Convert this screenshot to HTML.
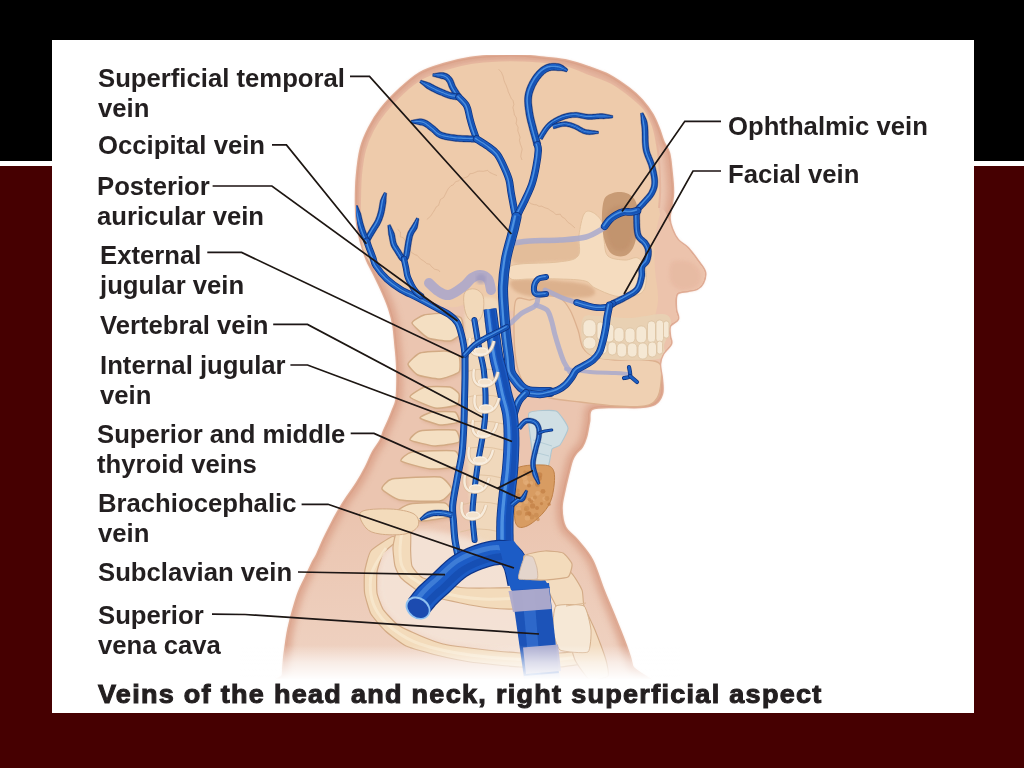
<!DOCTYPE html>
<html><head><meta charset="utf-8">
<style>
html,body{margin:0;padding:0;width:1024px;height:768px;overflow:hidden;background:#460001;}
body{position:relative;font-family:"Liberation Sans",sans-serif;}
#top{position:absolute;left:0;top:0;width:1024px;height:161px;background:#000;}
#band{position:absolute;left:0;top:161px;width:1024px;height:5px;background:#fff;}
#panel{position:absolute;left:52px;top:40px;width:922px;height:673px;background:#fff;overflow:hidden;}
#panel svg{position:absolute;left:0;top:0;}
.lb{position:absolute;will-change:transform;font-weight:bold;font-size:25.7px;line-height:30px;color:#231f20;white-space:nowrap;}
.cap{position:absolute;will-change:transform;font-weight:bold;font-size:25px;color:#231f20;white-space:nowrap;-webkit-text-stroke:1px #231f20;letter-spacing:1.2px;transform-origin:0 0;transform:scaleX(1.08);}
</style></head><body>
<div id="top"></div><div id="band"></div>
<div id="panel">
<svg width="922" height="673" viewBox="52 40 922 673">
<defs>
<linearGradient id="fadeB" x1="0" y1="0" x2="0" y2="1"><stop offset="0" stop-color="#fff" stop-opacity="0"/><stop offset="0.5" stop-color="#fff" stop-opacity="0.6"/><stop offset="1" stop-color="#fff" stop-opacity="1"/></linearGradient>
<filter id="b1" x="-10%" y="-10%" width="120%" height="120%"><feGaussianBlur stdDeviation="1.5"/></filter>
<filter id="b2" x="-10%" y="-10%" width="120%" height="120%"><feGaussianBlur stdDeviation="3"/></filter>
<filter id="b05"><feGaussianBlur stdDeviation="0.6"/></filter>
<clipPath id="silclip"><path d="M282.0,700.0 C223.2,695.8 282.7,681.7 283.0,675.0 C283.3,668.3 283.6,664.5 284.0,660.0 C284.4,655.5 284.8,653.2 285.5,648.0 C286.2,642.8 287.2,635.2 288.5,629.0 C289.8,622.8 291.2,617.2 293.0,611.0 C294.8,604.8 296.8,597.7 299.0,592.0 C301.2,586.3 303.7,582.0 306.0,577.0 C308.3,572.0 311.2,565.7 313.0,562.0 C314.8,558.3 315.2,558.8 317.0,555.0 C318.8,551.2 321.7,544.0 324.0,539.0 C326.3,534.0 328.7,529.5 331.0,525.0 C333.3,520.5 335.5,516.3 338.0,512.0 C340.5,507.7 342.8,503.8 346.0,499.0 C349.2,494.2 353.7,488.3 357.0,483.0 C360.3,477.7 363.3,472.2 366.0,467.0 C368.7,461.8 370.5,456.5 373.0,452.0 C375.5,447.5 379.0,443.5 380.8,440.0 C382.6,436.5 382.6,434.3 384.0,431.0 C385.4,427.7 387.5,423.5 389.0,420.0 C390.5,416.5 391.8,413.3 393.0,410.0 C394.2,406.7 395.8,404.8 396.5,400.0 C397.2,395.2 397.4,387.3 397.5,381.0 C397.6,374.7 397.3,368.0 397.0,362.0 C396.7,356.0 396.1,351.2 395.5,345.0 C394.9,338.8 394.4,330.9 393.4,325.0 C392.4,319.1 391.2,314.8 389.5,309.5 C387.8,304.2 385.6,298.9 383.0,293.0 C380.4,287.1 376.7,279.5 374.0,274.0 C371.3,268.5 369.2,265.3 367.0,260.0 C364.8,254.7 362.7,248.3 361.0,242.0 C359.3,235.7 357.8,229.0 357.0,222.0 C356.2,215.0 356.0,207.8 356.0,200.0 C356.0,192.2 356.2,183.7 357.0,175.0 C357.8,166.3 359.0,155.8 361.0,148.0 C363.0,140.2 365.7,134.5 369.0,128.0 C372.3,121.5 375.8,115.5 381.0,109.0 C386.2,102.5 393.5,95.0 400.0,89.0 C406.5,83.0 412.7,77.2 420.0,73.0 C427.3,68.8 435.7,66.5 444.0,64.0 C452.3,61.5 460.7,59.4 470.0,58.0 C479.3,56.6 491.3,55.9 500.0,55.5 C508.7,55.1 514.3,55.1 522.0,55.5 C529.7,55.9 538.3,57.1 546.0,58.0 C553.7,58.9 560.7,59.4 568.0,61.0 C575.3,62.6 583.1,65.4 590.0,67.8 C596.9,70.2 603.0,72.1 609.5,75.6 C616.0,79.1 623.6,84.5 629.0,88.6 C634.4,92.7 638.1,96.1 642.0,100.4 C645.9,104.8 649.7,109.9 652.5,114.7 C655.3,119.5 657.2,124.5 659.0,129.0 C660.8,133.6 661.8,138.0 663.5,142.0 C665.2,146.0 667.6,147.9 669.0,153.0 C670.4,158.1 670.9,166.0 671.6,172.5 C672.3,179.0 673.0,186.6 673.0,192.0 C673.0,197.4 672.2,200.7 671.6,205.0 C671.0,209.3 669.4,214.0 669.5,218.0 C669.6,222.0 670.6,225.3 672.0,229.0 C673.4,232.7 675.3,236.8 678.0,240.0 C680.7,243.2 684.7,244.5 688.0,248.0 C691.3,251.5 695.2,257.0 698.0,261.0 C700.8,265.0 704.2,268.3 705.0,272.0 C705.8,275.7 704.3,280.2 703.0,283.0 C701.7,285.8 699.5,287.7 697.0,289.0 C694.5,290.3 691.3,290.2 688.0,291.0 C684.7,291.8 679.0,291.0 677.0,294.0 C675.0,297.0 675.8,304.8 676.0,309.0 C676.2,313.2 679.0,316.2 678.0,319.0 C677.0,321.8 671.3,323.2 670.0,326.0 C668.7,328.8 669.8,333.0 670.0,336.0 C670.2,339.0 672.2,341.0 671.0,344.0 C669.8,347.0 664.8,350.7 663.0,354.0 C661.2,357.3 660.2,359.7 660.0,364.0 C659.8,368.3 661.7,375.0 662.0,380.0 C662.3,385.0 663.2,390.0 662.0,394.0 C660.8,398.0 658.7,401.8 655.0,404.0 C651.3,406.2 646.7,406.5 640.0,407.0 C633.3,407.5 623.0,406.7 615.0,407.0 C607.0,407.3 596.3,406.5 592.0,409.0 C587.7,411.5 590.0,417.3 589.0,422.0 C588.0,426.7 587.2,432.9 586.0,437.0 C584.8,441.1 583.7,443.8 582.0,446.5 C580.3,449.2 577.7,450.8 576.0,453.0 C574.3,455.2 573.1,457.3 572.0,460.0 C570.9,462.7 570.2,466.2 569.5,469.0 C568.8,471.8 568.3,473.5 567.5,477.0 C566.7,480.5 565.5,484.8 564.5,490.0 C563.5,495.2 561.4,501.8 561.5,508.0 C561.6,514.2 562.4,521.7 565.0,527.0 C567.6,532.3 572.5,534.5 577.0,540.0 C581.5,545.5 587.7,551.8 592.0,560.0 C596.3,568.2 599.2,579.3 603.0,589.0 C606.8,598.7 611.2,608.5 615.0,618.0 C618.8,627.5 623.2,638.0 626.0,646.0 C628.8,654.0 630.3,657.0 632.0,666.0 C633.7,675.0 694.3,694.3 636.0,700.0 C577.7,705.7 340.8,704.2 282.0,700.0 Z"/></clipPath>
<filter id="gb" x="0" y="0" width="100%" height="100%"><feGaussianBlur stdDeviation="0.45"/></filter>
<linearGradient id="shg" x1="0" y1="0" x2="0" y2="1"><stop offset="0" stop-color="#f2dccf" stop-opacity="0"/><stop offset="1" stop-color="#f2dccf" stop-opacity="0.7"/></linearGradient>
</defs>
<g filter="url(#gb)">
<path d="M282.0,700.0 C223.2,695.8 282.7,681.7 283.0,675.0 C283.3,668.3 283.6,664.5 284.0,660.0 C284.4,655.5 284.8,653.2 285.5,648.0 C286.2,642.8 287.2,635.2 288.5,629.0 C289.8,622.8 291.2,617.2 293.0,611.0 C294.8,604.8 296.8,597.7 299.0,592.0 C301.2,586.3 303.7,582.0 306.0,577.0 C308.3,572.0 311.2,565.7 313.0,562.0 C314.8,558.3 315.2,558.8 317.0,555.0 C318.8,551.2 321.7,544.0 324.0,539.0 C326.3,534.0 328.7,529.5 331.0,525.0 C333.3,520.5 335.5,516.3 338.0,512.0 C340.5,507.7 342.8,503.8 346.0,499.0 C349.2,494.2 353.7,488.3 357.0,483.0 C360.3,477.7 363.3,472.2 366.0,467.0 C368.7,461.8 370.5,456.5 373.0,452.0 C375.5,447.5 379.0,443.5 380.8,440.0 C382.6,436.5 382.6,434.3 384.0,431.0 C385.4,427.7 387.5,423.5 389.0,420.0 C390.5,416.5 391.8,413.3 393.0,410.0 C394.2,406.7 395.8,404.8 396.5,400.0 C397.2,395.2 397.4,387.3 397.5,381.0 C397.6,374.7 397.3,368.0 397.0,362.0 C396.7,356.0 396.1,351.2 395.5,345.0 C394.9,338.8 394.4,330.9 393.4,325.0 C392.4,319.1 391.2,314.8 389.5,309.5 C387.8,304.2 385.6,298.9 383.0,293.0 C380.4,287.1 376.7,279.5 374.0,274.0 C371.3,268.5 369.2,265.3 367.0,260.0 C364.8,254.7 362.7,248.3 361.0,242.0 C359.3,235.7 357.8,229.0 357.0,222.0 C356.2,215.0 356.0,207.8 356.0,200.0 C356.0,192.2 356.2,183.7 357.0,175.0 C357.8,166.3 359.0,155.8 361.0,148.0 C363.0,140.2 365.7,134.5 369.0,128.0 C372.3,121.5 375.8,115.5 381.0,109.0 C386.2,102.5 393.5,95.0 400.0,89.0 C406.5,83.0 412.7,77.2 420.0,73.0 C427.3,68.8 435.7,66.5 444.0,64.0 C452.3,61.5 460.7,59.4 470.0,58.0 C479.3,56.6 491.3,55.9 500.0,55.5 C508.7,55.1 514.3,55.1 522.0,55.5 C529.7,55.9 538.3,57.1 546.0,58.0 C553.7,58.9 560.7,59.4 568.0,61.0 C575.3,62.6 583.1,65.4 590.0,67.8 C596.9,70.2 603.0,72.1 609.5,75.6 C616.0,79.1 623.6,84.5 629.0,88.6 C634.4,92.7 638.1,96.1 642.0,100.4 C645.9,104.8 649.7,109.9 652.5,114.7 C655.3,119.5 657.2,124.5 659.0,129.0 C660.8,133.6 661.8,138.0 663.5,142.0 C665.2,146.0 667.6,147.9 669.0,153.0 C670.4,158.1 670.9,166.0 671.6,172.5 C672.3,179.0 673.0,186.6 673.0,192.0 C673.0,197.4 672.2,200.7 671.6,205.0 C671.0,209.3 669.4,214.0 669.5,218.0 C669.6,222.0 670.6,225.3 672.0,229.0 C673.4,232.7 675.3,236.8 678.0,240.0 C680.7,243.2 684.7,244.5 688.0,248.0 C691.3,251.5 695.2,257.0 698.0,261.0 C700.8,265.0 704.2,268.3 705.0,272.0 C705.8,275.7 704.3,280.2 703.0,283.0 C701.7,285.8 699.5,287.7 697.0,289.0 C694.5,290.3 691.3,290.2 688.0,291.0 C684.7,291.8 679.0,291.0 677.0,294.0 C675.0,297.0 675.8,304.8 676.0,309.0 C676.2,313.2 679.0,316.2 678.0,319.0 C677.0,321.8 671.3,323.2 670.0,326.0 C668.7,328.8 669.8,333.0 670.0,336.0 C670.2,339.0 672.2,341.0 671.0,344.0 C669.8,347.0 664.8,350.7 663.0,354.0 C661.2,357.3 660.2,359.7 660.0,364.0 C659.8,368.3 661.7,375.0 662.0,380.0 C662.3,385.0 663.2,390.0 662.0,394.0 C660.8,398.0 658.7,401.8 655.0,404.0 C651.3,406.2 646.7,406.5 640.0,407.0 C633.3,407.5 623.0,406.7 615.0,407.0 C607.0,407.3 596.3,406.5 592.0,409.0 C587.7,411.5 590.0,417.3 589.0,422.0 C588.0,426.7 587.2,432.9 586.0,437.0 C584.8,441.1 583.7,443.8 582.0,446.5 C580.3,449.2 577.7,450.8 576.0,453.0 C574.3,455.2 573.1,457.3 572.0,460.0 C570.9,462.7 570.2,466.2 569.5,469.0 C568.8,471.8 568.3,473.5 567.5,477.0 C566.7,480.5 565.5,484.8 564.5,490.0 C563.5,495.2 561.4,501.8 561.5,508.0 C561.6,514.2 562.4,521.7 565.0,527.0 C567.6,532.3 572.5,534.5 577.0,540.0 C581.5,545.5 587.7,551.8 592.0,560.0 C596.3,568.2 599.2,579.3 603.0,589.0 C606.8,598.7 611.2,608.5 615.0,618.0 C618.8,627.5 623.2,638.0 626.0,646.0 C628.8,654.0 630.3,657.0 632.0,666.0 C633.7,675.0 694.3,694.3 636.0,700.0 C577.7,705.7 340.8,704.2 282.0,700.0 Z" fill="#e3b29b" filter="url(#b1)"/>
<linearGradient id="skg" x1="0" y1="0" x2="0" y2="1" gradientUnits="userSpaceOnUse" gradientTransform="scale(1,1)"><stop offset="0" stop-color="#ebc5b0"/></linearGradient>
<path d="M282.0,700.0 C223.2,695.8 282.7,681.7 283.0,675.0 C283.3,668.3 283.6,664.5 284.0,660.0 C284.4,655.5 284.8,653.2 285.5,648.0 C286.2,642.8 287.2,635.2 288.5,629.0 C289.8,622.8 291.2,617.2 293.0,611.0 C294.8,604.8 296.8,597.7 299.0,592.0 C301.2,586.3 303.7,582.0 306.0,577.0 C308.3,572.0 311.2,565.7 313.0,562.0 C314.8,558.3 315.2,558.8 317.0,555.0 C318.8,551.2 321.7,544.0 324.0,539.0 C326.3,534.0 328.7,529.5 331.0,525.0 C333.3,520.5 335.5,516.3 338.0,512.0 C340.5,507.7 342.8,503.8 346.0,499.0 C349.2,494.2 353.7,488.3 357.0,483.0 C360.3,477.7 363.3,472.2 366.0,467.0 C368.7,461.8 370.5,456.5 373.0,452.0 C375.5,447.5 379.0,443.5 380.8,440.0 C382.6,436.5 382.6,434.3 384.0,431.0 C385.4,427.7 387.5,423.5 389.0,420.0 C390.5,416.5 391.8,413.3 393.0,410.0 C394.2,406.7 395.8,404.8 396.5,400.0 C397.2,395.2 397.4,387.3 397.5,381.0 C397.6,374.7 397.3,368.0 397.0,362.0 C396.7,356.0 396.1,351.2 395.5,345.0 C394.9,338.8 394.4,330.9 393.4,325.0 C392.4,319.1 391.2,314.8 389.5,309.5 C387.8,304.2 385.6,298.9 383.0,293.0 C380.4,287.1 376.7,279.5 374.0,274.0 C371.3,268.5 369.2,265.3 367.0,260.0 C364.8,254.7 362.7,248.3 361.0,242.0 C359.3,235.7 357.8,229.0 357.0,222.0 C356.2,215.0 356.0,207.8 356.0,200.0 C356.0,192.2 356.2,183.7 357.0,175.0 C357.8,166.3 359.0,155.8 361.0,148.0 C363.0,140.2 365.7,134.5 369.0,128.0 C372.3,121.5 375.8,115.5 381.0,109.0 C386.2,102.5 393.5,95.0 400.0,89.0 C406.5,83.0 412.7,77.2 420.0,73.0 C427.3,68.8 435.7,66.5 444.0,64.0 C452.3,61.5 460.7,59.4 470.0,58.0 C479.3,56.6 491.3,55.9 500.0,55.5 C508.7,55.1 514.3,55.1 522.0,55.5 C529.7,55.9 538.3,57.1 546.0,58.0 C553.7,58.9 560.7,59.4 568.0,61.0 C575.3,62.6 583.1,65.4 590.0,67.8 C596.9,70.2 603.0,72.1 609.5,75.6 C616.0,79.1 623.6,84.5 629.0,88.6 C634.4,92.7 638.1,96.1 642.0,100.4 C645.9,104.8 649.7,109.9 652.5,114.7 C655.3,119.5 657.2,124.5 659.0,129.0 C660.8,133.6 661.8,138.0 663.5,142.0 C665.2,146.0 667.6,147.9 669.0,153.0 C670.4,158.1 670.9,166.0 671.6,172.5 C672.3,179.0 673.0,186.6 673.0,192.0 C673.0,197.4 672.2,200.7 671.6,205.0 C671.0,209.3 669.4,214.0 669.5,218.0 C669.6,222.0 670.6,225.3 672.0,229.0 C673.4,232.7 675.3,236.8 678.0,240.0 C680.7,243.2 684.7,244.5 688.0,248.0 C691.3,251.5 695.2,257.0 698.0,261.0 C700.8,265.0 704.2,268.3 705.0,272.0 C705.8,275.7 704.3,280.2 703.0,283.0 C701.7,285.8 699.5,287.7 697.0,289.0 C694.5,290.3 691.3,290.2 688.0,291.0 C684.7,291.8 679.0,291.0 677.0,294.0 C675.0,297.0 675.8,304.8 676.0,309.0 C676.2,313.2 679.0,316.2 678.0,319.0 C677.0,321.8 671.3,323.2 670.0,326.0 C668.7,328.8 669.8,333.0 670.0,336.0 C670.2,339.0 672.2,341.0 671.0,344.0 C669.8,347.0 664.8,350.7 663.0,354.0 C661.2,357.3 660.2,359.7 660.0,364.0 C659.8,368.3 661.7,375.0 662.0,380.0 C662.3,385.0 663.2,390.0 662.0,394.0 C660.8,398.0 658.7,401.8 655.0,404.0 C651.3,406.2 646.7,406.5 640.0,407.0 C633.3,407.5 623.0,406.7 615.0,407.0 C607.0,407.3 596.3,406.5 592.0,409.0 C587.7,411.5 590.0,417.3 589.0,422.0 C588.0,426.7 587.2,432.9 586.0,437.0 C584.8,441.1 583.7,443.8 582.0,446.5 C580.3,449.2 577.7,450.8 576.0,453.0 C574.3,455.2 573.1,457.3 572.0,460.0 C570.9,462.7 570.2,466.2 569.5,469.0 C568.8,471.8 568.3,473.5 567.5,477.0 C566.7,480.5 565.5,484.8 564.5,490.0 C563.5,495.2 561.4,501.8 561.5,508.0 C561.6,514.2 562.4,521.7 565.0,527.0 C567.6,532.3 572.5,534.5 577.0,540.0 C581.5,545.5 587.7,551.8 592.0,560.0 C596.3,568.2 599.2,579.3 603.0,589.0 C606.8,598.7 611.2,608.5 615.0,618.0 C618.8,627.5 623.2,638.0 626.0,646.0 C628.8,654.0 630.3,657.0 632.0,666.0 C633.7,675.0 694.3,694.3 636.0,700.0 C577.7,705.7 340.8,704.2 282.0,700.0 Z" fill="#ebc5b0" stroke="#e0ac95" stroke-width="2.5"/>
<rect x="280" y="520" width="380" height="180" fill="url(#shg)" clip-path="url(#silclip)"/>
<g clip-path="url(#silclip)">
<path d="M282.0,700.0 C223.2,695.8 282.7,681.7 283.0,675.0 C283.3,668.3 283.6,664.5 284.0,660.0 C284.4,655.5 284.8,653.2 285.5,648.0 C286.2,642.8 287.2,635.2 288.5,629.0 C289.8,622.8 291.2,617.2 293.0,611.0 C294.8,604.8 296.8,597.7 299.0,592.0 C301.2,586.3 303.7,582.0 306.0,577.0 C308.3,572.0 311.2,565.7 313.0,562.0 C314.8,558.3 315.2,558.8 317.0,555.0 C318.8,551.2 321.7,544.0 324.0,539.0 C326.3,534.0 328.7,529.5 331.0,525.0 C333.3,520.5 335.5,516.3 338.0,512.0 C340.5,507.7 342.8,503.8 346.0,499.0 C349.2,494.2 353.7,488.3 357.0,483.0 C360.3,477.7 363.3,472.2 366.0,467.0 C368.7,461.8 370.5,456.5 373.0,452.0 C375.5,447.5 379.0,443.5 380.8,440.0 C382.6,436.5 382.6,434.3 384.0,431.0 C385.4,427.7 387.5,423.5 389.0,420.0 C390.5,416.5 391.8,413.3 393.0,410.0 C394.2,406.7 395.8,404.8 396.5,400.0 C397.2,395.2 397.4,387.3 397.5,381.0 C397.6,374.7 397.3,368.0 397.0,362.0 C396.7,356.0 396.1,351.2 395.5,345.0 C394.9,338.8 394.4,330.9 393.4,325.0 C392.4,319.1 391.2,314.8 389.5,309.5 C387.8,304.2 385.6,298.9 383.0,293.0 C380.4,287.1 376.7,279.5 374.0,274.0 C371.3,268.5 369.2,265.3 367.0,260.0 C364.8,254.7 362.7,248.3 361.0,242.0 C359.3,235.7 357.8,229.0 357.0,222.0 C356.2,215.0 356.0,207.8 356.0,200.0 C356.0,192.2 356.2,183.7 357.0,175.0 C357.8,166.3 359.0,155.8 361.0,148.0 C363.0,140.2 365.7,134.5 369.0,128.0 C372.3,121.5 375.8,115.5 381.0,109.0 C386.2,102.5 393.5,95.0 400.0,89.0 C406.5,83.0 412.7,77.2 420.0,73.0 C427.3,68.8 435.7,66.5 444.0,64.0 C452.3,61.5 460.7,59.4 470.0,58.0 C479.3,56.6 491.3,55.9 500.0,55.5 C508.7,55.1 514.3,55.1 522.0,55.5 C529.7,55.9 538.3,57.1 546.0,58.0 C553.7,58.9 560.7,59.4 568.0,61.0 C575.3,62.6 583.1,65.4 590.0,67.8 C596.9,70.2 603.0,72.1 609.5,75.6 C616.0,79.1 623.6,84.5 629.0,88.6 C634.4,92.7 638.1,96.1 642.0,100.4 C645.9,104.8 649.7,109.9 652.5,114.7 C655.3,119.5 657.2,124.5 659.0,129.0 C660.8,133.6 661.8,138.0 663.5,142.0 C665.2,146.0 667.6,147.9 669.0,153.0 C670.4,158.1 670.9,166.0 671.6,172.5 C672.3,179.0 673.0,186.6 673.0,192.0 C673.0,197.4 672.2,200.7 671.6,205.0 C671.0,209.3 669.4,214.0 669.5,218.0 C669.6,222.0 670.6,225.3 672.0,229.0 C673.4,232.7 675.3,236.8 678.0,240.0 C680.7,243.2 684.7,244.5 688.0,248.0 C691.3,251.5 695.2,257.0 698.0,261.0 C700.8,265.0 704.2,268.3 705.0,272.0 C705.8,275.7 704.3,280.2 703.0,283.0 C701.7,285.8 699.5,287.7 697.0,289.0 C694.5,290.3 691.3,290.2 688.0,291.0 C684.7,291.8 679.0,291.0 677.0,294.0 C675.0,297.0 675.8,304.8 676.0,309.0 C676.2,313.2 679.0,316.2 678.0,319.0 C677.0,321.8 671.3,323.2 670.0,326.0 C668.7,328.8 669.8,333.0 670.0,336.0 C670.2,339.0 672.2,341.0 671.0,344.0 C669.8,347.0 664.8,350.7 663.0,354.0 C661.2,357.3 660.2,359.7 660.0,364.0 C659.8,368.3 661.7,375.0 662.0,380.0 C662.3,385.0 663.2,390.0 662.0,394.0 C660.8,398.0 658.7,401.8 655.0,404.0 C651.3,406.2 646.7,406.5 640.0,407.0 C633.3,407.5 623.0,406.7 615.0,407.0 C607.0,407.3 596.3,406.5 592.0,409.0 C587.7,411.5 590.0,417.3 589.0,422.0 C588.0,426.7 587.2,432.9 586.0,437.0 C584.8,441.1 583.7,443.8 582.0,446.5 C580.3,449.2 577.7,450.8 576.0,453.0 C574.3,455.2 573.1,457.3 572.0,460.0 C570.9,462.7 570.2,466.2 569.5,469.0 C568.8,471.8 568.3,473.5 567.5,477.0 C566.7,480.5 565.5,484.8 564.5,490.0 C563.5,495.2 561.4,501.8 561.5,508.0 C561.6,514.2 562.4,521.7 565.0,527.0 C567.6,532.3 572.5,534.5 577.0,540.0 C581.5,545.5 587.7,551.8 592.0,560.0 C596.3,568.2 599.2,579.3 603.0,589.0 C606.8,598.7 611.2,608.5 615.0,618.0 C618.8,627.5 623.2,638.0 626.0,646.0 C628.8,654.0 630.3,657.0 632.0,666.0 C633.7,675.0 694.3,694.3 636.0,700.0 C577.7,705.7 340.8,704.2 282.0,700.0 Z" fill="none" stroke="#d89c84" stroke-width="11" filter="url(#b2)" opacity="0.75"/>
<path d="M376.0,271.0 C372.3,267.2 369.3,262.3 367.0,258.0 C364.7,253.7 363.2,250.5 362.0,245.0 C360.8,239.5 360.3,232.5 360.0,225.0 C359.7,217.5 359.8,208.3 360.0,200.0 C360.2,191.7 360.2,183.3 361.0,175.0 C361.8,166.7 363.0,157.5 365.0,150.0 C367.0,142.5 369.7,136.3 373.0,130.0 C376.3,123.7 380.0,118.2 385.0,112.0 C390.0,105.8 396.7,98.7 403.0,93.0 C409.3,87.3 415.8,82.0 423.0,78.0 C430.2,74.0 438.0,71.5 446.0,69.0 C454.0,66.5 462.0,64.4 471.0,63.0 C480.0,61.6 491.5,60.9 500.0,60.5 C508.5,60.1 514.5,60.2 522.0,60.5 C529.5,60.8 537.3,61.1 545.0,62.0 C552.7,62.9 560.5,64.0 568.0,66.0 C575.5,68.0 582.7,71.5 590.0,74.3 C597.3,77.1 605.5,79.5 612.0,83.0 C618.5,86.5 623.5,90.6 629.0,95.0 C634.5,99.4 640.8,104.5 644.7,109.5 C648.6,114.5 650.5,119.8 652.5,125.0 C654.5,130.2 655.3,134.9 656.4,140.7 C657.5,146.5 658.4,153.4 659.0,160.0 C659.6,166.6 659.8,174.2 660.0,180.0 C660.2,185.8 660.2,190.3 660.0,195.0 C659.8,199.7 658.7,203.5 659.0,208.0 C659.3,212.5 661.0,217.3 662.0,222.0 C663.0,226.7 664.0,231.0 665.0,236.0 C666.0,241.0 667.3,246.7 668.0,252.0 C668.7,257.3 669.7,263.3 669.0,268.0 C668.3,272.7 664.2,276.0 664.0,280.0 C663.8,284.0 667.5,287.0 668.0,292.0 C668.5,297.0 667.0,304.3 667.0,310.0 C667.0,315.7 668.8,321.0 668.0,326.0 C667.2,331.0 663.3,335.7 662.0,340.0 C660.7,344.3 661.2,348.3 660.0,352.0 C658.8,355.7 656.0,357.7 655.0,362.0 C654.0,366.3 654.0,372.5 654.0,378.0 C654.0,383.5 655.7,391.0 655.0,395.0 C654.3,399.0 654.2,400.5 650.0,402.0 C645.8,403.5 637.5,403.8 630.0,404.0 C622.5,404.2 612.5,403.3 605.0,403.0 C597.5,402.7 591.7,402.8 585.0,402.0 C578.3,401.2 571.2,399.7 565.0,398.0 C558.8,396.3 552.2,395.0 548.0,392.0 C543.8,389.0 541.8,385.3 540.0,380.0 C538.2,374.7 537.8,367.5 537.0,360.0 C536.2,352.5 535.8,342.0 535.0,335.0 C534.2,328.0 534.2,321.8 532.0,318.0 C529.8,314.2 526.5,313.3 522.0,312.0 C517.5,310.7 510.3,311.0 505.0,310.0 C499.7,309.0 495.5,307.3 490.0,306.0 C484.5,304.7 477.7,301.8 472.0,302.0 C466.3,302.2 461.3,306.5 456.0,307.0 C450.7,307.5 446.0,306.7 440.0,305.0 C434.0,303.3 426.2,299.7 420.0,297.0 C413.8,294.3 408.2,291.7 403.0,289.0 C397.8,286.3 393.5,284.0 389.0,281.0 C384.5,278.0 379.7,274.8 376.0,271.0 Z" fill="#eecbab" filter="url(#b05)"/>
<path d="M362.0,250.0 C361.7,245.8 360.3,233.3 360.0,225.0 C359.7,216.7 359.8,208.3 360.0,200.0 C360.2,191.7 360.2,183.3 361.0,175.0 C361.8,166.7 363.0,157.5 365.0,150.0 C367.0,142.5 369.7,136.3 373.0,130.0 C376.3,123.7 380.0,118.2 385.0,112.0 C390.0,105.8 396.7,98.7 403.0,93.0 C409.3,87.3 415.8,82.0 423.0,78.0 C430.2,74.0 438.0,71.5 446.0,69.0 C454.0,66.5 462.0,64.4 471.0,63.0 C480.0,61.6 491.5,60.9 500.0,60.5 C508.5,60.1 514.5,60.2 522.0,60.5 C529.5,60.8 537.3,61.1 545.0,62.0 C552.7,62.9 560.5,64.0 568.0,66.0 C575.5,68.0 582.7,71.5 590.0,74.3 C597.3,77.1 605.5,79.5 612.0,83.0 C618.5,86.5 623.5,90.6 629.0,95.0 C634.5,99.4 640.8,104.5 644.7,109.5 C648.6,114.5 650.5,119.8 652.5,125.0 C654.5,130.2 655.3,134.9 656.4,140.7 C657.5,146.5 658.4,153.4 659.0,160.0 C659.6,166.6 659.8,174.2 660.0,180.0 C660.2,185.8 660.2,190.3 660.0,195.0 C659.8,199.7 659.2,205.8 659.0,208.0" fill="none" stroke="#e4b49c" stroke-width="2" opacity="0.9"/>
<path d="M498.6,69.2 L501.4,72.3 L503.1,76.3 L503.9,80.0 L504.9,82.8 L506.0,85.0 L507.8,89.8 L508.1,91.3 L510.3,96.3 L511.2,98.3 L513.1,100.7 L513.9,104.5 L512.9,107.3 L514.0,112.3 L514.5,114.9 L516.3,117.7 L516.7,120.1 L516.1,123.6 L518.1,127.3 L517.8,130.8 L518.7,133.2 L520.1,137.3 L519.4,140.2 L520.4,144.2 L521.2,146.2 L522.2,149.1 L521.1,154.0 L520.8,156.6 L522.0,160.0" fill="none" stroke="#d5aa86" stroke-width="1" opacity="0.55"/>
<path d="M426.9,219.4 L430.6,216.2 L432.9,212.6 L434.5,210.2 L436.2,206.9 L438.6,205.4 L439.6,202.1 L440.4,199.5 L443.7,197.5 L445.9,193.1 L446.7,191.4 L448.3,188.7 L451.0,185.7 L453.1,185.0 L455.7,181.6 L458.7,180.9 L460.8,178.4 L464.7,177.9 L468.2,176.4 L469.7,173.8 L472.7,173.4 L477.7,171.3 L479.5,171.1 L483.2,171.3 L487.7,170.4 L489.5,172.3 L493.5,174.2 L497.0,175.6" fill="none" stroke="#d5aa86" stroke-width="1" opacity="0.55"/>
<path d="M521.1,200.5 L523.4,201.3 L527.1,200.9 L531.0,203.7 L534.2,204.7 L536.4,204.8 L539.0,206.3 L541.8,206.2 L545.0,207.8 L548.2,208.8 L550.2,210.3 L553.3,212.1 L556.0,214.6 L560.3,214.2 L561.9,216.8 L564.7,218.4 L568.3,222.7 L569.9,223.6 L571.5,224.9 L575.0,228.0" fill="none" stroke="#d5aa86" stroke-width="1" opacity="0.55"/>
<path d="M397.6,229.4 L400.5,232.0 L400.3,236.8 L403.2,237.7 L405.0,240.3 L406.6,245.4 L409.2,247.6 L409.4,249.7 L411.7,252.7 L415.1,254.7 L417.1,255.3 L420.7,259.2 L423.3,260.7 L425.8,262.6 L426.8,263.7 L429.7,264.2 L431.4,266.5 L434.4,269.1 L438.6,270.2 L440.0,272.0" fill="none" stroke="#d5aa86" stroke-width="1" opacity="0.55"/>
<path d="M662.0,210.0 C664.5,207.0 667.8,218.2 670.0,222.0 C672.2,225.8 672.0,228.7 675.0,233.0 C678.0,237.3 684.2,243.3 688.0,248.0 C691.8,252.7 695.2,257.0 698.0,261.0 C700.8,265.0 704.2,268.3 705.0,272.0 C705.8,275.7 704.3,280.2 703.0,283.0 C701.7,285.8 699.5,287.7 697.0,289.0 C694.5,290.3 691.3,290.2 688.0,291.0 C684.7,291.8 679.0,291.0 677.0,294.0 C675.0,297.0 675.8,304.8 676.0,309.0 C676.2,313.2 679.0,316.2 678.0,319.0 C677.0,321.8 671.3,323.2 670.0,326.0 C668.7,328.8 669.8,333.0 670.0,336.0 C670.2,339.0 672.2,341.0 671.0,344.0 C669.8,347.0 664.8,350.7 663.0,354.0 C661.2,357.3 662.2,363.0 660.0,364.0 C657.8,365.0 651.3,365.7 650.0,360.0 C648.7,354.3 650.7,340.0 652.0,330.0 C653.3,320.0 657.5,310.0 658.0,300.0 C658.5,290.0 655.5,280.0 655.0,270.0 C654.5,260.0 653.8,250.0 655.0,240.0 C656.2,230.0 659.5,213.0 662.0,210.0 Z" fill="#ecc3ac" stroke="none" stroke-width="0" opacity="1" />
<path d="M672.0,262.0 C675.3,259.0 685.3,260.3 690.0,262.0 C694.7,263.7 698.5,268.3 700.0,272.0 C701.5,275.7 700.7,281.2 699.0,284.0 C697.3,286.8 693.5,288.2 690.0,289.0 C686.5,289.8 681.3,290.5 678.0,289.0 C674.7,287.5 671.0,284.5 670.0,280.0 C669.0,275.5 668.7,265.0 672.0,262.0 Z" fill="#e7b9a2" stroke="none" stroke-width="0" opacity="0.8" filter="url(#b1)"/>
<path d="M512.0,244.0 C517.0,240.2 534.3,240.7 545.0,240.0 C555.7,239.3 570.2,238.0 576.0,240.0 C581.8,242.0 580.2,248.7 580.0,252.0 C579.8,255.3 580.8,258.3 575.0,260.0 C569.2,261.7 555.0,261.5 545.0,262.0 C535.0,262.5 520.5,266.0 515.0,263.0 C509.5,260.0 507.0,247.8 512.0,244.0 Z" fill="#dfb894" stroke="none" stroke-width="0" opacity="0.75" filter="url(#b1)"/>
<path d="M514.0,280.0 C521.7,278.5 547.3,280.0 560.0,281.0 C572.7,282.0 584.7,283.5 590.0,286.0 C595.3,288.5 597.0,294.0 592.0,296.0 C587.0,298.0 570.3,298.0 560.0,298.0 C549.7,298.0 537.7,297.3 530.0,296.0 C522.3,294.7 516.7,292.7 514.0,290.0 C511.3,287.3 506.3,281.5 514.0,280.0 Z" fill="#d8ab86" stroke="none" stroke-width="0" opacity="0.8" filter="url(#b1)"/>
<path d="M584.0,214.0 C586.2,210.2 589.0,210.7 592.0,212.0 C595.0,213.3 600.0,217.3 602.0,222.0 C604.0,226.7 603.0,234.3 604.0,240.0 C605.0,245.7 604.5,252.7 608.0,256.0 C611.5,259.3 620.0,259.7 625.0,260.0 C630.0,260.3 634.5,256.3 638.0,258.0 C641.5,259.7 645.0,264.7 646.0,270.0 C647.0,275.3 646.3,285.7 644.0,290.0 C641.7,294.3 636.8,295.0 632.0,296.0 C627.2,297.0 621.2,297.3 615.0,296.0 C608.8,294.7 600.0,290.5 595.0,288.0 C590.0,285.5 590.8,282.5 585.0,281.0 C579.2,279.5 569.2,279.3 560.0,279.0 C550.8,278.7 538.2,279.0 530.0,279.0 C521.8,279.0 514.5,280.8 511.0,279.0 C507.5,277.2 507.5,270.5 509.0,268.0 C510.5,265.5 511.8,265.0 520.0,264.0 C528.2,263.0 548.3,263.3 558.0,262.0 C567.7,260.7 574.5,260.5 578.0,256.0 C581.5,251.5 578.0,242.0 579.0,235.0 C580.0,228.0 581.8,217.8 584.0,214.0 Z" fill="#f5dcbf" stroke="#e2c09c" stroke-width="1" opacity="1" filter="url(#b05)"/>
<path d="M604.0,200.0 C605.8,195.2 609.3,194.2 613.0,193.0 C616.7,191.8 622.3,191.8 626.0,193.0 C629.7,194.2 633.0,196.5 635.0,200.0 C637.0,203.5 637.7,208.7 638.0,214.0 C638.3,219.3 637.8,226.3 637.0,232.0 C636.2,237.7 635.2,244.0 633.0,248.0 C630.8,252.0 627.5,255.0 624.0,256.0 C620.5,257.0 615.2,256.3 612.0,254.0 C608.8,251.7 606.7,247.3 605.0,242.0 C603.3,236.7 602.2,229.0 602.0,222.0 C601.8,215.0 602.2,204.8 604.0,200.0 Z" fill="#c89b74" stroke="none" stroke-width="0" opacity="1" filter="url(#b05)"/>
<path d="M607.0,214.0 C608.5,209.3 612.5,207.0 616.0,206.0 C619.5,205.0 625.0,205.7 628.0,208.0 C631.0,210.3 633.3,214.7 634.0,220.0 C634.7,225.3 633.7,235.0 632.0,240.0 C630.3,245.0 627.2,248.7 624.0,250.0 C620.8,251.3 615.8,250.7 613.0,248.0 C610.2,245.3 608.0,239.7 607.0,234.0 C606.0,228.3 605.5,218.7 607.0,214.0 Z" fill="#bf8f6a" stroke="none" stroke-width="0" opacity="0.6" filter="url(#b1)"/>
<path d="M516.0,300.0 C513.3,305.0 514.0,320.0 514.0,330.0 C514.0,340.0 514.7,351.7 516.0,360.0 C517.3,368.3 519.3,374.7 522.0,380.0 C524.7,385.3 527.3,389.0 532.0,392.0 C536.7,395.0 542.0,396.3 550.0,398.0 C558.0,399.7 569.2,400.7 580.0,402.0 C590.8,403.3 604.2,405.3 615.0,406.0 C625.8,406.7 638.0,407.3 645.0,406.0 C652.0,404.7 654.3,402.0 657.0,398.0 C659.7,394.0 660.5,387.7 661.0,382.0 C661.5,376.3 662.7,367.7 660.0,364.0 C657.3,360.3 652.5,360.7 645.0,360.0 C637.5,359.3 623.3,360.5 615.0,360.0 C606.7,359.5 600.3,359.0 595.0,357.0 C589.7,355.0 585.8,352.5 583.0,348.0 C580.2,343.5 580.2,336.3 578.0,330.0 C575.8,323.7 573.0,315.3 570.0,310.0 C567.0,304.7 564.2,300.3 560.0,298.0 C555.8,295.7 550.0,295.7 545.0,296.0 C540.0,296.3 534.8,299.3 530.0,300.0 C525.2,300.7 518.7,295.0 516.0,300.0 Z" fill="#efd0b2" stroke="#dcb08e" stroke-width="1.3" opacity="1" />
<path d="M583.0,318.0 C585.8,313.2 592.2,316.0 600.0,316.0 C607.8,316.0 620.0,318.3 630.0,318.0 C640.0,317.7 653.3,314.0 660.0,314.0 C666.7,314.0 668.3,315.3 670.0,318.0 C671.7,320.7 671.0,325.3 670.0,330.0 C669.0,334.7 664.7,341.7 664.0,346.0 C663.3,350.3 668.3,353.7 666.0,356.0 C663.7,358.3 657.7,359.3 650.0,360.0 C642.3,360.7 629.2,360.5 620.0,360.0 C610.8,359.5 601.2,359.5 595.0,357.0 C588.8,354.5 585.0,351.5 583.0,345.0 C581.0,338.5 580.2,322.8 583.0,318.0 Z" fill="#e8d2b4" stroke="none" stroke-width="0" opacity="0.9" />
<rect x="583" y="319.6" width="13" height="17.399999999999977" rx="5.9" fill="#f5e8d4" stroke="#dcc3a2" stroke-width="0.8"/>
<rect x="597" y="322" width="7" height="18" rx="3.2" fill="#f5e8d4" stroke="#dcc3a2" stroke-width="0.8"/>
<rect x="604" y="324" width="10" height="18" rx="4.5" fill="#f5e8d4" stroke="#dcc3a2" stroke-width="0.8"/>
<rect x="614" y="327.5" width="10" height="14.5" rx="4.5" fill="#f5e8d4" stroke="#dcc3a2" stroke-width="0.8"/>
<rect x="625" y="328" width="10" height="15" rx="4.5" fill="#f5e8d4" stroke="#dcc3a2" stroke-width="0.8"/>
<rect x="636" y="326" width="10.5" height="17" rx="4.8" fill="#f5e8d4" stroke="#dcc3a2" stroke-width="0.8"/>
<rect x="647.5" y="321" width="8.0" height="21.5" rx="3.6" fill="#f5e8d4" stroke="#dcc3a2" stroke-width="0.8"/>
<rect x="656" y="320" width="7.5" height="22" rx="3.4" fill="#f5e8d4" stroke="#dcc3a2" stroke-width="0.8"/>
<rect x="663.5" y="321" width="5.5" height="17" rx="2.5" fill="#f5e8d4" stroke="#dcc3a2" stroke-width="0.8"/>
<rect x="583" y="337" width="13" height="12" rx="5.9" fill="#f5e8d4" stroke="#dcc3a2" stroke-width="0.8"/>
<rect x="597" y="342" width="10" height="12" rx="4.5" fill="#f5e8d4" stroke="#dcc3a2" stroke-width="0.8"/>
<rect x="608" y="342" width="8.5" height="13" rx="3.9" fill="#f5e8d4" stroke="#dcc3a2" stroke-width="0.8"/>
<rect x="617" y="343" width="9.5" height="14" rx="4.3" fill="#f5e8d4" stroke="#dcc3a2" stroke-width="0.8"/>
<rect x="627.5" y="343" width="9.5" height="14" rx="4.3" fill="#f5e8d4" stroke="#dcc3a2" stroke-width="0.8"/>
<rect x="638" y="343" width="9.5" height="16" rx="4.3" fill="#f5e8d4" stroke="#dcc3a2" stroke-width="0.8"/>
<rect x="648" y="342" width="8.5" height="15" rx="3.9" fill="#f5e8d4" stroke="#dcc3a2" stroke-width="0.8"/>
<rect x="657" y="341" width="5.5" height="13" rx="2.5" fill="#f5e8d4" stroke="#dcc3a2" stroke-width="0.8"/>
<path d="M468.0,305.0 C474.0,295.5 493.7,293.8 500.0,303.0 C506.3,312.2 504.3,338.8 506.0,360.0 C507.7,381.2 509.0,406.7 510.0,430.0 C511.0,453.3 512.0,480.8 512.0,500.0 C512.0,519.2 516.0,537.0 510.0,545.0 C504.0,553.0 482.7,555.5 476.0,548.0 C469.3,540.5 471.7,519.7 470.0,500.0 C468.3,480.3 467.0,453.3 466.0,430.0 C465.0,406.7 463.7,380.8 464.0,360.0 C464.3,339.2 462.0,314.5 468.0,305.0 Z" fill="#f1dabd" stroke="none" stroke-width="0" opacity="0.95" filter="url(#b1)"/>
<path d="M466.0,340 q18,-6 40,0" fill="none" stroke="#dcbc99" stroke-width="1.2" opacity="0.7"/>
<path d="M465.0,372 q18,-6 40,0" fill="none" stroke="#dcbc99" stroke-width="1.2" opacity="0.7"/>
<path d="M464.3,398 q18,-6 40,0" fill="none" stroke="#dcbc99" stroke-width="1.2" opacity="0.7"/>
<path d="M463.5,424 q18,-6 40,0" fill="none" stroke="#dcbc99" stroke-width="1.2" opacity="0.7"/>
<path d="M462.7,450 q18,-6 40,0" fill="none" stroke="#dcbc99" stroke-width="1.2" opacity="0.7"/>
<path d="M461.9,478 q18,-6 40,0" fill="none" stroke="#dcbc99" stroke-width="1.2" opacity="0.7"/>
<path d="M461.1,505 q18,-6 40,0" fill="none" stroke="#dcbc99" stroke-width="1.2" opacity="0.7"/>
<path d="M460.2,532 q18,-6 40,0" fill="none" stroke="#dcbc99" stroke-width="1.2" opacity="0.7"/>
<path d="M413.5,325.5 C413.2,323.6 422.8,318.3 425.5,317.5 C428.2,316.7 443.4,315.2 446.5,315.5 C449.6,315.8 461.0,318.9 462.5,320.5 C464.0,322.1 465.4,332.6 464.5,334.5 C463.6,336.4 454.4,343.0 451.5,343.5 C448.6,344.0 432.7,342.0 429.5,340.5 C426.3,339.0 413.8,327.4 413.5,325.5 Z" fill="#d9a98c" stroke="none" stroke-width="0" opacity="0.55" stroke-linejoin="round" filter="url(#b1)"/>
<path d="M412.0,323.0 C411.7,321.1 421.2,315.8 424.0,315.0 C426.8,314.2 441.9,312.8 445.0,313.0 C448.1,313.2 459.5,316.4 461.0,318.0 C462.5,319.6 463.9,330.1 463.0,332.0 C462.1,333.9 452.9,340.5 450.0,341.0 C447.1,341.5 431.2,339.5 428.0,338.0 C424.8,336.5 412.3,324.9 412.0,323.0 Z" fill="#f4dfc2" stroke="#d2aa84" stroke-width="1.5" opacity="1" stroke-linejoin="round" filter="url(#b05)"/>
<path d="M409.5,366.5 C409.7,364.7 418.4,356.6 421.5,355.5 C424.6,354.4 443.2,353.2 446.5,353.5 C449.8,353.8 459.3,356.8 460.5,358.5 C461.7,360.2 462.1,372.6 460.5,374.5 C458.9,376.4 444.9,381.2 441.5,381.5 C438.1,381.8 422.2,378.8 419.5,377.5 C416.8,376.2 409.3,368.3 409.5,366.5 Z" fill="#d9a98c" stroke="none" stroke-width="0" opacity="0.55" stroke-linejoin="round" filter="url(#b1)"/>
<path d="M408.0,364.0 C408.2,362.2 416.9,354.1 420.0,353.0 C423.1,351.9 441.8,350.8 445.0,351.0 C448.2,351.2 457.8,354.2 459.0,356.0 C460.2,357.8 460.6,370.1 459.0,372.0 C457.4,373.9 443.4,378.8 440.0,379.0 C436.6,379.2 420.7,376.2 418.0,375.0 C415.3,373.8 407.8,365.8 408.0,364.0 Z" fill="#f4dfc2" stroke="#d2aa84" stroke-width="1.5" opacity="1" stroke-linejoin="round" filter="url(#b05)"/>
<path d="M411.5,399.5 C410.7,397.8 423.2,390.3 426.5,389.5 C429.8,388.7 448.7,388.9 451.5,389.5 C454.3,390.1 459.9,395.0 460.5,396.5 C461.1,398.0 460.5,406.3 458.5,407.5 C456.5,408.7 440.4,411.2 436.5,410.5 C432.6,409.8 412.3,401.2 411.5,399.5 Z" fill="#d9a98c" stroke="none" stroke-width="0" opacity="0.55" stroke-linejoin="round" filter="url(#b1)"/>
<path d="M410.0,397.0 C409.2,395.2 421.7,387.8 425.0,387.0 C428.3,386.2 447.2,386.4 450.0,387.0 C452.8,387.6 458.4,392.5 459.0,394.0 C459.6,395.5 459.0,403.8 457.0,405.0 C455.0,406.2 438.9,408.7 435.0,408.0 C431.1,407.3 410.8,398.8 410.0,397.0 Z" fill="#f4dfc2" stroke="#d2aa84" stroke-width="1.5" opacity="1" stroke-linejoin="round" filter="url(#b05)"/>
<path d="M421.5,420.5 C420.8,419.4 430.6,415.0 433.5,414.5 C436.4,414.0 454.2,413.7 456.5,414.5 C458.8,415.3 461.8,423.4 460.5,424.5 C459.2,425.6 444.8,427.8 441.5,427.5 C438.2,427.2 422.2,421.6 421.5,420.5 Z" fill="#d9a98c" stroke="none" stroke-width="0" opacity="0.55" stroke-linejoin="round" filter="url(#b1)"/>
<path d="M420.0,418.0 C419.3,416.9 429.1,412.5 432.0,412.0 C434.9,411.5 452.8,411.2 455.0,412.0 C457.2,412.8 460.2,420.9 459.0,422.0 C457.8,423.1 443.2,425.3 440.0,425.0 C436.8,424.7 420.7,419.1 420.0,418.0 Z" fill="#f4dfc2" stroke="#d2aa84" stroke-width="1.5" opacity="1" stroke-linejoin="round" filter="url(#b05)"/>
<path d="M411.5,442.5 C410.2,441.2 417.8,434.3 421.5,433.5 C425.2,432.7 453.2,431.6 456.5,432.5 C459.8,433.4 462.2,443.2 460.5,444.5 C458.8,445.8 440.6,448.7 436.5,448.5 C432.4,448.3 412.8,443.8 411.5,442.5 Z" fill="#d9a98c" stroke="none" stroke-width="0" opacity="0.55" stroke-linejoin="round" filter="url(#b1)"/>
<path d="M410.0,440.0 C408.8,438.8 416.2,431.8 420.0,431.0 C423.8,430.2 451.8,429.1 455.0,430.0 C458.2,430.9 460.7,440.7 459.0,442.0 C457.3,443.3 439.1,446.2 435.0,446.0 C430.9,445.8 411.2,441.2 410.0,440.0 Z" fill="#f4dfc2" stroke="#d2aa84" stroke-width="1.5" opacity="1" stroke-linejoin="round" filter="url(#b05)"/>
<path d="M402.5,463.5 C401.0,462.1 409.0,455.3 413.5,454.5 C418.0,453.7 452.6,452.3 456.5,453.5 C460.4,454.7 462.6,467.0 460.5,468.5 C458.4,470.0 436.3,471.9 431.5,471.5 C426.7,471.1 404.0,464.9 402.5,463.5 Z" fill="#d9a98c" stroke="none" stroke-width="0" opacity="0.55" stroke-linejoin="round" filter="url(#b1)"/>
<path d="M401.0,461.0 C399.5,459.6 407.5,452.8 412.0,452.0 C416.5,451.2 451.1,449.8 455.0,451.0 C458.9,452.2 461.1,464.5 459.0,466.0 C456.9,467.5 434.8,469.4 430.0,469.0 C425.2,468.6 402.5,462.4 401.0,461.0 Z" fill="#f4dfc2" stroke="#d2aa84" stroke-width="1.5" opacity="1" stroke-linejoin="round" filter="url(#b05)"/>
<path d="M383.5,491.5 C382.8,489.8 388.7,482.5 393.5,481.5 C398.3,480.5 436.5,478.6 441.5,479.5 C446.5,480.4 453.5,490.5 453.5,492.5 C453.5,494.5 445.8,502.7 441.5,503.5 C437.2,504.3 406.3,503.5 401.5,502.5 C396.7,501.5 384.2,493.2 383.5,491.5 Z" fill="#d9a98c" stroke="none" stroke-width="0" opacity="0.55" stroke-linejoin="round" filter="url(#b1)"/>
<path d="M382.0,489.0 C381.3,487.2 387.2,480.0 392.0,479.0 C396.8,478.0 435.0,476.1 440.0,477.0 C445.0,477.9 452.0,488.0 452.0,490.0 C452.0,492.0 444.3,500.2 440.0,501.0 C435.7,501.8 404.8,501.0 400.0,500.0 C395.2,499.0 382.7,490.8 382.0,489.0 Z" fill="#f4dfc2" stroke="#d2aa84" stroke-width="1.5" opacity="1" stroke-linejoin="round" filter="url(#b05)"/>
<path d="M396.5,515.5 C395.7,514.1 407.3,507.3 411.5,506.5 C415.7,505.7 443.0,504.5 446.5,505.5 C450.0,506.5 455.6,517.0 453.5,518.5 C451.4,520.0 426.2,523.8 421.5,523.5 C416.8,523.2 397.3,516.9 396.5,515.5 Z" fill="#d9a98c" stroke="none" stroke-width="0" opacity="0.55" stroke-linejoin="round" filter="url(#b1)"/>
<path d="M395.0,513.0 C394.2,511.6 405.8,504.8 410.0,504.0 C414.2,503.2 441.5,502.0 445.0,503.0 C448.5,504.0 454.1,514.5 452.0,516.0 C449.9,517.5 424.8,521.2 420.0,521.0 C415.2,520.8 395.8,514.4 395.0,513.0 Z" fill="#f4dfc2" stroke="#d2aa84" stroke-width="1.5" opacity="1" stroke-linejoin="round" filter="url(#b05)"/>
<path d="M465.0,292.0 C466.8,289.3 472.0,288.3 475.0,289.0 C478.0,289.7 481.7,292.2 483.0,296.0 C484.3,299.8 484.0,307.7 483.0,312.0 C482.0,316.3 479.5,321.0 477.0,322.0 C474.5,323.0 470.2,320.8 468.0,318.0 C465.8,315.2 464.5,309.3 464.0,305.0 C463.5,300.7 463.2,294.7 465.0,292.0 Z" fill="#f2d9ba" stroke="#dcb996" stroke-width="1" opacity="1" />
<path d="M429.0,283.0 C430.5,284.3 434.7,289.0 438.0,291.0 C441.3,293.0 444.7,295.8 449.0,295.0 C453.3,294.2 460.2,288.8 464.0,286.0 C467.8,283.2 469.3,279.8 472.0,278.0 C474.7,276.2 477.3,274.8 480.0,275.0 C482.7,275.2 486.2,276.5 488.0,279.0 C489.8,281.5 490.5,288.2 491.0,290.0" fill="none" stroke="#aca7ca" stroke-width="10" stroke-linecap="round" stroke-linejoin="round" opacity="0.9"/>
<circle cx="481" cy="279" r="5" fill="#9994bd" opacity="0.6" filter="url(#b1)"/>
<path d="M529.0,413.0 C531.1,410.4 552.8,409.8 556.0,411.0 C559.2,412.2 567.7,425.2 568.0,428.0 C568.3,430.8 561.3,443.2 560.0,445.0 C558.7,446.8 553.0,447.2 552.0,449.0 C551.0,450.8 549.4,465.5 548.0,467.0 C546.6,468.5 536.4,469.1 535.0,467.0 C533.6,464.9 531.5,446.5 531.0,442.0 C530.5,437.5 526.9,415.6 529.0,413.0 Z" fill="#cfe1e7" stroke="#aac6d2" stroke-width="1.1" opacity="0.95" stroke-linejoin="round" />
<path d="M533,440 L552,446 M534,452 L549,456" stroke="#b5cdd6" stroke-width="1" fill="none"/>
<path d="M514.0,470.0 C518.8,464.7 536.3,464.7 543.0,465.0 C549.7,465.3 552.5,466.7 554.0,472.0 C555.5,477.3 553.8,490.2 552.0,497.0 C550.2,503.8 547.2,508.2 543.0,513.0 C538.8,517.8 531.5,524.2 527.0,526.0 C522.5,527.8 518.2,528.8 516.0,524.0 C513.8,519.2 514.3,506.0 514.0,497.0 C513.7,488.0 509.2,475.3 514.0,470.0 Z" fill="#d89c62" stroke="#bf8148" stroke-width="1" opacity="1" />
<circle cx="524.9" cy="497.2" r="2.0" fill="#c27f45" opacity="0.7"/>
<circle cx="532.6" cy="499.0" r="2.3" fill="#e2ad76" opacity="0.7"/>
<circle cx="525.6" cy="481.7" r="2.8" fill="#e2ad76" opacity="0.7"/>
<circle cx="534.9" cy="497.5" r="2.0" fill="#c98a4f" opacity="0.7"/>
<circle cx="524.7" cy="477.6" r="2.7" fill="#e2ad76" opacity="0.7"/>
<circle cx="541.5" cy="503.6" r="1.6" fill="#c27f45" opacity="0.7"/>
<circle cx="518.4" cy="509.0" r="2.6" fill="#e2ad76" opacity="0.7"/>
<circle cx="532.6" cy="505.9" r="2.6" fill="#c27f45" opacity="0.7"/>
<circle cx="543.0" cy="491.3" r="2.4" fill="#c27f45" opacity="0.7"/>
<circle cx="531.7" cy="516.8" r="2.6" fill="#c98a4f" opacity="0.7"/>
<circle cx="518.2" cy="494.7" r="1.8" fill="#c27f45" opacity="0.7"/>
<circle cx="531.4" cy="501.3" r="1.9" fill="#c27f45" opacity="0.7"/>
<circle cx="544.5" cy="498.7" r="2.2" fill="#e2ad76" opacity="0.7"/>
<circle cx="536.3" cy="515.2" r="2.4" fill="#c98a4f" opacity="0.7"/>
<circle cx="539.2" cy="478.2" r="2.6" fill="#c27f45" opacity="0.7"/>
<circle cx="546.9" cy="498.5" r="2.4" fill="#c98a4f" opacity="0.7"/>
<circle cx="537.9" cy="519.4" r="1.8" fill="#c98a4f" opacity="0.7"/>
<circle cx="519.1" cy="512.7" r="2.8" fill="#c98a4f" opacity="0.7"/>
<circle cx="528.4" cy="473.3" r="2.7" fill="#c98a4f" opacity="0.7"/>
<circle cx="526.7" cy="508.4" r="2.6" fill="#c98a4f" opacity="0.7"/>
<circle cx="537.0" cy="508.1" r="2.0" fill="#c27f45" opacity="0.7"/>
<circle cx="527.9" cy="514.0" r="2.8" fill="#c27f45" opacity="0.7"/>
<circle cx="524.8" cy="471.8" r="1.5" fill="#c98a4f" opacity="0.7"/>
<circle cx="536.8" cy="471.6" r="1.8" fill="#e2ad76" opacity="0.7"/>
<circle cx="526.6" cy="483.2" r="2.4" fill="#e2ad76" opacity="0.7"/>
<circle cx="527.4" cy="517.9" r="2.7" fill="#e2ad76" opacity="0.7"/>
<circle cx="529.4" cy="513.5" r="2.0" fill="#c27f45" opacity="0.7"/>
<circle cx="539.5" cy="475.1" r="2.8" fill="#c27f45" opacity="0.7"/>
<circle cx="526.0" cy="501.7" r="2.4" fill="#e2ad76" opacity="0.7"/>
<circle cx="531.4" cy="482.9" r="1.9" fill="#e2ad76" opacity="0.7"/>
<circle cx="517.4" cy="490.8" r="2.3" fill="#c98a4f" opacity="0.7"/>
<circle cx="529.4" cy="499.5" r="1.7" fill="#c27f45" opacity="0.7"/>
<circle cx="537.7" cy="493.3" r="2.4" fill="#e2ad76" opacity="0.7"/>
<circle cx="537.1" cy="483.9" r="2.1" fill="#c27f45" opacity="0.7"/>
<circle cx="519.0" cy="503.8" r="2.8" fill="#e2ad76" opacity="0.7"/>
<circle cx="537.7" cy="484.9" r="2.3" fill="#c98a4f" opacity="0.7"/>
<circle cx="529.0" cy="485.6" r="2.0" fill="#c27f45" opacity="0.7"/>
<circle cx="525.7" cy="509.4" r="1.6" fill="#c98a4f" opacity="0.7"/>
<circle cx="549.1" cy="504.2" r="1.7" fill="#c27f45" opacity="0.7"/>
<path d="M398.0,540.0 C391.9,543.8 386.8,547.7 383.3,553.0 C379.8,558.3 378.1,565.3 377.0,572.0 C375.9,578.7 375.9,586.7 377.0,593.0 C378.1,599.3 379.8,604.3 383.3,609.6 C386.8,614.9 391.8,620.6 398.0,625.0 C404.2,629.4 413.3,632.8 420.8,636.0 C428.3,639.2 434.8,642.0 443.0,644.0 C451.2,646.0 457.2,646.5 470.0,648.0 C482.8,649.5 505.0,652.2 520.0,653.0 C535.0,653.8 552.5,660.2 560.0,653.0 C567.5,645.8 567.5,623.0 565.0,610.0 C562.5,597.0 555.8,585.3 545.0,575.0 C534.2,564.7 514.2,554.5 500.0,548.0 C485.8,541.5 473.3,539.0 460.0,536.0 C446.7,533.0 430.3,529.3 420.0,530.0 C409.7,530.7 404.1,536.2 398.0,540.0 Z" fill="#f4e4d8" stroke="none" stroke-width="0" opacity="0.9" filter="url(#b2)"/>
<path d="M391.7,536.7 C389.4,537.6 373.1,548.1 370.8,551.0 C368.5,553.9 365.1,568.5 364.6,572.0 C364.1,575.5 364.1,589.5 364.6,593.0 C365.1,596.5 369.1,610.6 370.8,613.8 C372.5,616.9 382.5,628.3 385.4,631.0 C388.3,633.7 401.8,644.0 406.0,646.0 C410.2,648.0 430.7,653.7 436.0,655.0 C441.3,656.3 463.0,661.0 470.0,662.0 C477.0,663.0 512.5,666.6 520.0,667.0 C527.5,667.4 554.6,667.3 560.0,667.0 C565.4,666.7 581.7,664.4 585.0,663.0 C588.3,661.6 599.6,651.8 600.0,650.0 C600.4,648.2 591.7,641.0 590.0,641.0 C588.3,641.0 582.5,649.0 580.0,650.0 C577.5,651.0 565.0,652.8 560.0,653.0 C555.0,653.2 527.5,653.4 520.0,653.0 C512.5,652.6 476.4,648.8 470.0,648.0 C463.6,647.2 447.1,645.0 443.0,644.0 C438.9,643.0 424.6,637.6 420.8,636.0 C417.1,634.4 401.1,627.2 398.0,625.0 C394.9,622.8 385.1,612.3 383.3,609.6 C381.6,606.9 377.5,596.1 377.0,593.0 C376.5,589.9 376.5,575.3 377.0,572.0 C377.5,568.7 381.6,555.7 383.3,553.0 C385.1,550.3 397.3,541.4 398.0,540.0 C398.7,538.6 394.0,535.8 391.7,536.7 Z" fill="#f3dbbb" stroke="#d3ab86" stroke-width="1.2" opacity="1" stroke-linejoin="round" />
<path d="M386.0,548.0 C383.7,552.0 374.5,564.2 372.0,572.0 C369.5,579.8 370.0,588.2 371.0,595.0 C372.0,601.8 374.3,607.3 378.0,613.0 C381.7,618.7 386.0,623.8 393.0,629.0 C400.0,634.2 407.2,639.7 420.0,644.0 C432.8,648.3 450.0,652.3 470.0,655.0 C490.0,657.7 521.7,659.7 540.0,660.0 C558.3,660.3 573.3,657.5 580.0,657.0" fill="none" stroke="#f8e8d0" stroke-width="3" opacity="0.8"/>
<path d="M398.0,525.0 C397.0,526.9 393.2,543.6 393.0,547.0 C392.8,550.4 394.3,563.4 395.0,566.0 C395.7,568.6 398.7,575.7 401.0,578.0 C403.3,580.3 418.0,591.9 423.0,594.0 C428.0,596.1 455.0,601.8 460.6,603.0 C466.2,604.2 485.5,607.5 490.0,608.0 C494.5,608.5 510.4,609.2 515.0,609.0 C519.6,608.8 542.5,607.9 545.0,606.0 C547.5,604.1 547.6,587.5 545.0,586.0 C542.4,584.5 518.3,587.3 513.8,587.5 C509.2,587.7 494.4,588.0 490.0,588.0 C485.6,588.0 466.2,588.3 460.6,587.5 C455.0,586.7 427.1,579.8 423.0,578.0 C418.9,576.2 413.0,568.3 412.0,566.0 C411.0,563.7 410.7,552.7 410.6,550.0 C410.5,547.3 411.1,536.2 410.6,534.0 C410.1,531.8 406.1,524.8 405.0,524.0 C403.9,523.2 399.0,523.1 398.0,525.0 Z" fill="#f3dbbb" stroke="#d3ab86" stroke-width="1.2" opacity="1" stroke-linejoin="round" />
<path d="M402.0,530.0 C401.7,533.3 400.0,544.0 400.0,550.0 C400.0,556.0 400.0,561.3 402.0,566.0 C404.0,570.7 405.7,573.7 412.0,578.0 C418.3,582.3 428.2,588.5 440.0,592.0 C451.8,595.5 466.3,598.2 483.0,599.0 C499.7,599.8 530.5,597.3 540.0,597.0" fill="none" stroke="#f8e8d0" stroke-width="3" opacity="0.8"/>
<path d="M361.0,512.0 C365.0,508.8 381.2,508.7 390.0,509.0 C398.8,509.3 409.3,511.2 414.0,514.0 C418.7,516.8 419.5,522.7 418.0,526.0 C416.5,529.3 411.3,532.7 405.0,534.0 C398.7,535.3 386.5,535.0 380.0,534.0 C373.5,533.0 369.2,531.7 366.0,528.0 C362.8,524.3 357.0,515.2 361.0,512.0 Z" fill="#f3dbbb" stroke="#d3ab86" stroke-width="1" opacity="1" />
<path d="M545.0,575.0 C546.8,573.5 566.9,570.8 570.0,572.0 C573.1,573.2 580.8,587.2 582.0,590.0 C583.2,592.8 582.9,602.7 584.0,606.0 C585.1,609.3 593.2,625.5 595.0,630.0 C596.8,634.5 604.9,656.2 606.0,660.0 C607.1,663.8 609.3,674.3 608.0,676.0 C606.7,677.7 592.8,681.3 590.0,680.0 C587.2,678.7 577.0,664.2 575.0,660.0 C573.0,655.8 567.6,634.5 566.0,630.0 C564.4,625.5 557.5,609.3 556.0,606.0 C554.5,602.7 548.9,592.6 548.0,590.0 C547.1,587.4 543.2,576.5 545.0,575.0 Z" fill="#f3dcc0" stroke="#d3ab86" stroke-width="1.1" opacity="1" stroke-linejoin="round" />
<path d="M556.0,606.0 C558.6,604.0 581.1,604.0 584.0,606.0 C586.9,608.0 590.7,626.2 591.0,630.0 C591.3,633.8 590.6,650.3 588.0,652.0 C585.4,653.7 562.9,651.8 560.0,650.0 C557.1,648.2 553.3,633.7 553.0,630.0 C552.7,626.3 553.4,608.0 556.0,606.0 Z" fill="#f6e8d6" stroke="#d3ab86" stroke-width="0.9" opacity="1" stroke-linejoin="round" />
<path d="M566,606 L586,603" stroke="#dcb996" stroke-width="1"/>
<path d="M604.0,228.0 C601.0,229.5 593.3,235.0 586.0,237.0 C578.7,239.0 569.3,239.3 560.0,240.0 C550.7,240.7 537.7,240.5 530.0,241.0 C522.3,241.5 516.7,242.7 514.0,243.0" fill="none" stroke="#a8a9cc" stroke-width="5.5" stroke-linecap="round" stroke-linejoin="round" opacity="0.85"/>
<path d="M545.0,290.0 C547.8,291.3 556.7,295.7 562.0,297.8 C567.3,299.9 574.2,301.7 576.6,302.5" fill="none" stroke="#a8a9cc" stroke-width="5" stroke-linecap="round" stroke-linejoin="round" opacity="0.85"/>
<path d="M538.0,292.0 C537.7,294.2 538.7,301.5 536.0,305.0 C533.3,308.5 526.2,310.0 522.0,313.0 C517.8,316.0 512.8,321.3 511.0,323.0" fill="none" stroke="#a8a9cc" stroke-width="5" stroke-linecap="round" stroke-linejoin="round" opacity="0.85"/>
<path d="M536.0,305.0 C537.8,305.8 544.4,307.3 547.0,310.0 C549.6,312.7 550.3,317.0 551.6,321.0 C552.9,325.0 553.4,329.0 554.7,333.8 C556.0,338.5 557.9,344.7 559.4,349.4 C560.9,354.1 562.2,358.2 564.0,362.0 C565.8,365.8 569.0,370.3 570.0,372.0" fill="none" stroke="#a8a9cc" stroke-width="5" stroke-linecap="round" stroke-linejoin="round" opacity="0.85"/>
<path d="M566.0,369.0 C570.0,369.5 581.8,371.3 590.0,372.0 C598.2,372.7 608.7,372.7 615.0,373.0 C621.3,373.3 625.8,373.8 628.0,374.0" fill="none" stroke="#a8a9cc" stroke-width="4" stroke-linecap="round" stroke-linejoin="round" opacity="0.85"/>
<path d="M432.7,76.4 L433.4,76.6 L434.3,76.8 L435.4,77.1 L436.7,77.4 L437.9,77.7 L439.2,78.1 L440.4,78.4 L441.5,78.8 L442.4,78.9 L443.1,79.1 L443.7,79.3 L444.2,79.5 L444.6,79.7 L444.9,79.9 L445.2,80.1 L445.5,80.3 L445.8,80.6 L446.1,81.0 L446.4,81.4 L446.8,81.9 L447.1,82.3 L447.3,82.8 L447.6,83.3 L447.9,84.0 L448.2,84.8 L448.5,85.7 L448.8,86.6 L449.2,87.5 L449.7,88.5 L450.2,89.5 L450.8,90.5 L451.4,91.6 L452.0,92.6 L452.7,93.7 L453.4,94.8 L454.1,95.8 L454.7,96.7 L455.3,97.5 L455.7,98.2 L456.1,98.7 L461.4,95.3 L461.1,94.7 L460.6,94.0 L460.0,93.2 L459.4,92.2 L458.8,91.2 L458.1,90.2 L457.5,89.2 L456.8,88.2 L456.3,87.3 L455.8,86.5 L455.4,85.8 L455.1,85.0 L454.8,84.2 L454.5,83.4 L454.2,82.6 L453.8,81.7 L453.5,80.8 L453.1,79.9 L452.6,79.0 L452.0,78.1 L451.5,77.4 L451.0,76.8 L450.4,76.2 L449.8,75.6 L449.2,75.0 L448.4,74.5 L447.6,74.0 L446.8,73.6 L445.9,73.3 L444.9,72.9 L443.7,72.6 L442.4,72.4 L441.0,72.5 L439.6,72.6 L438.2,72.8 L436.9,73.0 L435.6,73.2 L434.5,73.4 L433.6,73.5 L432.9,73.6 Z" fill="#0f3482" stroke="#0f3482" stroke-width="0.4" stroke-linejoin="round"/><path d="M432.8,75.6 L433.5,75.8 L434.4,76.0 L435.5,76.3 L436.7,76.6 L438.0,76.9 L439.3,77.3 L440.5,77.6 L441.6,78.0 L442.6,78.1 L443.3,78.3 L444.0,78.5 L444.5,78.7 L445.0,79.0 L445.3,79.2 L445.7,79.4 L446.0,79.7 L446.4,80.1 L446.7,80.5 L447.1,80.9 L447.4,81.4 L447.8,81.9 L448.1,82.4 L448.3,83.0 L448.6,83.7 L448.9,84.5 L449.2,85.4 L449.6,86.3 L450.0,87.2 L450.4,88.2 L450.9,89.1 L451.4,90.1 L452.1,91.1 L452.7,92.2 L453.4,93.3 L454.1,94.3 L454.8,95.3 L455.4,96.3 L455.9,97.1 L456.4,97.8 L456.7,98.3 L460.8,95.7 L460.4,95.1 L459.9,94.4 L459.4,93.6 L458.8,92.7 L458.1,91.7 L457.4,90.7 L456.8,89.6 L456.1,88.6 L455.6,87.7 L455.1,86.9 L454.7,86.1 L454.4,85.3 L454.1,84.5 L453.7,83.7 L453.4,82.8 L453.1,82.0 L452.7,81.1 L452.3,80.3 L451.9,79.4 L451.4,78.6 L450.8,77.9 L450.4,77.3 L449.8,76.8 L449.3,76.2 L448.7,75.7 L448.0,75.2 L447.3,74.7 L446.5,74.4 L445.6,74.0 L444.7,73.7 L443.5,73.4 L442.3,73.2 L440.9,73.3 L439.5,73.4 L438.2,73.6 L436.8,73.8 L435.6,74.0 L434.5,74.2 L433.5,74.3 L432.8,74.4 Z" fill="#1c5fc4"/><path d="M433.0,75.3 L433.8,75.4 L434.8,75.6 L435.9,75.7 L437.3,75.9 L438.7,76.1 L440.1,76.4 L441.5,76.6 L442.8,76.9 L443.8,77.1 L444.7,77.3 L445.4,77.5 L446.1,77.8 L446.6,78.0 L447.1,78.3 L447.6,78.7 L448.0,79.0 L448.4,79.4 L448.8,79.9 L449.2,80.4 L449.6,80.9 L450.0,81.5 L450.3,82.1 L450.7,82.8 L451.0,83.6 L451.3,84.4 L451.6,85.2 L451.9,86.1 L452.3,87.0 L452.7,87.9 L453.2,88.8 L453.7,89.7 L454.3,90.7 L454.9,91.8 L455.6,92.8 L456.3,93.9 L457.0,94.9 L457.6,95.8 L458.1,96.6 L458.6,97.3 L458.9,97.9 L460.5,96.9 L460.1,96.3 L459.7,95.6 L459.1,94.8 L458.5,93.9 L457.8,92.9 L457.1,91.8 L456.5,90.8 L455.8,89.8 L455.3,88.8 L454.8,87.9 L454.3,87.1 L454.0,86.3 L453.6,85.5 L453.3,84.6 L453.0,83.8 L452.7,82.9 L452.3,82.1 L452.0,81.3 L451.6,80.5 L451.1,79.9 L450.6,79.2 L450.2,78.7 L449.7,78.2 L449.2,77.7 L448.7,77.2 L448.1,76.8 L447.5,76.4 L446.8,76.1 L446.1,75.8 L445.2,75.5 L444.2,75.3 L443.0,75.1 L441.7,75.0 L440.2,74.9 L438.8,74.9 L437.3,74.9 L436.0,74.9 L434.8,74.9 L433.8,74.9 L433.1,74.9 Z" fill="#1447a6" opacity="0.55"/><path d="M432.6,75.1 L433.2,75.1 L434.1,75.2 L435.1,75.2 L436.3,75.3 L437.5,75.4 L438.7,75.5 L439.9,75.6 L441.1,75.8 L442.1,76.0 L443.0,76.2 L443.8,76.4 L444.4,76.7 L445.0,77.0 L445.5,77.3 L446.0,77.6 L446.4,78.0 L446.8,78.4 L447.3,78.9 L447.7,79.4 L448.1,80.0 L448.5,80.6 L448.8,81.2 L449.2,81.9 L449.5,82.7 L449.8,83.5 L450.1,84.4 L450.4,85.2 L450.8,86.1 L451.2,87.0 L451.7,87.9 L452.2,88.8 L452.8,89.8 L453.4,90.8 L454.1,91.9 L454.8,92.9 L455.4,93.9 L456.1,94.9 L456.6,95.7 L457.1,96.4 L457.4,96.9 L458.4,96.3 L458.1,95.7 L457.6,95.0 L457.1,94.2 L456.4,93.3 L455.8,92.3 L455.1,91.3 L454.4,90.2 L453.8,89.2 L453.2,88.2 L452.7,87.3 L452.3,86.5 L451.9,85.7 L451.6,84.8 L451.2,83.9 L450.9,83.1 L450.6,82.3 L450.3,81.5 L449.9,80.7 L449.5,79.9 L449.1,79.3 L448.6,78.7 L448.2,78.1 L447.7,77.6 L447.2,77.1 L446.7,76.7 L446.2,76.3 L445.6,75.9 L444.9,75.6 L444.2,75.3 L443.3,75.0 L442.4,74.8 L441.2,74.6 L440.0,74.6 L438.8,74.5 L437.5,74.6 L436.3,74.6 L435.1,74.7 L434.1,74.7 L433.2,74.7 L432.6,74.8 Z" fill="#62a8ee" opacity="0.7"/>
<path d="M419.6,82.5 L420.4,83.2 L421.4,84.1 L422.7,85.1 L424.1,86.3 L425.5,87.5 L427.1,88.7 L428.7,89.6 L430.3,90.5 L431.7,91.2 L432.9,91.8 L433.9,92.3 L434.7,92.8 L435.5,93.1 L436.1,93.4 L436.7,93.7 L437.3,93.9 L437.9,94.2 L438.4,94.4 L439.1,94.7 L439.8,95.0 L440.6,95.3 L441.4,95.6 L442.3,96.0 L443.2,96.4 L444.2,96.8 L445.1,97.2 L446.1,97.6 L447.1,97.9 L448.1,98.3 L449.1,98.6 L450.2,98.9 L451.3,99.1 L452.4,99.3 L453.4,99.5 L454.5,99.6 L455.5,99.8 L456.4,99.9 L457.1,100.0 L457.8,100.1 L458.3,100.2 L459.2,93.8 L458.7,93.8 L458.0,93.7 L457.2,93.6 L456.3,93.4 L455.4,93.3 L454.4,93.2 L453.5,93.0 L452.5,92.8 L451.7,92.6 L450.9,92.4 L450.1,92.2 L449.2,91.9 L448.4,91.6 L447.5,91.2 L446.6,90.9 L445.7,90.5 L444.8,90.1 L443.9,89.8 L443.1,89.4 L442.2,89.0 L441.5,88.7 L440.9,88.5 L440.3,88.3 L439.8,88.0 L439.3,87.8 L438.8,87.6 L438.2,87.3 L437.6,87.0 L436.8,86.6 L435.9,86.2 L434.7,85.6 L433.4,84.8 L431.8,84.0 L430.2,83.1 L428.3,82.4 L426.5,81.8 L424.8,81.3 L423.2,80.8 L421.9,80.4 L421.0,80.1 Z" fill="#0f3482" stroke="#0f3482" stroke-width="0.4" stroke-linejoin="round"/><path d="M420.0,81.8 L420.8,82.5 L421.8,83.4 L423.1,84.4 L424.4,85.6 L425.9,86.8 L427.5,88.0 L429.1,88.9 L430.7,89.7 L432.1,90.5 L433.3,91.1 L434.3,91.6 L435.1,92.0 L435.8,92.4 L436.5,92.7 L437.1,93.0 L437.6,93.2 L438.2,93.4 L438.7,93.7 L439.4,93.9 L440.1,94.2 L440.9,94.5 L441.7,94.9 L442.6,95.3 L443.5,95.7 L444.5,96.1 L445.4,96.5 L446.4,96.8 L447.4,97.2 L448.4,97.5 L449.4,97.8 L450.4,98.1 L451.4,98.3 L452.5,98.5 L453.6,98.7 L454.6,98.8 L455.6,99.0 L456.5,99.1 L457.2,99.2 L457.9,99.3 L458.4,99.4 L459.1,94.6 L458.6,94.5 L457.9,94.4 L457.1,94.3 L456.2,94.2 L455.3,94.1 L454.3,93.9 L453.3,93.8 L452.4,93.6 L451.5,93.4 L450.6,93.2 L449.8,92.9 L449.0,92.7 L448.1,92.3 L447.2,92.0 L446.3,91.6 L445.4,91.2 L444.5,90.9 L443.6,90.5 L442.7,90.1 L441.9,89.8 L441.2,89.5 L440.6,89.2 L440.0,89.0 L439.5,88.8 L439.0,88.6 L438.5,88.3 L437.9,88.1 L437.2,87.7 L436.4,87.3 L435.5,86.9 L434.4,86.3 L433.0,85.5 L431.4,84.7 L429.8,83.8 L428.0,83.1 L426.1,82.5 L424.4,82.0 L422.9,81.5 L421.6,81.1 L420.6,80.8 Z" fill="#1c5fc4"/><path d="M420.4,81.6 L421.3,82.2 L422.6,82.9 L424.0,83.9 L425.7,84.9 L427.4,86.0 L429.1,87.1 L430.8,88.0 L432.4,88.8 L433.8,89.6 L434.9,90.2 L435.9,90.7 L436.7,91.1 L437.4,91.4 L438.0,91.7 L438.6,92.0 L439.2,92.2 L439.7,92.4 L440.3,92.7 L440.9,92.9 L441.6,93.2 L442.4,93.6 L443.3,93.9 L444.1,94.3 L445.0,94.7 L446.0,95.1 L446.9,95.5 L447.9,95.8 L448.8,96.2 L449.8,96.5 L450.7,96.8 L451.7,97.0 L452.7,97.2 L453.7,97.4 L454.8,97.6 L455.8,97.8 L456.7,97.9 L457.6,98.0 L458.4,98.1 L459.1,98.2 L459.6,98.3 L459.8,96.5 L459.3,96.4 L458.6,96.3 L457.9,96.2 L457.0,96.1 L456.0,96.0 L455.0,95.8 L454.0,95.6 L453.0,95.4 L452.1,95.2 L451.2,95.0 L450.3,94.7 L449.4,94.4 L448.5,94.1 L447.6,93.8 L446.7,93.4 L445.8,93.0 L444.8,92.6 L444.0,92.2 L443.1,91.9 L442.3,91.5 L441.6,91.2 L441.0,91.0 L440.4,90.8 L439.9,90.5 L439.3,90.3 L438.8,90.1 L438.2,89.8 L437.5,89.5 L436.7,89.1 L435.8,88.6 L434.6,88.0 L433.2,87.2 L431.7,86.4 L430.0,85.5 L428.2,84.6 L426.3,83.7 L424.5,83.0 L423.0,82.2 L421.6,81.6 L420.6,81.2 Z" fill="#1447a6" opacity="0.55"/><path d="M420.0,81.3 L420.8,81.8 L421.8,82.5 L423.1,83.3 L424.5,84.2 L426.0,85.1 L427.5,86.0 L429.2,86.9 L430.7,87.8 L432.1,88.5 L433.3,89.1 L434.3,89.6 L435.1,90.0 L435.8,90.4 L436.4,90.7 L437.0,90.9 L437.5,91.2 L438.0,91.4 L438.6,91.6 L439.2,91.9 L440.0,92.2 L440.8,92.5 L441.6,92.9 L442.5,93.2 L443.4,93.6 L444.3,94.0 L445.3,94.4 L446.2,94.8 L447.2,95.1 L448.1,95.4 L449.0,95.7 L450.0,95.9 L451.0,96.2 L452.0,96.4 L453.0,96.5 L454.0,96.7 L455.0,96.8 L455.9,96.9 L456.7,97.0 L457.3,97.1 L457.8,97.2 L458.0,96.0 L457.5,95.9 L456.8,95.8 L456.0,95.7 L455.2,95.6 L454.2,95.5 L453.2,95.3 L452.2,95.2 L451.2,95.0 L450.2,94.8 L449.3,94.5 L448.5,94.3 L447.6,94.0 L446.6,93.6 L445.7,93.3 L444.8,92.9 L443.9,92.5 L443.0,92.1 L442.1,91.8 L441.2,91.4 L440.4,91.1 L439.7,90.8 L439.1,90.5 L438.5,90.3 L438.0,90.1 L437.4,89.8 L436.9,89.6 L436.3,89.3 L435.6,89.0 L434.8,88.6 L433.9,88.1 L432.7,87.5 L431.3,86.7 L429.7,85.9 L428.1,85.0 L426.5,84.2 L424.9,83.4 L423.4,82.7 L422.1,82.0 L421.0,81.5 L420.2,81.1 Z" fill="#62a8ee" opacity="0.7"/>
<g opacity="1.0"><path d="M458.8,97.0 C460.1,98.5 464.8,102.4 466.6,105.8 C468.4,109.2 468.7,113.7 469.7,117.5 C470.7,121.3 471.6,124.8 472.8,128.4 C474.0,132.0 476.0,137.2 476.6,139.0" fill="none" stroke="#0f3482" stroke-width="7.0" stroke-linecap="round" stroke-linejoin="round"/><path d="M458.8,97.0 C460.1,98.5 464.8,102.4 466.6,105.8 C468.4,109.2 468.7,113.7 469.7,117.5 C470.7,121.3 471.6,124.8 472.8,128.4 C474.0,132.0 476.0,137.2 476.6,139.0" fill="none" stroke="#1c5fc4" stroke-width="5.4" stroke-linecap="round" stroke-linejoin="round"/><path d="M458.8,97.0 C460.1,98.5 464.8,102.4 466.6,105.8 C468.4,109.2 468.7,113.7 469.7,117.5 C470.7,121.3 471.6,124.8 472.8,128.4 C474.0,132.0 476.0,137.2 476.6,139.0" fill="none" stroke="#1447a6" stroke-width="2.2" stroke-linecap="round" stroke-linejoin="round" opacity="0.55" transform="translate(1.1,0.4)"/><path d="M458.8,97.0 C460.1,98.5 464.8,102.4 466.6,105.8 C468.4,109.2 468.7,113.7 469.7,117.5 C470.7,121.3 471.6,124.8 472.8,128.4 C474.0,132.0 476.0,137.2 476.6,139.0" fill="none" stroke="#62a8ee" stroke-width="1.4" stroke-linecap="round" stroke-linejoin="round" opacity="0.7" transform="translate(-0.9,-0.4)"/></g>
<path d="M411.0,123.1 L411.7,123.3 L412.7,123.5 L413.9,123.7 L415.2,123.9 L416.6,124.2 L417.9,124.6 L419.3,124.9 L420.5,125.2 L421.6,125.3 L422.4,125.6 L423.2,125.8 L424.0,126.2 L424.8,126.7 L425.6,127.2 L426.5,127.8 L427.3,128.5 L428.2,129.2 L429.1,129.9 L430.0,130.6 L430.9,131.3 L431.6,131.8 L432.2,132.4 L432.8,133.0 L433.5,133.7 L434.2,134.4 L435.0,135.1 L435.9,135.9 L436.9,136.6 L438.1,137.3 L439.3,137.9 L440.7,138.5 L442.0,138.9 L443.5,139.3 L444.9,139.7 L446.4,140.0 L448.0,140.3 L449.5,140.5 L451.1,140.7 L452.7,141.0 L454.3,141.2 L456.0,141.4 L457.9,141.5 L459.8,141.7 L461.8,141.8 L463.7,141.9 L465.6,142.0 L467.4,142.0 L469.1,142.1 L470.5,142.1 L471.8,142.2 L472.8,142.2 L473.6,142.3 L474.4,142.3 L474.9,142.3 L475.4,142.3 L475.8,142.2 L476.1,142.2 L476.4,142.2 L476.5,142.2 L476.7,142.2 L476.5,135.8 L476.3,135.8 L476.0,135.8 L475.7,135.8 L475.5,135.9 L475.2,135.9 L474.9,135.9 L474.4,135.9 L473.8,135.9 L473.0,135.8 L472.0,135.8 L470.8,135.8 L469.3,135.7 L467.7,135.6 L465.9,135.6 L464.0,135.5 L462.1,135.4 L460.2,135.3 L458.4,135.2 L456.7,135.0 L455.1,134.8 L453.6,134.6 L452.0,134.4 L450.5,134.2 L449.1,133.9 L447.7,133.7 L446.3,133.4 L445.1,133.1 L443.9,132.8 L442.8,132.4 L441.9,132.1 L441.1,131.7 L440.4,131.3 L439.8,130.8 L439.2,130.3 L438.6,129.8 L438.0,129.1 L437.3,128.5 L436.5,127.7 L435.7,126.9 L434.7,126.2 L433.9,125.6 L433.1,124.9 L432.2,124.2 L431.3,123.5 L430.3,122.7 L429.3,122.0 L428.2,121.3 L427.0,120.6 L425.7,120.0 L424.4,119.4 L422.9,119.1 L421.3,118.8 L419.8,118.7 L418.2,118.9 L416.7,119.2 L415.2,119.5 L413.9,119.7 L412.7,120.0 L411.8,120.2 L411.0,120.3 Z" fill="#0f3482" stroke="#0f3482" stroke-width="0.4" stroke-linejoin="round"/><path d="M411.0,122.3 L411.7,122.5 L412.7,122.7 L413.9,122.9 L415.2,123.1 L416.6,123.4 L418.0,123.8 L419.3,124.1 L420.6,124.4 L421.7,124.5 L422.7,124.8 L423.5,125.1 L424.4,125.5 L425.2,126.0 L426.1,126.6 L427.0,127.2 L427.8,127.9 L428.7,128.6 L429.6,129.3 L430.5,130.0 L431.3,130.7 L432.1,131.2 L432.7,131.8 L433.4,132.4 L434.0,133.1 L434.7,133.8 L435.5,134.5 L436.4,135.3 L437.3,136.0 L438.4,136.6 L439.7,137.2 L440.9,137.7 L442.3,138.1 L443.7,138.5 L445.1,138.9 L446.6,139.2 L448.1,139.5 L449.7,139.7 L451.2,140.0 L452.8,140.2 L454.4,140.4 L456.1,140.6 L458.0,140.7 L459.9,140.9 L461.8,141.0 L463.8,141.1 L465.7,141.2 L467.5,141.2 L469.1,141.3 L470.6,141.3 L471.8,141.4 L472.8,141.4 L473.7,141.5 L474.4,141.5 L474.9,141.5 L475.4,141.5 L475.8,141.4 L476.1,141.4 L476.3,141.4 L476.5,141.4 L476.6,141.4 L476.6,136.6 L476.3,136.6 L476.0,136.6 L475.8,136.6 L475.5,136.7 L475.2,136.7 L474.9,136.7 L474.4,136.7 L473.8,136.7 L473.0,136.6 L472.0,136.6 L470.8,136.6 L469.3,136.5 L467.7,136.4 L465.9,136.4 L464.0,136.3 L462.1,136.2 L460.2,136.1 L458.3,136.0 L456.6,135.8 L455.0,135.6 L453.5,135.4 L451.9,135.2 L450.4,135.0 L448.9,134.7 L447.5,134.5 L446.2,134.2 L444.9,133.9 L443.7,133.5 L442.5,133.2 L441.5,132.8 L440.7,132.4 L440.0,132.0 L439.3,131.5 L438.7,130.9 L438.1,130.4 L437.4,129.7 L436.7,129.0 L436.0,128.3 L435.2,127.5 L434.3,126.8 L433.4,126.2 L432.6,125.5 L431.7,124.8 L430.8,124.1 L429.8,123.4 L428.8,122.6 L427.8,121.9 L426.6,121.3 L425.4,120.7 L424.1,120.2 L422.7,119.8 L421.2,119.6 L419.7,119.5 L418.1,119.7 L416.6,120.0 L415.2,120.3 L413.9,120.5 L412.7,120.8 L411.8,121.0 L411.0,121.1 Z" fill="#1c5fc4"/><path d="M411.2,122.0 L412.0,122.1 L413.1,122.2 L414.4,122.3 L415.8,122.5 L417.3,122.6 L418.8,122.8 L420.3,123.1 L421.7,123.3 L423.0,123.5 L424.1,123.8 L425.1,124.1 L426.0,124.6 L427.0,125.1 L427.9,125.7 L428.8,126.4 L429.7,127.1 L430.6,127.8 L431.5,128.5 L432.3,129.2 L433.2,129.9 L434.0,130.5 L434.7,131.1 L435.4,131.8 L436.0,132.4 L436.7,133.1 L437.5,133.8 L438.2,134.5 L439.1,135.1 L440.1,135.7 L441.2,136.2 L442.4,136.7 L443.7,137.1 L445.0,137.5 L446.4,137.8 L447.8,138.1 L449.3,138.4 L450.9,138.6 L452.4,138.9 L454.0,139.1 L455.6,139.3 L457.2,139.5 L459.0,139.6 L460.9,139.8 L462.9,139.9 L464.8,140.0 L466.7,140.1 L468.5,140.1 L470.1,140.2 L471.6,140.2 L472.8,140.3 L473.8,140.3 L474.7,140.4 L475.3,140.4 L475.9,140.4 L476.3,140.4 L476.7,140.3 L476.9,140.3 L477.2,140.3 L477.4,140.3 L477.6,140.3 L477.5,138.5 L477.3,138.5 L477.1,138.5 L476.8,138.5 L476.6,138.5 L476.3,138.5 L475.9,138.5 L475.3,138.5 L474.7,138.5 L473.9,138.5 L472.9,138.5 L471.7,138.4 L470.2,138.4 L468.6,138.3 L466.8,138.2 L464.9,138.2 L463.0,138.1 L461.0,138.0 L459.2,137.8 L457.4,137.7 L455.8,137.5 L454.2,137.3 L452.7,137.1 L451.1,136.8 L449.7,136.6 L448.2,136.3 L446.8,136.0 L445.5,135.7 L444.2,135.4 L443.0,135.0 L441.9,134.5 L441.0,134.1 L440.1,133.6 L439.4,133.0 L438.7,132.4 L438.0,131.8 L437.3,131.1 L436.7,130.5 L435.9,129.8 L435.2,129.1 L434.3,128.4 L433.5,127.8 L432.6,127.1 L431.7,126.4 L430.8,125.7 L429.9,124.9 L428.9,124.2 L427.9,123.6 L426.9,123.0 L425.8,122.5 L424.6,122.0 L423.4,121.7 L422.0,121.5 L420.5,121.3 L418.9,121.3 L417.3,121.3 L415.8,121.4 L414.4,121.4 L413.1,121.5 L412.1,121.6 L411.3,121.6 Z" fill="#1447a6" opacity="0.55"/><path d="M410.8,121.8 L411.5,121.8 L412.4,121.8 L413.5,121.8 L414.7,121.8 L416.0,121.9 L417.4,121.9 L418.7,122.0 L420.0,122.2 L421.3,122.4 L422.4,122.7 L423.4,123.1 L424.4,123.5 L425.4,124.1 L426.3,124.7 L427.2,125.4 L428.1,126.1 L429.0,126.8 L429.9,127.5 L430.8,128.2 L431.6,128.8 L432.4,129.5 L433.1,130.1 L433.8,130.8 L434.5,131.4 L435.2,132.1 L435.9,132.8 L436.7,133.5 L437.5,134.1 L438.5,134.7 L439.5,135.2 L440.7,135.6 L442.0,136.0 L443.3,136.4 L444.7,136.7 L446.1,137.0 L447.6,137.3 L449.1,137.6 L450.7,137.8 L452.2,138.0 L453.8,138.2 L455.5,138.4 L457.3,138.6 L459.2,138.7 L461.1,138.8 L463.0,138.9 L464.9,139.0 L466.7,139.1 L468.4,139.1 L469.8,139.2 L471.1,139.2 L472.1,139.3 L472.9,139.3 L473.6,139.3 L474.1,139.3 L474.5,139.3 L474.9,139.3 L475.2,139.2 L475.4,139.2 L475.6,139.2 L475.8,139.2 L475.8,138.0 L475.5,138.0 L475.3,138.0 L475.1,138.0 L474.8,138.1 L474.5,138.1 L474.1,138.1 L473.6,138.1 L472.9,138.1 L472.1,138.1 L471.1,138.0 L469.9,138.0 L468.4,137.9 L466.8,137.9 L465.0,137.8 L463.1,137.7 L461.2,137.6 L459.2,137.5 L457.4,137.4 L455.6,137.2 L454.0,137.0 L452.4,136.8 L450.9,136.6 L449.3,136.4 L447.8,136.1 L446.4,135.9 L445.0,135.6 L443.6,135.2 L442.3,134.9 L441.1,134.5 L440.0,134.1 L439.0,133.6 L438.2,133.1 L437.4,132.5 L436.7,131.9 L436.0,131.3 L435.3,130.6 L434.7,129.9 L434.0,129.2 L433.2,128.5 L432.3,127.9 L431.5,127.2 L430.6,126.6 L429.8,125.9 L428.9,125.1 L427.9,124.4 L427.0,123.7 L426.0,123.1 L425.0,122.5 L423.9,122.0 L422.8,121.5 L421.5,121.2 L420.2,121.0 L418.8,120.9 L417.4,120.9 L416.0,121.0 L414.7,121.1 L413.5,121.2 L412.4,121.3 L411.5,121.4 L410.8,121.5 Z" fill="#62a8ee" opacity="0.7"/>
<g opacity="1.0"><path d="M476.6,139.0 C478.4,140.2 484.1,143.5 487.5,146.0 C490.9,148.5 494.2,150.5 497.0,154.0 C499.8,157.5 502.0,162.7 504.0,167.0 C506.0,171.3 507.8,175.4 509.0,179.6 C510.2,183.8 510.3,187.8 511.0,192.0 C511.7,196.2 512.6,200.8 513.3,204.6 C514.0,208.4 514.9,212.8 515.4,215.0 C515.9,217.2 516.3,217.5 516.5,218.0" fill="none" stroke="#0f3482" stroke-width="7.4" stroke-linecap="round" stroke-linejoin="round"/><path d="M476.6,139.0 C478.4,140.2 484.1,143.5 487.5,146.0 C490.9,148.5 494.2,150.5 497.0,154.0 C499.8,157.5 502.0,162.7 504.0,167.0 C506.0,171.3 507.8,175.4 509.0,179.6 C510.2,183.8 510.3,187.8 511.0,192.0 C511.7,196.2 512.6,200.8 513.3,204.6 C514.0,208.4 514.9,212.8 515.4,215.0 C515.9,217.2 516.3,217.5 516.5,218.0" fill="none" stroke="#1c5fc4" stroke-width="5.8" stroke-linecap="round" stroke-linejoin="round"/><path d="M476.6,139.0 C478.4,140.2 484.1,143.5 487.5,146.0 C490.9,148.5 494.2,150.5 497.0,154.0 C499.8,157.5 502.0,162.7 504.0,167.0 C506.0,171.3 507.8,175.4 509.0,179.6 C510.2,183.8 510.3,187.8 511.0,192.0 C511.7,196.2 512.6,200.8 513.3,204.6 C514.0,208.4 514.9,212.8 515.4,215.0 C515.9,217.2 516.3,217.5 516.5,218.0" fill="none" stroke="#1447a6" stroke-width="2.3" stroke-linecap="round" stroke-linejoin="round" opacity="0.55" transform="translate(1.2,0.5)"/><path d="M476.6,139.0 C478.4,140.2 484.1,143.5 487.5,146.0 C490.9,148.5 494.2,150.5 497.0,154.0 C499.8,157.5 502.0,162.7 504.0,167.0 C506.0,171.3 507.8,175.4 509.0,179.6 C510.2,183.8 510.3,187.8 511.0,192.0 C511.7,196.2 512.6,200.8 513.3,204.6 C514.0,208.4 514.9,212.8 515.4,215.0 C515.9,217.2 516.3,217.5 516.5,218.0" fill="none" stroke="#62a8ee" stroke-width="1.4" stroke-linecap="round" stroke-linejoin="round" opacity="0.7" transform="translate(-1.0,-0.5)"/></g>
<path d="M567.9,69.2 L567.5,68.9 L567.1,68.5 L566.5,68.0 L565.8,67.5 L565.1,66.9 L564.2,66.3 L563.3,65.6 L562.3,65.0 L561.2,64.5 L560.2,64.0 L559.1,63.7 L558.0,63.5 L556.9,63.4 L555.7,63.3 L554.4,63.2 L553.2,63.2 L551.9,63.3 L550.6,63.4 L549.3,63.6 L548.0,63.9 L546.8,64.3 L545.7,64.8 L544.5,65.3 L543.5,65.9 L542.4,66.5 L541.3,67.3 L540.3,68.0 L539.3,68.9 L538.4,69.7 L537.4,70.7 L536.4,71.7 L535.5,72.9 L534.5,74.1 L533.6,75.3 L532.7,76.6 L531.8,78.0 L531.0,79.3 L530.2,80.7 L529.4,82.1 L528.8,83.4 L528.1,84.8 L527.6,86.1 L527.0,87.4 L526.5,88.8 L526.1,90.2 L525.7,91.6 L525.3,93.1 L525.0,94.6 L524.8,96.1 L524.6,97.7 L524.5,99.3 L524.5,101.0 L524.6,102.7 L524.7,104.4 L524.8,106.1 L525.0,107.8 L525.2,109.4 L525.5,111.0 L525.7,112.6 L525.9,114.2 L526.2,115.7 L526.5,117.3 L526.8,118.8 L527.2,120.4 L527.5,121.9 L527.9,123.3 L528.3,124.7 L528.6,126.1 L529.0,127.5 L529.3,128.8 L529.6,130.1 L530.0,131.4 L530.4,132.8 L530.7,134.0 L531.1,135.3 L531.4,136.5 L531.7,137.6 L532.0,138.7 L532.3,139.7 L532.5,140.5 L532.7,141.3 L532.9,142.0 L533.1,142.7 L533.2,143.3 L533.4,143.8 L533.5,144.2 L533.6,144.7 L533.7,145.0 L533.7,145.4 L533.8,145.7 L540.8,143.9 L540.7,143.7 L540.7,143.4 L540.6,143.0 L540.5,142.6 L540.3,142.1 L540.2,141.5 L540.1,140.9 L539.9,140.2 L539.7,139.5 L539.5,138.7 L539.2,137.8 L539.0,136.7 L538.6,135.7 L538.3,134.5 L538.0,133.3 L537.6,132.1 L537.3,130.9 L537.0,129.6 L536.6,128.3 L536.3,127.0 L536.0,125.7 L535.6,124.3 L535.2,122.9 L534.9,121.5 L534.5,120.1 L534.2,118.7 L533.9,117.3 L533.6,115.9 L533.3,114.5 L533.1,113.0 L532.8,111.5 L532.6,110.0 L532.4,108.4 L532.2,106.9 L532.0,105.3 L531.8,103.8 L531.7,102.4 L531.7,100.9 L531.7,99.6 L531.8,98.3 L531.9,97.1 L532.1,95.8 L532.3,94.6 L532.6,93.5 L533.0,92.3 L533.3,91.2 L533.8,90.0 L534.2,88.9 L534.7,87.7 L535.2,86.6 L535.8,85.4 L536.5,84.2 L537.1,83.0 L537.9,81.8 L538.7,80.7 L539.4,79.5 L540.3,78.5 L541.1,77.4 L541.8,76.5 L542.6,75.7 L543.3,75.0 L544.1,74.3 L544.8,73.6 L545.6,73.1 L546.3,72.6 L547.0,72.1 L547.8,71.7 L548.5,71.4 L549.3,71.1 L550.0,70.9 L550.7,70.7 L551.5,70.5 L552.4,70.5 L553.3,70.4 L554.2,70.4 L555.2,70.5 L556.1,70.6 L557.1,70.7 L558.0,70.8 L558.8,70.8 L559.6,70.8 L560.4,70.8 L561.3,70.8 L562.2,71.0 L563.1,71.1 L563.9,71.3 L564.7,71.5 L565.5,71.7 L566.2,71.9 L566.7,72.0 Z" fill="#0f3482" stroke="#0f3482" stroke-width="0.4" stroke-linejoin="round"/><path d="M567.6,70.0 L567.2,69.7 L566.7,69.3 L566.1,68.8 L565.5,68.2 L564.7,67.6 L563.9,67.0 L563.0,66.4 L562.1,65.8 L561.0,65.2 L560.0,64.8 L559.0,64.5 L557.9,64.3 L556.8,64.2 L555.6,64.1 L554.4,64.0 L553.2,64.0 L551.9,64.1 L550.7,64.2 L549.4,64.4 L548.2,64.7 L547.1,65.1 L546.0,65.5 L544.9,66.0 L543.9,66.6 L542.8,67.2 L541.8,67.9 L540.8,68.6 L539.9,69.5 L538.9,70.3 L538.0,71.3 L537.0,72.3 L536.1,73.4 L535.2,74.6 L534.3,75.8 L533.4,77.1 L532.5,78.4 L531.7,79.7 L530.9,81.1 L530.1,82.5 L529.5,83.8 L528.9,85.1 L528.3,86.4 L527.8,87.7 L527.3,89.1 L526.8,90.4 L526.4,91.8 L526.1,93.3 L525.8,94.7 L525.6,96.2 L525.4,97.8 L525.3,99.4 L525.3,101.0 L525.4,102.7 L525.5,104.3 L525.6,106.0 L525.8,107.7 L526.0,109.3 L526.3,110.9 L526.5,112.5 L526.7,114.0 L527.0,115.6 L527.3,117.1 L527.6,118.7 L528.0,120.2 L528.3,121.7 L528.7,123.1 L529.0,124.5 L529.4,125.9 L529.8,127.3 L530.1,128.6 L530.4,129.9 L530.8,131.2 L531.1,132.5 L531.5,133.8 L531.8,135.1 L532.2,136.3 L532.5,137.4 L532.8,138.5 L533.1,139.4 L533.3,140.3 L533.5,141.1 L533.7,141.8 L533.9,142.5 L534.0,143.1 L534.1,143.6 L534.2,144.1 L534.3,144.5 L534.4,144.8 L534.5,145.2 L534.6,145.5 L540.0,144.1 L540.0,143.9 L539.9,143.5 L539.8,143.2 L539.7,142.8 L539.6,142.3 L539.4,141.7 L539.3,141.1 L539.1,140.4 L538.9,139.7 L538.7,138.9 L538.5,138.0 L538.2,137.0 L537.9,135.9 L537.6,134.8 L537.2,133.6 L536.9,132.3 L536.5,131.1 L536.2,129.8 L535.8,128.5 L535.5,127.2 L535.2,125.9 L534.8,124.5 L534.5,123.1 L534.1,121.7 L533.8,120.3 L533.4,118.9 L533.1,117.5 L532.8,116.0 L532.5,114.6 L532.3,113.2 L532.0,111.7 L531.8,110.1 L531.6,108.6 L531.4,107.0 L531.2,105.4 L531.0,103.9 L530.9,102.4 L530.9,100.9 L530.9,99.6 L531.0,98.2 L531.1,97.0 L531.3,95.7 L531.6,94.5 L531.9,93.3 L532.2,92.1 L532.6,90.9 L533.0,89.7 L533.5,88.6 L534.0,87.4 L534.5,86.2 L535.1,85.0 L535.8,83.8 L536.5,82.6 L537.2,81.4 L538.0,80.2 L538.8,79.1 L539.6,78.0 L540.4,76.9 L541.2,76.0 L542.0,75.1 L542.8,74.4 L543.6,73.7 L544.3,73.0 L545.1,72.4 L545.9,71.9 L546.6,71.4 L547.4,71.0 L548.2,70.7 L549.0,70.4 L549.8,70.1 L550.6,69.9 L551.4,69.8 L552.3,69.7 L553.3,69.6 L554.2,69.6 L555.2,69.7 L556.2,69.8 L557.2,69.9 L558.1,70.0 L559.0,70.0 L559.8,70.0 L560.7,70.0 L561.6,70.1 L562.5,70.2 L563.4,70.4 L564.3,70.6 L565.1,70.8 L565.8,71.0 L566.5,71.1 L567.0,71.2 Z" fill="#1c5fc4"/><path d="M567.7,70.5 L567.3,70.2 L566.8,69.9 L566.3,69.6 L565.6,69.2 L564.9,68.7 L564.2,68.3 L563.4,67.8 L562.5,67.4 L561.6,67.1 L560.7,66.8 L559.8,66.6 L558.8,66.5 L557.7,66.4 L556.6,66.3 L555.5,66.2 L554.3,66.2 L553.2,66.3 L552.0,66.4 L550.9,66.6 L549.8,66.8 L548.8,67.2 L547.8,67.6 L546.8,68.0 L545.8,68.5 L544.9,69.1 L544.0,69.8 L543.0,70.5 L542.1,71.2 L541.2,72.0 L540.4,72.9 L539.5,73.9 L538.6,74.9 L537.7,76.1 L536.8,77.3 L535.9,78.5 L535.1,79.8 L534.3,81.1 L533.5,82.4 L532.8,83.7 L532.2,85.0 L531.6,86.3 L531.0,87.5 L530.5,88.8 L530.0,90.1 L529.6,91.4 L529.2,92.7 L528.9,94.1 L528.6,95.5 L528.4,96.9 L528.3,98.4 L528.2,99.9 L528.2,101.4 L528.2,103.0 L528.3,104.6 L528.5,106.3 L528.7,107.9 L528.9,109.5 L529.1,111.1 L529.3,112.7 L529.6,114.2 L529.8,115.7 L530.1,117.2 L530.4,118.7 L530.8,120.2 L531.1,121.7 L531.5,123.1 L531.8,124.6 L532.2,125.9 L532.6,127.3 L532.9,128.6 L533.2,129.9 L533.6,131.2 L533.9,132.5 L534.3,133.8 L534.6,135.1 L535.0,136.2 L535.3,137.4 L535.6,138.5 L535.9,139.4 L536.1,140.3 L536.3,141.1 L536.5,141.9 L536.7,142.5 L536.8,143.1 L536.9,143.6 L537.1,144.1 L537.2,144.5 L537.2,144.9 L537.3,145.2 L537.4,145.5 L539.5,145.0 L539.4,144.7 L539.3,144.4 L539.2,144.0 L539.1,143.6 L539.0,143.1 L538.9,142.6 L538.7,142.0 L538.6,141.3 L538.4,140.6 L538.1,139.8 L537.9,138.9 L537.6,137.9 L537.3,136.8 L537.0,135.7 L536.7,134.5 L536.3,133.2 L536.0,132.0 L535.6,130.7 L535.3,129.4 L535.0,128.1 L534.6,126.8 L534.3,125.4 L533.9,124.0 L533.5,122.6 L533.2,121.2 L532.8,119.7 L532.5,118.3 L532.2,116.8 L531.9,115.4 L531.7,113.9 L531.4,112.4 L531.2,110.8 L531.0,109.2 L530.8,107.6 L530.6,106.1 L530.4,104.5 L530.3,102.9 L530.3,101.4 L530.3,99.9 L530.4,98.5 L530.5,97.2 L530.7,95.8 L531.0,94.5 L531.3,93.3 L531.7,92.0 L532.1,90.8 L532.5,89.6 L533.0,88.3 L533.5,87.1 L534.1,85.9 L534.7,84.7 L535.4,83.4 L536.1,82.2 L536.9,80.9 L537.7,79.7 L538.5,78.5 L539.4,77.4 L540.2,76.3 L541.1,75.3 L541.9,74.4 L542.7,73.6 L543.5,72.8 L544.4,72.1 L545.2,71.5 L546.0,70.9 L546.9,70.4 L547.8,69.9 L548.6,69.5 L549.5,69.2 L550.4,68.9 L551.3,68.6 L552.3,68.5 L553.3,68.4 L554.4,68.3 L555.4,68.3 L556.5,68.4 L557.5,68.5 L558.5,68.6 L559.5,68.7 L560.4,68.8 L561.2,68.9 L562.0,69.0 L562.8,69.3 L563.6,69.5 L564.4,69.8 L565.2,70.1 L565.9,70.3 L566.5,70.6 L567.0,70.8 L567.5,71.0 Z" fill="#1447a6" opacity="0.55"/><path d="M567.1,70.3 L566.7,70.1 L566.1,69.7 L565.4,69.3 L564.6,68.9 L563.7,68.4 L562.8,67.9 L561.8,67.4 L560.8,67.0 L559.8,66.6 L558.7,66.3 L557.7,66.1 L556.7,66.0 L555.6,65.8 L554.5,65.7 L553.4,65.7 L552.3,65.7 L551.1,65.7 L550.0,65.8 L548.9,66.0 L547.9,66.3 L546.8,66.6 L545.9,67.0 L544.9,67.5 L543.9,68.0 L543.0,68.5 L542.1,69.2 L541.2,69.8 L540.3,70.6 L539.4,71.4 L538.5,72.3 L537.7,73.2 L536.8,74.3 L535.9,75.4 L535.0,76.6 L534.1,77.8 L533.3,79.1 L532.5,80.4 L531.8,81.7 L531.1,83.0 L530.4,84.2 L529.8,85.5 L529.3,86.8 L528.8,88.0 L528.3,89.3 L527.9,90.6 L527.5,91.9 L527.2,93.3 L526.9,94.6 L526.7,96.1 L526.6,97.5 L526.5,99.0 L526.4,100.5 L526.5,102.1 L526.6,103.7 L526.8,105.3 L526.9,107.0 L527.2,108.6 L527.4,110.2 L527.6,111.7 L527.9,113.3 L528.1,114.8 L528.4,116.3 L528.7,117.8 L529.0,119.2 L529.4,120.7 L529.8,122.2 L530.1,123.6 L530.5,125.0 L530.8,126.3 L531.2,127.6 L531.5,128.9 L531.8,130.2 L532.2,131.5 L532.6,132.8 L532.9,134.1 L533.2,135.3 L533.6,136.4 L533.9,137.5 L534.1,138.4 L534.4,139.3 L534.6,140.1 L534.8,140.9 L534.9,141.5 L535.1,142.1 L535.2,142.6 L535.3,143.1 L535.4,143.5 L535.5,143.9 L535.6,144.2 L535.7,144.5 L537.0,144.2 L537.0,143.9 L536.9,143.6 L536.8,143.2 L536.7,142.8 L536.6,142.3 L536.4,141.8 L536.3,141.2 L536.1,140.5 L535.9,139.8 L535.7,139.0 L535.5,138.1 L535.2,137.1 L534.9,136.0 L534.6,134.9 L534.2,133.7 L533.9,132.4 L533.6,131.2 L533.2,129.9 L532.9,128.6 L532.5,127.3 L532.2,126.0 L531.8,124.6 L531.5,123.2 L531.1,121.8 L530.8,120.4 L530.4,118.9 L530.1,117.5 L529.8,116.0 L529.5,114.5 L529.2,113.0 L529.0,111.5 L528.8,110.0 L528.5,108.4 L528.3,106.8 L528.2,105.2 L528.0,103.6 L527.9,102.0 L527.8,100.5 L527.9,99.0 L527.9,97.6 L528.1,96.2 L528.3,94.9 L528.6,93.6 L528.9,92.3 L529.2,91.0 L529.6,89.8 L530.1,88.5 L530.6,87.3 L531.1,86.1 L531.7,84.9 L532.3,83.6 L533.0,82.4 L533.7,81.1 L534.5,79.8 L535.3,78.6 L536.1,77.4 L537.0,76.2 L537.9,75.2 L538.7,74.1 L539.6,73.2 L540.4,72.4 L541.2,71.6 L542.1,70.9 L542.9,70.3 L543.8,69.7 L544.6,69.2 L545.5,68.7 L546.4,68.3 L547.3,67.9 L548.2,67.6 L549.2,67.4 L550.2,67.2 L551.2,67.1 L552.3,67.1 L553.4,67.1 L554.4,67.1 L555.5,67.2 L556.5,67.3 L557.5,67.5 L558.5,67.6 L559.4,67.8 L560.4,68.1 L561.4,68.4 L562.4,68.7 L563.4,69.1 L564.3,69.5 L565.1,69.8 L565.8,70.2 L566.5,70.4 L567.0,70.6 Z" fill="#62a8ee" opacity="0.7"/>
<path d="M542.2,139.7 L542.7,138.9 L543.4,137.8 L544.1,136.5 L545.0,135.1 L545.9,133.7 L546.8,132.2 L547.8,130.7 L548.8,129.4 L549.8,128.2 L550.8,127.2 L551.8,126.3 L552.9,125.4 L554.1,124.6 L555.3,123.8 L556.6,123.0 L557.8,122.3 L559.1,121.6 L560.4,121.0 L561.7,120.4 L563.0,119.9 L564.2,119.5 L565.4,119.1 L566.6,118.7 L567.8,118.4 L569.0,118.1 L570.2,117.9 L571.4,117.8 L572.6,117.6 L573.8,117.6 L575.0,117.5 L576.2,117.5 L577.3,117.6 L578.5,117.8 L579.7,118.0 L581.0,118.3 L582.3,118.5 L583.6,118.8 L585.0,119.1 L586.4,119.3 L587.9,119.4 L589.3,119.4 L590.7,119.4 L592.1,119.4 L593.4,119.3 L594.8,119.2 L596.1,119.1 L597.4,119.0 L598.6,118.9 L599.8,118.8 L601.0,118.8 L602.2,118.8 L603.5,118.9 L604.9,118.7 L606.2,118.6 L607.6,118.5 L608.9,118.4 L610.1,118.3 L611.1,118.2 L612.0,118.1 L612.7,118.0 L612.9,115.6 L612.2,115.4 L611.3,115.2 L610.3,115.0 L609.1,114.7 L607.8,114.5 L606.5,114.2 L605.1,113.9 L603.7,113.7 L602.3,113.6 L601.0,113.6 L599.7,113.6 L598.3,113.7 L597.0,113.8 L595.7,113.9 L594.4,114.0 L593.1,114.1 L591.8,114.2 L590.6,114.2 L589.3,114.2 L588.1,114.2 L587.0,114.1 L585.8,113.9 L584.6,113.7 L583.3,113.5 L582.0,113.2 L580.7,112.9 L579.3,112.7 L577.9,112.4 L576.4,112.3 L575.0,112.3 L573.6,112.4 L572.2,112.5 L570.8,112.6 L569.4,112.8 L568.0,113.0 L566.6,113.3 L565.2,113.7 L563.8,114.1 L562.4,114.6 L561.0,115.1 L559.7,115.7 L558.2,116.3 L556.8,117.0 L555.4,117.7 L553.9,118.5 L552.5,119.4 L551.1,120.3 L549.8,121.3 L548.5,122.3 L547.2,123.4 L546.0,124.7 L544.8,126.2 L543.6,127.7 L542.5,129.3 L541.5,130.9 L540.5,132.4 L539.7,133.9 L538.9,135.1 L538.3,136.1 L537.8,136.9 Z" fill="#0f3482" stroke="#0f3482" stroke-width="0.4" stroke-linejoin="round"/><path d="M541.5,139.3 L542.0,138.5 L542.7,137.4 L543.5,136.1 L544.3,134.7 L545.2,133.2 L546.2,131.7 L547.2,130.3 L548.2,128.9 L549.2,127.6 L550.2,126.6 L551.3,125.7 L552.4,124.8 L553.6,123.9 L554.9,123.1 L556.2,122.3 L557.5,121.6 L558.8,120.9 L560.1,120.3 L561.4,119.7 L562.7,119.2 L563.9,118.7 L565.1,118.3 L566.4,117.9 L567.6,117.6 L568.8,117.4 L570.1,117.1 L571.3,117.0 L572.6,116.8 L573.8,116.8 L575.0,116.7 L576.2,116.7 L577.4,116.8 L578.6,117.0 L579.9,117.2 L581.1,117.5 L582.4,117.8 L583.8,118.0 L585.1,118.3 L586.5,118.5 L587.9,118.6 L589.3,118.6 L590.7,118.6 L592.0,118.6 L593.4,118.5 L594.7,118.4 L596.0,118.3 L597.3,118.2 L598.6,118.1 L599.8,118.0 L601.0,118.0 L602.2,118.0 L603.6,118.1 L604.9,117.9 L606.3,117.8 L607.6,117.7 L608.9,117.6 L610.1,117.5 L611.2,117.4 L612.1,117.3 L612.8,117.2 L612.8,116.4 L612.1,116.2 L611.3,116.0 L610.2,115.8 L609.1,115.5 L607.8,115.3 L606.5,115.0 L605.1,114.7 L603.7,114.5 L602.3,114.4 L601.0,114.4 L599.7,114.4 L598.4,114.5 L597.1,114.6 L595.7,114.7 L594.4,114.8 L593.1,114.9 L591.8,115.0 L590.6,115.0 L589.3,115.0 L588.1,115.0 L586.9,114.9 L585.7,114.7 L584.4,114.5 L583.2,114.2 L581.9,114.0 L580.5,113.7 L579.2,113.4 L577.8,113.2 L576.4,113.1 L575.0,113.1 L573.6,113.2 L572.2,113.3 L570.9,113.4 L569.5,113.6 L568.2,113.8 L566.8,114.1 L565.4,114.5 L564.1,114.9 L562.7,115.3 L561.3,115.8 L560.0,116.4 L558.6,117.0 L557.2,117.7 L555.8,118.4 L554.3,119.2 L553.0,120.0 L551.6,120.9 L550.3,121.9 L549.0,122.9 L547.8,124.0 L546.6,125.3 L545.4,126.7 L544.3,128.2 L543.2,129.8 L542.2,131.3 L541.2,132.8 L540.4,134.3 L539.6,135.5 L539.0,136.5 L538.5,137.3 Z" fill="#1c5fc4"/><path d="M541.3,139.0 L541.8,138.2 L542.5,137.1 L543.2,135.8 L544.1,134.4 L545.0,132.9 L546.0,131.4 L547.0,129.9 L548.1,128.5 L549.1,127.2 L550.2,126.1 L551.3,125.1 L552.5,124.2 L553.7,123.3 L555.0,122.4 L556.3,121.6 L557.7,120.9 L559.0,120.2 L560.3,119.6 L561.7,119.0 L563.0,118.4 L564.2,117.9 L565.5,117.5 L566.8,117.1 L568.1,116.8 L569.3,116.6 L570.6,116.3 L571.9,116.2 L573.2,116.0 L574.5,115.9 L575.7,115.9 L577.0,115.9 L578.2,116.0 L579.5,116.2 L580.8,116.4 L582.1,116.7 L583.4,117.0 L584.7,117.2 L586.0,117.5 L587.3,117.7 L588.7,117.8 L590.0,117.8 L591.4,117.8 L592.7,117.7 L594.0,117.7 L595.3,117.6 L596.7,117.4 L598.0,117.3 L599.2,117.3 L600.5,117.2 L601.7,117.2 L603.0,117.2 L604.3,117.2 L605.6,117.2 L606.9,117.1 L608.2,117.1 L609.4,117.1 L610.5,117.1 L611.5,117.1 L612.3,117.1 L613.0,117.0 L613.0,116.7 L612.3,116.6 L611.5,116.5 L610.5,116.4 L609.4,116.3 L608.2,116.2 L607.0,116.1 L605.7,116.0 L604.4,115.9 L603.0,115.8 L601.7,115.8 L600.4,115.8 L599.2,115.9 L597.9,116.0 L596.6,116.1 L595.2,116.2 L593.9,116.3 L592.6,116.4 L591.3,116.4 L590.0,116.4 L588.8,116.4 L587.5,116.3 L586.2,116.1 L585.0,115.9 L583.7,115.6 L582.4,115.3 L581.1,115.1 L579.7,114.8 L578.4,114.6 L577.1,114.5 L575.7,114.5 L574.4,114.6 L573.1,114.7 L571.7,114.8 L570.4,115.0 L569.1,115.2 L567.8,115.5 L566.4,115.8 L565.1,116.2 L563.8,116.7 L562.5,117.2 L561.1,117.7 L559.8,118.3 L558.4,119.0 L557.0,119.7 L555.6,120.4 L554.3,121.3 L552.9,122.1 L551.7,123.1 L550.4,124.1 L549.2,125.1 L548.1,126.3 L547.0,127.6 L545.9,129.1 L544.8,130.7 L543.8,132.2 L542.9,133.7 L542.0,135.1 L541.3,136.4 L540.7,137.4 L540.1,138.2 Z" fill="#1447a6" opacity="0.55"/><path d="M539.8,138.3 L540.3,137.5 L540.9,136.4 L541.7,135.1 L542.5,133.7 L543.5,132.2 L544.4,130.7 L545.5,129.2 L546.5,127.8 L547.6,126.5 L548.7,125.3 L549.8,124.3 L551.0,123.4 L552.2,122.5 L553.5,121.6 L554.9,120.9 L556.2,120.1 L557.6,119.4 L558.9,118.8 L560.2,118.2 L561.6,117.6 L562.8,117.1 L564.1,116.7 L565.4,116.3 L566.7,116.0 L568.0,115.7 L569.3,115.5 L570.5,115.3 L571.8,115.2 L573.1,115.1 L574.4,115.1 L575.7,115.1 L576.9,115.2 L578.2,115.4 L579.5,115.6 L580.8,115.9 L582.1,116.2 L583.4,116.4 L584.7,116.7 L586.0,116.9 L587.4,117.0 L588.7,117.0 L590.0,117.0 L591.3,116.9 L592.7,116.8 L594.0,116.7 L595.3,116.6 L596.6,116.5 L597.9,116.4 L599.2,116.4 L600.4,116.4 L601.7,116.4 L603.0,116.4 L604.4,116.5 L605.9,116.5 L607.3,116.6 L608.6,116.6 L609.9,116.7 L611.0,116.8 L611.9,116.8 L612.6,116.8 L612.7,116.6 L611.9,116.5 L611.0,116.4 L609.9,116.3 L608.7,116.1 L607.3,116.0 L605.9,115.8 L604.5,115.6 L603.0,115.5 L601.7,115.5 L600.4,115.5 L599.1,115.5 L597.8,115.5 L596.5,115.6 L595.2,115.7 L593.9,115.8 L592.6,115.9 L591.3,116.0 L590.0,116.1 L588.7,116.1 L587.4,116.1 L586.1,116.0 L584.9,115.8 L583.6,115.5 L582.3,115.3 L581.0,115.0 L579.7,114.7 L578.4,114.5 L577.0,114.3 L575.7,114.2 L574.4,114.2 L573.1,114.2 L571.7,114.3 L570.4,114.5 L569.1,114.6 L567.8,114.9 L566.5,115.1 L565.2,115.5 L563.9,115.9 L562.5,116.3 L561.2,116.8 L559.9,117.3 L558.5,117.9 L557.2,118.6 L555.8,119.3 L554.4,120.1 L553.1,120.9 L551.7,121.8 L550.5,122.7 L549.2,123.7 L548.1,124.7 L546.9,125.9 L545.8,127.2 L544.7,128.7 L543.7,130.2 L542.7,131.8 L541.8,133.3 L540.9,134.7 L540.2,135.9 L539.5,137.0 L539.0,137.8 Z" fill="#62a8ee" opacity="0.7"/>
<path d="M553.6,128.9 L554.3,128.7 L555.3,128.5 L556.4,128.2 L557.6,127.8 L558.8,127.5 L560.1,127.1 L561.4,126.8 L562.6,126.6 L563.8,126.5 L564.7,126.4 L565.6,126.4 L566.5,126.5 L567.4,126.7 L568.3,126.9 L569.3,127.1 L570.2,127.4 L571.1,127.7 L572.1,128.1 L573.1,128.5 L574.1,128.8 L575.0,129.2 L575.9,129.7 L576.9,130.2 L577.8,130.8 L578.9,131.4 L579.9,132.0 L581.1,132.6 L582.3,133.2 L583.6,133.7 L584.9,134.1 L586.4,134.4 L587.9,134.6 L589.5,134.7 L591.1,134.6 L592.6,134.4 L594.1,134.2 L595.5,134.0 L596.7,133.8 L597.7,133.7 L598.5,133.6 L598.5,131.2 L597.7,131.1 L596.7,131.0 L595.5,130.8 L594.1,130.6 L592.7,130.4 L591.2,130.2 L589.8,130.0 L588.4,129.8 L587.1,129.7 L586.1,129.5 L585.1,129.2 L584.2,128.8 L583.3,128.4 L582.3,127.8 L581.3,127.3 L580.3,126.7 L579.3,126.0 L578.2,125.4 L577.0,124.9 L575.9,124.4 L574.8,124.0 L573.8,123.6 L572.7,123.2 L571.7,122.8 L570.6,122.5 L569.5,122.2 L568.3,122.0 L567.2,121.8 L565.9,121.6 L564.7,121.6 L563.3,121.7 L561.9,121.9 L560.4,122.1 L559.0,122.5 L557.6,122.8 L556.3,123.2 L555.0,123.5 L553.9,123.9 L553.1,124.1 L552.4,124.3 Z" fill="#0f3482" stroke="#0f3482" stroke-width="0.4" stroke-linejoin="round"/><path d="M553.4,128.2 L554.1,128.0 L555.1,127.7 L556.1,127.4 L557.3,127.0 L558.6,126.7 L559.9,126.3 L561.2,126.0 L562.5,125.8 L563.7,125.7 L564.7,125.6 L565.7,125.6 L566.6,125.7 L567.6,125.9 L568.5,126.1 L569.5,126.3 L570.4,126.6 L571.4,127.0 L572.4,127.3 L573.4,127.7 L574.4,128.1 L575.4,128.5 L576.3,129.0 L577.3,129.5 L578.2,130.1 L579.3,130.7 L580.3,131.3 L581.4,131.9 L582.6,132.5 L583.8,133.0 L585.1,133.4 L586.5,133.6 L588.0,133.8 L589.5,133.9 L591.1,133.8 L592.6,133.6 L594.1,133.4 L595.5,133.2 L596.7,133.0 L597.7,132.9 L598.5,132.8 L598.5,132.0 L597.7,131.9 L596.7,131.8 L595.5,131.6 L594.1,131.4 L592.7,131.2 L591.2,131.0 L589.7,130.8 L588.3,130.6 L587.0,130.5 L585.9,130.2 L584.9,129.9 L583.9,129.5 L582.9,129.1 L581.9,128.5 L580.9,127.9 L579.9,127.3 L578.9,126.7 L577.8,126.1 L576.7,125.6 L575.6,125.1 L574.5,124.7 L573.5,124.3 L572.5,124.0 L571.4,123.6 L570.4,123.3 L569.3,123.0 L568.2,122.7 L567.1,122.6 L565.9,122.4 L564.7,122.4 L563.4,122.5 L562.0,122.6 L560.6,122.9 L559.2,123.2 L557.8,123.6 L556.5,124.0 L555.2,124.3 L554.2,124.6 L553.3,124.9 L552.6,125.0 Z" fill="#1c5fc4"/><path d="M553.8,127.4 L554.5,127.3 L555.4,127.0 L556.5,126.7 L557.7,126.3 L559.0,126.0 L560.3,125.6 L561.7,125.3 L563.0,125.1 L564.2,124.9 L565.3,124.9 L566.4,124.9 L567.4,125.0 L568.4,125.2 L569.4,125.4 L570.4,125.7 L571.4,126.0 L572.4,126.3 L573.4,126.7 L574.4,127.0 L575.4,127.4 L576.4,127.8 L577.4,128.3 L578.4,128.9 L579.4,129.5 L580.4,130.1 L581.5,130.7 L582.5,131.3 L583.6,131.8 L584.8,132.3 L586.0,132.6 L587.3,132.9 L588.7,133.1 L590.2,133.2 L591.7,133.1 L593.1,133.1 L594.5,133.0 L595.8,132.8 L597.0,132.7 L597.9,132.7 L598.7,132.6 L598.7,132.3 L597.9,132.3 L596.9,132.3 L595.8,132.2 L594.5,132.2 L593.1,132.2 L591.7,132.1 L590.3,132.0 L588.8,131.9 L587.5,131.7 L586.3,131.5 L585.2,131.1 L584.1,130.7 L583.1,130.2 L582.0,129.7 L581.0,129.1 L580.0,128.4 L579.0,127.8 L578.0,127.3 L576.9,126.7 L575.9,126.3 L574.8,125.9 L573.8,125.5 L572.8,125.1 L571.8,124.8 L570.7,124.5 L569.7,124.2 L568.6,124.0 L567.6,123.8 L566.5,123.7 L565.3,123.6 L564.1,123.7 L562.8,123.9 L561.4,124.1 L560.1,124.5 L558.7,124.8 L557.4,125.2 L556.2,125.5 L555.1,125.8 L554.2,126.1 L553.5,126.3 Z" fill="#1447a6" opacity="0.55"/><path d="M552.6,126.7 L553.3,126.6 L554.2,126.3 L555.3,126.0 L556.5,125.6 L557.8,125.3 L559.1,124.9 L560.5,124.6 L561.8,124.4 L563.0,124.2 L564.2,124.1 L565.2,124.2 L566.2,124.3 L567.3,124.5 L568.3,124.7 L569.3,124.9 L570.3,125.2 L571.3,125.6 L572.3,125.9 L573.3,126.3 L574.3,126.7 L575.3,127.1 L576.3,127.6 L577.3,128.2 L578.3,128.8 L579.3,129.4 L580.4,130.0 L581.4,130.6 L582.5,131.1 L583.7,131.6 L584.9,131.9 L586.2,132.2 L587.6,132.4 L589.1,132.5 L590.7,132.5 L592.2,132.5 L593.8,132.5 L595.2,132.5 L596.5,132.4 L597.5,132.4 L598.4,132.4 L598.4,132.2 L597.5,132.2 L596.5,132.1 L595.2,132.1 L593.8,132.0 L592.3,131.9 L590.7,131.8 L589.1,131.7 L587.6,131.6 L586.3,131.4 L585.1,131.2 L583.9,130.8 L582.9,130.4 L581.8,129.9 L580.8,129.3 L579.7,128.7 L578.7,128.1 L577.7,127.5 L576.7,126.9 L575.7,126.4 L574.6,126.0 L573.6,125.6 L572.5,125.2 L571.5,124.8 L570.5,124.5 L569.5,124.2 L568.5,123.9 L567.4,123.7 L566.4,123.5 L565.3,123.4 L564.2,123.3 L563.0,123.4 L561.7,123.6 L560.3,123.8 L558.9,124.1 L557.6,124.5 L556.3,124.9 L555.0,125.2 L554.0,125.5 L553.1,125.8 L552.4,126.0 Z" fill="#62a8ee" opacity="0.7"/>
<g opacity="1.0"><path d="M537.3,144.8 C537.5,145.7 538.5,146.9 538.3,150.4 C538.1,153.9 537.3,160.4 536.2,166.0 C535.2,171.6 533.9,178.0 532.0,183.8 C530.1,189.5 526.9,195.9 524.8,200.4 C522.7,204.9 521.0,207.9 519.6,210.8 C518.2,213.7 517.0,216.8 516.5,218.0" fill="none" stroke="#0f3482" stroke-width="7.4" stroke-linecap="round" stroke-linejoin="round"/><path d="M537.3,144.8 C537.5,145.7 538.5,146.9 538.3,150.4 C538.1,153.9 537.3,160.4 536.2,166.0 C535.2,171.6 533.9,178.0 532.0,183.8 C530.1,189.5 526.9,195.9 524.8,200.4 C522.7,204.9 521.0,207.9 519.6,210.8 C518.2,213.7 517.0,216.8 516.5,218.0" fill="none" stroke="#1c5fc4" stroke-width="5.8" stroke-linecap="round" stroke-linejoin="round"/><path d="M537.3,144.8 C537.5,145.7 538.5,146.9 538.3,150.4 C538.1,153.9 537.3,160.4 536.2,166.0 C535.2,171.6 533.9,178.0 532.0,183.8 C530.1,189.5 526.9,195.9 524.8,200.4 C522.7,204.9 521.0,207.9 519.6,210.8 C518.2,213.7 517.0,216.8 516.5,218.0" fill="none" stroke="#1447a6" stroke-width="2.3" stroke-linecap="round" stroke-linejoin="round" opacity="0.55" transform="translate(1.2,0.5)"/><path d="M537.3,144.8 C537.5,145.7 538.5,146.9 538.3,150.4 C538.1,153.9 537.3,160.4 536.2,166.0 C535.2,171.6 533.9,178.0 532.0,183.8 C530.1,189.5 526.9,195.9 524.8,200.4 C522.7,204.9 521.0,207.9 519.6,210.8 C518.2,213.7 517.0,216.8 516.5,218.0" fill="none" stroke="#62a8ee" stroke-width="1.4" stroke-linecap="round" stroke-linejoin="round" opacity="0.7" transform="translate(-1.0,-0.5)"/></g>
<g opacity="1.0"><path d="M516.5,217.0 C516.1,218.8 515.0,224.0 514.0,228.0 C513.0,232.0 512.0,235.5 510.6,240.8 C509.2,246.1 507.2,252.3 505.9,260.0 C504.6,267.7 503.3,278.7 503.0,287.0 C502.7,295.3 503.5,302.2 504.0,310.0 C504.5,317.8 505.2,325.8 506.0,333.8 C506.8,341.8 508.2,351.6 509.0,358.0 C509.8,364.4 509.4,368.3 510.5,372.0 C511.6,375.7 513.9,377.8 515.8,380.4 C517.7,383.0 519.6,385.8 522.0,387.7 C524.4,389.6 525.3,390.8 530.0,391.5 C534.7,392.2 546.7,391.9 550.0,392.0" fill="none" stroke="#0f3482" stroke-width="10.2" stroke-linecap="round" stroke-linejoin="round"/><path d="M516.5,217.0 C516.1,218.8 515.0,224.0 514.0,228.0 C513.0,232.0 512.0,235.5 510.6,240.8 C509.2,246.1 507.2,252.3 505.9,260.0 C504.6,267.7 503.3,278.7 503.0,287.0 C502.7,295.3 503.5,302.2 504.0,310.0 C504.5,317.8 505.2,325.8 506.0,333.8 C506.8,341.8 508.2,351.6 509.0,358.0 C509.8,364.4 509.4,368.3 510.5,372.0 C511.6,375.7 513.9,377.8 515.8,380.4 C517.7,383.0 519.6,385.8 522.0,387.7 C524.4,389.6 525.3,390.8 530.0,391.5 C534.7,392.2 546.7,391.9 550.0,392.0" fill="none" stroke="#1c5fc4" stroke-width="8.6" stroke-linecap="round" stroke-linejoin="round"/><path d="M516.5,217.0 C516.1,218.8 515.0,224.0 514.0,228.0 C513.0,232.0 512.0,235.5 510.6,240.8 C509.2,246.1 507.2,252.3 505.9,260.0 C504.6,267.7 503.3,278.7 503.0,287.0 C502.7,295.3 503.5,302.2 504.0,310.0 C504.5,317.8 505.2,325.8 506.0,333.8 C506.8,341.8 508.2,351.6 509.0,358.0 C509.8,364.4 509.4,368.3 510.5,372.0 C511.6,375.7 513.9,377.8 515.8,380.4 C517.7,383.0 519.6,385.8 522.0,387.7 C524.4,389.6 525.3,390.8 530.0,391.5 C534.7,392.2 546.7,391.9 550.0,392.0" fill="none" stroke="#1447a6" stroke-width="3.4" stroke-linecap="round" stroke-linejoin="round" opacity="0.55" transform="translate(1.7,0.7)"/><path d="M516.5,217.0 C516.1,218.8 515.0,224.0 514.0,228.0 C513.0,232.0 512.0,235.5 510.6,240.8 C509.2,246.1 507.2,252.3 505.9,260.0 C504.6,267.7 503.3,278.7 503.0,287.0 C502.7,295.3 503.5,302.2 504.0,310.0 C504.5,317.8 505.2,325.8 506.0,333.8 C506.8,341.8 508.2,351.6 509.0,358.0 C509.8,364.4 509.4,368.3 510.5,372.0 C511.6,375.7 513.9,377.8 515.8,380.4 C517.7,383.0 519.6,385.8 522.0,387.7 C524.4,389.6 525.3,390.8 530.0,391.5 C534.7,392.2 546.7,391.9 550.0,392.0" fill="none" stroke="#62a8ee" stroke-width="2.1" stroke-linecap="round" stroke-linejoin="round" opacity="0.7" transform="translate(-1.5,-0.7)"/></g>
<g opacity="1.0"><path d="M546.0,277.0 C544.7,277.3 540.0,277.3 538.0,279.0 C536.0,280.7 534.3,284.5 534.0,287.0 C533.7,289.5 534.0,292.8 536.0,294.0 C538.0,295.2 544.3,294.0 546.0,294.0" fill="none" stroke="#0f3482" stroke-width="6.0" stroke-linecap="round" stroke-linejoin="round"/><path d="M546.0,277.0 C544.7,277.3 540.0,277.3 538.0,279.0 C536.0,280.7 534.3,284.5 534.0,287.0 C533.7,289.5 534.0,292.8 536.0,294.0 C538.0,295.2 544.3,294.0 546.0,294.0" fill="none" stroke="#1c5fc4" stroke-width="4.4" stroke-linecap="round" stroke-linejoin="round"/><path d="M546.0,277.0 C544.7,277.3 540.0,277.3 538.0,279.0 C536.0,280.7 534.3,284.5 534.0,287.0 C533.7,289.5 534.0,292.8 536.0,294.0 C538.0,295.2 544.3,294.0 546.0,294.0" fill="none" stroke="#1447a6" stroke-width="1.8" stroke-linecap="round" stroke-linejoin="round" opacity="0.55" transform="translate(0.9,0.4)"/><path d="M546.0,277.0 C544.7,277.3 540.0,277.3 538.0,279.0 C536.0,280.7 534.3,284.5 534.0,287.0 C533.7,289.5 534.0,292.8 536.0,294.0 C538.0,295.2 544.3,294.0 546.0,294.0" fill="none" stroke="#62a8ee" stroke-width="1.1" stroke-linecap="round" stroke-linejoin="round" opacity="0.7" transform="translate(-0.7,-0.4)"/></g>
<path d="M640.5,113.3 L640.5,114.1 L640.6,115.1 L640.7,116.1 L640.8,117.3 L640.9,118.7 L640.9,120.1 L641.0,121.6 L641.1,123.1 L641.4,124.7 L641.6,126.3 L641.8,128.1 L641.9,130.2 L642.0,132.4 L642.0,134.8 L642.1,137.3 L642.1,139.9 L642.2,142.4 L642.4,144.9 L642.6,147.3 L642.9,149.5 L643.4,151.7 L644.0,153.7 L644.6,155.6 L645.3,157.4 L646.0,159.1 L646.7,160.7 L647.3,162.3 L647.9,163.8 L648.5,165.3 L648.9,166.8 L649.3,168.4 L649.7,170.1 L650.1,171.8 L650.5,173.5 L650.8,175.2 L651.1,176.8 L651.3,178.4 L651.5,179.8 L651.6,181.2 L651.6,182.5 L651.6,183.6 L651.4,184.7 L651.3,185.6 L651.1,186.6 L650.8,187.4 L650.5,188.3 L650.1,189.2 L649.7,190.1 L649.3,191.0 L648.8,191.9 L648.3,192.7 L647.7,193.6 L647.0,194.4 L646.3,195.3 L645.5,196.2 L644.7,197.1 L643.8,198.0 L643.0,199.0 L642.1,199.9 L641.4,200.8 L640.7,201.6 L640.1,202.3 L639.4,203.0 L638.7,203.7 L637.9,204.5 L637.2,205.3 L636.5,206.2 L635.8,207.2 L635.1,208.3 L634.6,209.5 L634.2,210.7 L633.9,211.9 L633.7,213.2 L633.6,214.4 L633.5,215.6 L633.5,216.8 L633.5,218.0 L633.5,219.2 L633.6,220.5 L633.6,221.7 L633.6,223.0 L633.7,224.4 L633.7,225.9 L633.8,227.5 L633.9,229.1 L634.1,230.7 L634.3,232.2 L634.6,233.8 L634.9,235.3 L635.4,236.8 L636.1,238.2 L636.9,239.4 L637.8,240.5 L638.8,241.4 L639.7,242.2 L640.5,243.0 L641.3,243.6 L641.9,244.2 L642.4,244.7 L642.8,245.2 L643.2,245.8 L643.6,246.5 L643.9,247.1 L644.3,247.7 L644.5,248.3 L644.8,248.9 L645.0,249.5 L645.1,250.0 L645.2,250.6 L645.3,251.3 L645.4,252.0 L645.4,252.8 L645.3,253.6 L645.2,254.5 L645.1,255.4 L644.9,256.3 L644.7,257.2 L644.5,258.0 L644.3,258.8 L644.0,259.4 L643.9,259.8 L643.6,260.1 L643.3,260.5 L642.8,261.0 L642.2,261.5 L641.6,262.1 L640.9,262.9 L640.2,263.8 L639.6,264.8 L639.1,266.0 L638.7,267.3 L638.6,268.5 L638.6,269.7 L638.6,270.8 L638.7,271.8 L638.8,272.8 L638.8,273.7 L638.8,274.6 L638.7,275.5 L638.6,276.4 L638.3,277.5 L638.0,278.7 L637.8,280.0 L637.4,281.2 L637.1,282.4 L636.7,283.6 L636.2,284.8 L635.7,285.8 L635.2,286.7 L634.6,287.5 L633.9,288.3 L633.1,289.0 L632.1,289.8 L631.0,290.5 L629.9,291.2 L628.6,291.9 L627.3,292.6 L626.0,293.3 L624.7,294.0 L623.5,294.7 L622.3,295.4 L621.1,296.0 L619.9,296.6 L618.6,297.2 L617.4,297.8 L616.2,298.4 L615.0,299.0 L613.9,299.5 L612.9,300.0 L612.0,300.5 L611.2,300.9 L610.5,301.4 L609.9,301.8 L609.3,302.2 L608.9,302.5 L608.5,302.8 L608.2,303.1 L607.9,303.3 L607.8,303.4 L607.6,303.5 L611.4,308.5 L611.6,308.3 L611.9,308.1 L612.2,307.8 L612.4,307.6 L612.7,307.4 L613.0,307.2 L613.4,306.9 L613.8,306.6 L614.4,306.3 L615.0,305.9 L615.8,305.5 L616.7,305.0 L617.7,304.5 L618.9,304.0 L620.1,303.4 L621.4,302.8 L622.7,302.2 L624.0,301.5 L625.3,300.8 L626.5,300.1 L627.7,299.4 L629.0,298.8 L630.3,298.1 L631.6,297.3 L633.0,296.5 L634.4,295.7 L635.7,294.8 L637.0,293.8 L638.3,292.7 L639.4,291.5 L640.4,290.1 L641.2,288.7 L641.9,287.3 L642.5,285.8 L643.0,284.3 L643.4,282.9 L643.8,281.5 L644.1,280.1 L644.4,278.8 L644.6,277.6 L644.9,276.3 L645.0,274.9 L645.0,273.7 L644.9,272.5 L644.9,271.4 L644.8,270.5 L644.8,269.6 L644.8,268.9 L644.9,268.4 L644.9,268.0 L645.1,267.6 L645.3,267.3 L645.6,267.0 L646.0,266.5 L646.5,266.0 L647.1,265.4 L647.8,264.7 L648.5,263.9 L649.2,262.9 L649.8,261.8 L650.1,260.8 L650.5,259.7 L650.8,258.6 L651.0,257.5 L651.2,256.4 L651.4,255.2 L651.5,254.1 L651.5,252.9 L651.6,251.8 L651.5,250.7 L651.4,249.7 L651.2,248.7 L650.9,247.7 L650.6,246.8 L650.2,245.9 L649.8,245.0 L649.4,244.1 L648.9,243.3 L648.4,242.5 L647.8,241.6 L647.1,240.6 L646.2,239.7 L645.4,238.9 L644.5,238.2 L643.7,237.6 L643.0,236.9 L642.4,236.3 L641.9,235.7 L641.5,235.1 L641.2,234.4 L640.9,233.6 L640.6,232.5 L640.4,231.3 L640.2,230.0 L640.1,228.5 L640.0,227.1 L639.9,225.6 L639.9,224.2 L639.8,222.8 L639.8,221.5 L639.8,220.3 L639.7,219.1 L639.7,217.9 L639.7,216.9 L639.7,215.8 L639.8,214.9 L639.9,214.0 L640.0,213.2 L640.2,212.4 L640.4,211.7 L640.7,211.1 L641.0,210.5 L641.4,209.9 L641.9,209.3 L642.5,208.7 L643.1,208.0 L643.8,207.3 L644.6,206.5 L645.4,205.7 L646.1,204.8 L646.8,204.0 L647.6,203.1 L648.4,202.3 L649.2,201.3 L650.1,200.4 L651.0,199.4 L651.9,198.3 L652.7,197.2 L653.5,196.1 L654.2,194.9 L654.8,193.8 L655.3,192.7 L655.8,191.7 L656.3,190.5 L656.7,189.3 L657.1,188.1 L657.4,186.8 L657.6,185.5 L657.7,184.0 L657.8,182.5 L657.8,180.9 L657.7,179.3 L657.5,177.6 L657.2,175.8 L656.9,174.1 L656.6,172.3 L656.2,170.5 L655.8,168.7 L655.3,166.9 L654.9,165.2 L654.4,163.4 L653.7,161.6 L653.1,160.0 L652.4,158.3 L651.7,156.7 L651.1,155.1 L650.4,153.5 L649.9,151.9 L649.4,150.2 L649.1,148.5 L648.8,146.5 L648.6,144.4 L648.4,142.1 L648.3,139.7 L648.3,137.2 L648.2,134.7 L648.2,132.3 L648.1,129.9 L648.0,127.7 L647.8,125.7 L647.5,123.8 L647.2,122.0 L646.7,120.3 L646.1,118.8 L645.5,117.5 L644.9,116.2 L644.3,115.1 L643.9,114.2 L643.4,113.3 L643.1,112.7 Z" fill="#0f3482" stroke="#0f3482" stroke-width="0.4" stroke-linejoin="round"/><path d="M641.2,113.1 L641.3,113.9 L641.4,114.8 L641.5,115.9 L641.5,117.1 L641.6,118.5 L641.7,119.9 L641.8,121.4 L641.9,123.0 L642.2,124.6 L642.4,126.3 L642.6,128.1 L642.7,130.2 L642.8,132.4 L642.8,134.8 L642.9,137.3 L642.9,139.8 L643.0,142.3 L643.2,144.8 L643.4,147.2 L643.7,149.4 L644.2,151.5 L644.7,153.5 L645.4,155.3 L646.0,157.1 L646.7,158.8 L647.4,160.4 L648.1,162.0 L648.7,163.5 L649.2,165.1 L649.7,166.6 L650.1,168.3 L650.5,170.0 L650.9,171.7 L651.3,173.4 L651.6,175.0 L651.9,176.7 L652.1,178.3 L652.3,179.8 L652.4,181.2 L652.4,182.5 L652.3,183.7 L652.2,184.8 L652.1,185.8 L651.8,186.8 L651.6,187.7 L651.2,188.6 L650.9,189.5 L650.5,190.4 L650.0,191.3 L649.5,192.3 L649.0,193.2 L648.4,194.0 L647.7,194.9 L646.9,195.8 L646.1,196.8 L645.3,197.7 L644.4,198.6 L643.6,199.5 L642.8,200.4 L642.0,201.3 L641.3,202.1 L640.6,202.8 L639.9,203.5 L639.2,204.3 L638.5,205.0 L637.8,205.8 L637.1,206.7 L636.4,207.6 L635.8,208.7 L635.4,209.8 L635.0,210.9 L634.7,212.1 L634.5,213.3 L634.4,214.4 L634.3,215.6 L634.3,216.8 L634.3,218.0 L634.3,219.2 L634.4,220.4 L634.4,221.7 L634.4,223.0 L634.5,224.4 L634.5,225.9 L634.6,227.4 L634.7,229.0 L634.9,230.6 L635.1,232.1 L635.3,233.6 L635.7,235.1 L636.2,236.5 L636.8,237.8 L637.6,238.9 L638.4,240.0 L639.3,240.8 L640.2,241.6 L641.0,242.3 L641.8,243.0 L642.5,243.6 L643.0,244.1 L643.4,244.7 L643.8,245.4 L644.3,246.1 L644.6,246.7 L645.0,247.4 L645.3,248.0 L645.5,248.6 L645.7,249.2 L645.9,249.9 L646.0,250.5 L646.1,251.2 L646.2,252.0 L646.1,252.8 L646.1,253.7 L646.0,254.6 L645.9,255.5 L645.7,256.4 L645.5,257.4 L645.3,258.2 L645.0,259.0 L644.8,259.7 L644.5,260.2 L644.2,260.6 L643.8,261.1 L643.4,261.6 L642.8,262.1 L642.2,262.7 L641.5,263.4 L640.9,264.2 L640.3,265.2 L639.8,266.3 L639.5,267.4 L639.4,268.6 L639.4,269.7 L639.4,270.7 L639.5,271.8 L639.5,272.8 L639.6,273.7 L639.6,274.7 L639.5,275.6 L639.3,276.6 L639.1,277.7 L638.8,278.9 L638.5,280.2 L638.2,281.4 L637.8,282.7 L637.4,283.9 L636.9,285.1 L636.4,286.2 L635.9,287.2 L635.2,288.0 L634.5,288.8 L633.6,289.6 L632.6,290.4 L631.5,291.2 L630.3,291.9 L629.0,292.6 L627.7,293.3 L626.4,294.0 L625.1,294.7 L623.9,295.4 L622.7,296.1 L621.5,296.7 L620.2,297.3 L619.0,297.9 L617.8,298.5 L616.5,299.1 L615.4,299.7 L614.3,300.2 L613.3,300.7 L612.4,301.2 L611.6,301.6 L610.9,302.1 L610.3,302.4 L609.8,302.8 L609.4,303.1 L609.0,303.4 L608.7,303.7 L608.5,303.9 L608.3,304.0 L608.1,304.2 L610.9,307.8 L611.1,307.7 L611.4,307.4 L611.6,307.2 L611.9,307.0 L612.2,306.8 L612.5,306.5 L612.9,306.2 L613.4,305.9 L614.0,305.6 L614.6,305.2 L615.4,304.8 L616.3,304.3 L617.4,303.8 L618.5,303.3 L619.7,302.7 L621.0,302.1 L622.3,301.4 L623.6,300.8 L624.9,300.1 L626.1,299.4 L627.3,298.7 L628.6,298.1 L629.9,297.4 L631.2,296.6 L632.6,295.9 L633.9,295.0 L635.3,294.1 L636.5,293.2 L637.7,292.1 L638.8,291.0 L639.7,289.7 L640.5,288.3 L641.2,286.9 L641.7,285.5 L642.2,284.1 L642.6,282.7 L643.0,281.3 L643.3,279.9 L643.6,278.7 L643.9,277.4 L644.1,276.2 L644.2,274.9 L644.2,273.7 L644.1,272.5 L644.1,271.5 L644.0,270.5 L644.0,269.6 L644.0,268.9 L644.1,268.2 L644.2,267.7 L644.4,267.3 L644.6,266.9 L645.0,266.4 L645.4,266.0 L646.0,265.4 L646.6,264.9 L647.2,264.2 L647.9,263.4 L648.5,262.5 L649.0,261.5 L649.4,260.5 L649.7,259.5 L650.0,258.4 L650.2,257.3 L650.4,256.2 L650.6,255.1 L650.7,254.0 L650.7,252.9 L650.8,251.8 L650.7,250.8 L650.6,249.8 L650.4,248.8 L650.1,247.9 L649.8,247.0 L649.5,246.2 L649.1,245.3 L648.7,244.5 L648.2,243.7 L647.7,242.9 L647.2,242.1 L646.5,241.2 L645.7,240.3 L644.8,239.5 L644.0,238.8 L643.2,238.2 L642.5,237.5 L641.8,236.8 L641.3,236.2 L640.8,235.5 L640.4,234.7 L640.1,233.8 L639.8,232.7 L639.6,231.4 L639.4,230.0 L639.3,228.6 L639.2,227.1 L639.1,225.7 L639.1,224.2 L639.0,222.8 L639.0,221.5 L639.0,220.3 L638.9,219.1 L638.9,217.9 L638.9,216.8 L638.9,215.8 L639.0,214.8 L639.1,213.9 L639.2,213.0 L639.4,212.2 L639.6,211.4 L640.0,210.7 L640.3,210.1 L640.8,209.5 L641.3,208.8 L641.9,208.2 L642.5,207.5 L643.2,206.8 L644.0,206.0 L644.8,205.2 L645.5,204.3 L646.2,203.4 L647.0,202.6 L647.8,201.7 L648.7,200.8 L649.5,199.8 L650.4,198.8 L651.3,197.8 L652.1,196.8 L652.8,195.6 L653.5,194.5 L654.1,193.4 L654.6,192.4 L655.1,191.3 L655.5,190.2 L655.9,189.1 L656.3,187.9 L656.6,186.7 L656.8,185.4 L656.9,184.0 L657.0,182.5 L657.0,181.0 L656.9,179.4 L656.7,177.7 L656.4,176.0 L656.1,174.2 L655.8,172.4 L655.4,170.7 L655.0,168.9 L654.6,167.1 L654.1,165.4 L653.6,163.6 L653.0,161.9 L652.3,160.3 L651.7,158.6 L651.0,157.0 L650.3,155.4 L649.7,153.8 L649.1,152.1 L648.7,150.4 L648.3,148.6 L648.0,146.6 L647.8,144.4 L647.6,142.1 L647.5,139.7 L647.5,137.2 L647.4,134.7 L647.4,132.3 L647.3,130.0 L647.2,127.8 L647.0,125.7 L646.7,123.9 L646.4,122.1 L646.0,120.5 L645.3,119.0 L644.7,117.7 L644.1,116.4 L643.6,115.3 L643.1,114.4 L642.7,113.5 L642.4,112.9 Z" fill="#1c5fc4"/><path d="M641.8,113.2 L642.0,113.9 L642.3,114.9 L642.6,115.9 L642.9,117.2 L643.2,118.5 L643.6,120.0 L643.9,121.5 L644.2,123.1 L644.5,124.7 L644.8,126.5 L644.9,128.4 L645.0,130.5 L645.1,132.7 L645.2,135.2 L645.2,137.6 L645.3,140.1 L645.4,142.6 L645.5,145.1 L645.7,147.4 L646.1,149.5 L646.5,151.5 L647.0,153.4 L647.6,155.2 L648.3,156.9 L649.0,158.6 L649.7,160.2 L650.3,161.8 L650.9,163.4 L651.5,165.0 L652.0,166.6 L652.4,168.3 L652.8,170.0 L653.2,171.7 L653.6,173.4 L653.9,175.2 L654.2,176.8 L654.5,178.5 L654.6,180.0 L654.7,181.5 L654.7,182.9 L654.7,184.1 L654.6,185.3 L654.4,186.4 L654.1,187.5 L653.8,188.5 L653.5,189.5 L653.1,190.4 L652.7,191.4 L652.2,192.4 L651.7,193.3 L651.1,194.3 L650.4,195.3 L649.7,196.2 L648.9,197.1 L648.1,198.1 L647.2,199.0 L646.4,199.9 L645.5,200.8 L644.7,201.7 L644.0,202.6 L643.3,203.4 L642.6,204.2 L641.9,204.9 L641.2,205.6 L640.5,206.4 L639.8,207.1 L639.1,207.9 L638.6,208.8 L638.0,209.7 L637.6,210.7 L637.3,211.7 L637.0,212.7 L636.8,213.8 L636.7,214.9 L636.7,216.0 L636.6,217.2 L636.6,218.4 L636.7,219.5 L636.7,220.8 L636.7,222.0 L636.8,223.3 L636.8,224.7 L636.9,226.2 L637.0,227.7 L637.1,229.2 L637.2,230.8 L637.4,232.3 L637.7,233.7 L638.0,235.0 L638.4,236.3 L639.0,237.4 L639.6,238.5 L640.4,239.4 L641.2,240.2 L642.1,240.9 L642.9,241.6 L643.7,242.3 L644.4,242.9 L645.0,243.6 L645.5,244.3 L646.0,245.0 L646.4,245.7 L646.8,246.4 L647.2,247.1 L647.5,247.8 L647.8,248.5 L648.0,249.2 L648.2,249.9 L648.4,250.7 L648.4,251.4 L648.5,252.3 L648.5,253.2 L648.4,254.1 L648.3,255.1 L648.2,256.1 L648.0,257.1 L647.8,258.1 L647.6,259.0 L647.3,259.8 L647.0,260.6 L646.7,261.3 L646.3,261.9 L645.8,262.4 L645.3,263.0 L644.7,263.5 L644.1,264.1 L643.5,264.7 L643.0,265.4 L642.5,266.2 L642.1,267.1 L641.9,268.1 L641.7,269.0 L641.7,270.0 L641.8,271.0 L641.8,272.0 L641.9,273.1 L641.9,274.1 L641.9,275.1 L641.8,276.1 L641.7,277.2 L641.4,278.3 L641.1,279.6 L640.8,280.9 L640.5,282.2 L640.1,283.5 L639.7,284.8 L639.2,286.0 L638.6,287.2 L638.0,288.3 L637.2,289.3 L636.4,290.2 L635.4,291.1 L634.3,291.9 L633.2,292.7 L631.9,293.5 L630.6,294.2 L629.3,294.9 L628.0,295.6 L626.7,296.3 L625.5,297.0 L624.3,297.7 L623.1,298.3 L621.8,299.0 L620.5,299.6 L619.3,300.2 L618.1,300.8 L616.9,301.3 L615.8,301.8 L614.9,302.3 L614.0,302.8 L613.3,303.2 L612.6,303.6 L612.1,304.0 L611.6,304.3 L611.2,304.6 L610.8,304.9 L610.5,305.2 L610.3,305.4 L610.1,305.5 L609.9,305.7 L610.9,307.1 L611.2,306.9 L611.4,306.7 L611.7,306.5 L611.9,306.3 L612.2,306.0 L612.6,305.7 L613.0,305.4 L613.5,305.1 L614.1,304.7 L614.8,304.3 L615.7,303.9 L616.6,303.4 L617.7,302.9 L618.8,302.4 L620.0,301.8 L621.3,301.2 L622.6,300.5 L623.9,299.9 L625.1,299.2 L626.3,298.5 L627.6,297.8 L628.8,297.2 L630.1,296.5 L631.5,295.7 L632.8,295.0 L634.1,294.2 L635.4,293.4 L636.5,292.5 L637.6,291.5 L638.6,290.4 L639.4,289.3 L640.2,288.0 L640.8,286.7 L641.3,285.4 L641.8,284.0 L642.2,282.6 L642.5,281.3 L642.8,280.0 L643.1,278.7 L643.4,277.5 L643.6,276.4 L643.7,275.2 L643.7,274.1 L643.6,273.0 L643.6,271.9 L643.5,270.9 L643.5,270.0 L643.5,269.2 L643.6,268.4 L643.8,267.6 L644.0,267.0 L644.4,266.4 L644.8,265.9 L645.3,265.3 L645.9,264.8 L646.5,264.2 L647.1,263.6 L647.7,262.9 L648.2,262.2 L648.6,261.3 L649.0,260.4 L649.3,259.5 L649.5,258.5 L649.7,257.4 L649.9,256.4 L650.1,255.3 L650.2,254.3 L650.2,253.2 L650.2,252.2 L650.2,251.3 L650.1,250.4 L649.9,249.5 L649.7,248.7 L649.4,247.9 L649.1,247.1 L648.7,246.3 L648.3,245.6 L647.9,244.8 L647.4,244.1 L646.9,243.3 L646.3,242.5 L645.6,241.7 L644.8,241.0 L644.0,240.3 L643.2,239.6 L642.4,238.9 L641.7,238.2 L641.0,237.4 L640.5,236.6 L640.0,235.6 L639.7,234.6 L639.4,233.3 L639.1,232.0 L638.9,230.6 L638.8,229.1 L638.7,227.6 L638.6,226.1 L638.6,224.6 L638.5,223.2 L638.5,221.9 L638.5,220.7 L638.4,219.5 L638.4,218.3 L638.4,217.2 L638.4,216.1 L638.5,215.1 L638.6,214.1 L638.7,213.1 L638.9,212.2 L639.2,211.3 L639.6,210.5 L640.0,209.7 L640.5,209.0 L641.1,208.3 L641.8,207.6 L642.4,206.9 L643.1,206.1 L643.9,205.4 L644.6,204.6 L645.3,203.7 L646.1,202.9 L646.8,202.0 L647.7,201.1 L648.5,200.2 L649.4,199.2 L650.2,198.3 L651.1,197.3 L651.8,196.3 L652.6,195.2 L653.2,194.2 L653.7,193.2 L654.2,192.2 L654.7,191.1 L655.1,190.1 L655.5,189.0 L655.8,187.9 L656.1,186.8 L656.3,185.5 L656.4,184.3 L656.5,182.9 L656.5,181.4 L656.4,179.9 L656.2,178.2 L655.9,176.6 L655.6,174.8 L655.3,173.1 L654.9,171.3 L654.5,169.6 L654.1,167.9 L653.7,166.1 L653.2,164.4 L652.6,162.8 L651.9,161.2 L651.3,159.6 L650.6,157.9 L649.9,156.3 L649.3,154.6 L648.7,152.9 L648.2,151.1 L647.8,149.2 L647.5,147.2 L647.3,144.9 L647.1,142.5 L647.0,140.1 L647.0,137.6 L646.9,135.1 L646.9,132.7 L646.8,130.4 L646.7,128.2 L646.5,126.3 L646.2,124.5 L646.0,122.7 L645.5,121.1 L644.9,119.5 L644.4,118.1 L643.8,116.8 L643.3,115.7 L642.9,114.6 L642.5,113.8 L642.2,113.0 Z" fill="#1447a6" opacity="0.55"/><path d="M641.5,112.9 L641.6,113.6 L641.7,114.5 L641.9,115.5 L642.1,116.6 L642.2,117.9 L642.4,119.2 L642.6,120.7 L642.8,122.3 L643.1,124.0 L643.3,125.7 L643.5,127.6 L643.6,129.7 L643.7,132.0 L643.8,134.4 L643.8,136.9 L643.9,139.4 L644.0,141.9 L644.1,144.3 L644.3,146.6 L644.7,148.7 L645.1,150.7 L645.6,152.6 L646.2,154.4 L646.9,156.1 L647.5,157.8 L648.2,159.4 L648.9,161.0 L649.5,162.6 L650.1,164.2 L650.6,165.8 L651.0,167.5 L651.4,169.2 L651.8,170.9 L652.2,172.7 L652.5,174.4 L652.8,176.0 L653.0,177.7 L653.2,179.2 L653.3,180.7 L653.3,182.1 L653.3,183.4 L653.2,184.6 L653.0,185.8 L652.7,186.8 L652.4,187.8 L652.1,188.8 L651.7,189.8 L651.2,190.8 L650.7,191.8 L650.2,192.8 L649.6,193.7 L649.0,194.7 L648.2,195.7 L647.4,196.6 L646.6,197.5 L645.8,198.5 L644.9,199.4 L644.1,200.3 L643.3,201.2 L642.5,202.1 L641.8,202.9 L641.1,203.6 L640.4,204.4 L639.7,205.1 L639.0,205.8 L638.3,206.6 L637.7,207.4 L637.1,208.2 L636.6,209.1 L636.2,210.0 L635.9,211.0 L635.6,212.1 L635.4,213.1 L635.3,214.2 L635.3,215.3 L635.2,216.5 L635.2,217.6 L635.3,218.8 L635.3,220.0 L635.3,221.3 L635.4,222.6 L635.4,224.0 L635.5,225.4 L635.6,226.9 L635.7,228.5 L635.8,230.0 L636.0,231.5 L636.3,232.9 L636.6,234.2 L637.0,235.4 L637.5,236.5 L638.2,237.5 L638.9,238.4 L639.7,239.2 L640.5,240.0 L641.4,240.7 L642.2,241.3 L642.9,242.0 L643.5,242.7 L644.0,243.4 L644.5,244.1 L645.0,244.8 L645.4,245.5 L645.7,246.2 L646.1,246.9 L646.4,247.7 L646.6,248.4 L646.8,249.1 L646.9,249.9 L647.0,250.7 L647.1,251.5 L647.1,252.5 L647.0,253.4 L646.9,254.4 L646.8,255.4 L646.6,256.4 L646.4,257.4 L646.2,258.3 L645.9,259.2 L645.6,260.0 L645.2,260.7 L644.8,261.3 L644.3,261.9 L643.8,262.4 L643.2,263.0 L642.6,263.6 L642.0,264.2 L641.5,264.8 L641.0,265.6 L640.7,266.5 L640.4,267.4 L640.3,268.3 L640.3,269.3 L640.4,270.3 L640.4,271.3 L640.5,272.3 L640.5,273.3 L640.5,274.4 L640.4,275.4 L640.3,276.5 L640.0,277.7 L639.7,278.9 L639.4,280.2 L639.1,281.5 L638.7,282.8 L638.3,284.1 L637.7,285.4 L637.2,286.6 L636.5,287.7 L635.8,288.8 L634.9,289.7 L633.9,290.6 L632.8,291.4 L631.6,292.2 L630.4,293.0 L629.1,293.7 L627.7,294.5 L626.4,295.2 L625.2,295.8 L623.9,296.5 L622.7,297.2 L621.5,297.9 L620.2,298.5 L619.0,299.1 L617.7,299.7 L616.5,300.3 L615.4,300.9 L614.3,301.4 L613.3,301.9 L612.4,302.3 L611.7,302.8 L611.1,303.1 L610.5,303.5 L610.0,303.8 L609.6,304.1 L609.3,304.4 L609.0,304.7 L608.8,304.9 L608.6,305.0 L608.4,305.2 L609.1,306.1 L609.3,305.9 L609.5,305.7 L609.8,305.5 L610.0,305.3 L610.4,305.0 L610.7,304.8 L611.2,304.5 L611.7,304.1 L612.3,303.7 L613.0,303.3 L613.8,302.9 L614.8,302.4 L615.9,301.9 L617.0,301.3 L618.2,300.8 L619.5,300.2 L620.8,299.5 L622.0,298.9 L623.3,298.2 L624.5,297.5 L625.7,296.9 L627.0,296.2 L628.3,295.5 L629.6,294.7 L630.9,294.0 L632.2,293.2 L633.5,292.4 L634.6,291.5 L635.7,290.5 L636.7,289.5 L637.5,288.4 L638.2,287.2 L638.8,285.9 L639.3,284.5 L639.8,283.2 L640.2,281.8 L640.5,280.5 L640.8,279.2 L641.1,277.9 L641.4,276.7 L641.6,275.6 L641.7,274.4 L641.7,273.3 L641.6,272.3 L641.6,271.2 L641.5,270.2 L641.5,269.3 L641.5,268.4 L641.6,267.6 L641.8,266.8 L642.1,266.1 L642.4,265.5 L642.9,264.9 L643.4,264.4 L644.0,263.8 L644.6,263.3 L645.2,262.7 L645.7,262.0 L646.2,261.3 L646.6,260.5 L647.0,259.6 L647.3,258.6 L647.5,257.7 L647.7,256.6 L647.9,255.6 L648.1,254.6 L648.2,253.5 L648.2,252.5 L648.2,251.5 L648.2,250.6 L648.1,249.7 L647.9,248.9 L647.7,248.0 L647.4,247.3 L647.1,246.5 L646.8,245.7 L646.4,245.0 L646.0,244.2 L645.5,243.5 L645.0,242.7 L644.4,241.9 L643.7,241.2 L642.9,240.5 L642.1,239.8 L641.3,239.1 L640.5,238.4 L639.8,237.6 L639.1,236.8 L638.5,236.0 L638.1,235.0 L637.7,233.9 L637.4,232.7 L637.1,231.3 L636.9,229.9 L636.8,228.4 L636.7,226.9 L636.6,225.4 L636.6,223.9 L636.5,222.5 L636.5,221.2 L636.5,220.0 L636.4,218.8 L636.4,217.6 L636.4,216.5 L636.4,215.4 L636.5,214.3 L636.6,213.3 L636.7,212.3 L637.0,211.3 L637.3,210.4 L637.6,209.6 L638.1,208.8 L638.6,208.1 L639.2,207.3 L639.8,206.6 L640.5,205.9 L641.2,205.2 L642.0,204.4 L642.7,203.6 L643.4,202.8 L644.1,201.9 L644.9,201.1 L645.7,200.2 L646.6,199.2 L647.5,198.3 L648.3,197.4 L649.1,196.4 L649.9,195.4 L650.6,194.4 L651.2,193.3 L651.8,192.3 L652.3,191.3 L652.7,190.3 L653.2,189.3 L653.5,188.2 L653.8,187.1 L654.1,186.0 L654.3,184.8 L654.4,183.5 L654.5,182.1 L654.5,180.7 L654.4,179.1 L654.2,177.5 L653.9,175.9 L653.7,174.2 L653.3,172.4 L652.9,170.7 L652.5,168.9 L652.1,167.2 L651.7,165.5 L651.2,163.8 L650.6,162.2 L650.0,160.5 L649.3,158.9 L648.6,157.3 L647.9,155.7 L647.3,154.0 L646.7,152.3 L646.2,150.4 L645.8,148.5 L645.5,146.5 L645.3,144.2 L645.1,141.8 L645.0,139.4 L645.0,136.9 L644.9,134.4 L644.9,132.0 L644.8,129.7 L644.7,127.5 L644.5,125.6 L644.2,123.8 L644.0,122.1 L643.7,120.5 L643.3,119.1 L643.0,117.7 L642.7,116.5 L642.4,115.4 L642.1,114.4 L641.9,113.6 L641.7,112.9 Z" fill="#62a8ee" opacity="0.7"/>
<g opacity="1.0"><path d="M637.5,210.6 C636.4,210.8 633.4,211.8 631.0,212.0 C628.6,212.2 626.0,211.4 623.4,212.0 C620.8,212.6 617.9,214.0 615.6,215.3 C613.3,216.6 611.2,218.2 609.4,220.0 C607.6,221.8 605.5,225.2 604.7,226.3" fill="none" stroke="#0f3482" stroke-width="7.6" stroke-linecap="round" stroke-linejoin="round"/><path d="M637.5,210.6 C636.4,210.8 633.4,211.8 631.0,212.0 C628.6,212.2 626.0,211.4 623.4,212.0 C620.8,212.6 617.9,214.0 615.6,215.3 C613.3,216.6 611.2,218.2 609.4,220.0 C607.6,221.8 605.5,225.2 604.7,226.3" fill="none" stroke="#1c5fc4" stroke-width="6.0" stroke-linecap="round" stroke-linejoin="round"/><path d="M637.5,210.6 C636.4,210.8 633.4,211.8 631.0,212.0 C628.6,212.2 626.0,211.4 623.4,212.0 C620.8,212.6 617.9,214.0 615.6,215.3 C613.3,216.6 611.2,218.2 609.4,220.0 C607.6,221.8 605.5,225.2 604.7,226.3" fill="none" stroke="#1447a6" stroke-width="2.4" stroke-linecap="round" stroke-linejoin="round" opacity="0.55" transform="translate(1.2,0.5)"/><path d="M637.5,210.6 C636.4,210.8 633.4,211.8 631.0,212.0 C628.6,212.2 626.0,211.4 623.4,212.0 C620.8,212.6 617.9,214.0 615.6,215.3 C613.3,216.6 611.2,218.2 609.4,220.0 C607.6,221.8 605.5,225.2 604.7,226.3" fill="none" stroke="#62a8ee" stroke-width="1.5" stroke-linecap="round" stroke-linejoin="round" opacity="0.7" transform="translate(-1.0,-0.5)"/></g>
<g opacity="1.0"><path d="M576.6,302.5 C579.5,303.3 588.8,306.4 593.8,307.2 C598.7,308.0 603.0,307.8 606.2,307.2 C609.5,306.6 611.9,304.1 613.0,303.5" fill="none" stroke="#0f3482" stroke-width="6.6" stroke-linecap="round" stroke-linejoin="round"/><path d="M576.6,302.5 C579.5,303.3 588.8,306.4 593.8,307.2 C598.7,308.0 603.0,307.8 606.2,307.2 C609.5,306.6 611.9,304.1 613.0,303.5" fill="none" stroke="#1c5fc4" stroke-width="5.0" stroke-linecap="round" stroke-linejoin="round"/><path d="M576.6,302.5 C579.5,303.3 588.8,306.4 593.8,307.2 C598.7,308.0 603.0,307.8 606.2,307.2 C609.5,306.6 611.9,304.1 613.0,303.5" fill="none" stroke="#1447a6" stroke-width="2.0" stroke-linecap="round" stroke-linejoin="round" opacity="0.55" transform="translate(1.0,0.4)"/><path d="M576.6,302.5 C579.5,303.3 588.8,306.4 593.8,307.2 C598.7,308.0 603.0,307.8 606.2,307.2 C609.5,306.6 611.9,304.1 613.0,303.5" fill="none" stroke="#62a8ee" stroke-width="1.2" stroke-linecap="round" stroke-linejoin="round" opacity="0.7" transform="translate(-0.9,-0.4)"/></g>
<g opacity="1.0"><path d="M609.5,305.2 C609.1,307.3 607.6,314.5 607.0,318.0 C606.4,321.5 606.6,322.5 606.0,326.0 C605.4,329.5 604.5,334.7 603.4,339.0 C602.3,343.3 601.2,348.5 599.5,352.0 C597.8,355.5 595.8,357.6 593.0,360.0 C590.2,362.4 585.4,364.7 582.6,366.4 C579.8,368.1 577.8,368.6 576.0,370.4 C574.2,372.1 573.7,374.5 572.0,376.9 C570.3,379.3 568.0,382.5 565.6,384.7 C563.2,386.9 560.4,388.7 557.8,390.0 C555.2,391.3 553.0,391.8 550.0,392.5 C547.0,393.2 544.0,394.4 540.0,394.5 C536.0,394.6 528.3,393.2 526.0,393.0" fill="none" stroke="#0f3482" stroke-width="7.4" stroke-linecap="round" stroke-linejoin="round"/><path d="M609.5,305.2 C609.1,307.3 607.6,314.5 607.0,318.0 C606.4,321.5 606.6,322.5 606.0,326.0 C605.4,329.5 604.5,334.7 603.4,339.0 C602.3,343.3 601.2,348.5 599.5,352.0 C597.8,355.5 595.8,357.6 593.0,360.0 C590.2,362.4 585.4,364.7 582.6,366.4 C579.8,368.1 577.8,368.6 576.0,370.4 C574.2,372.1 573.7,374.5 572.0,376.9 C570.3,379.3 568.0,382.5 565.6,384.7 C563.2,386.9 560.4,388.7 557.8,390.0 C555.2,391.3 553.0,391.8 550.0,392.5 C547.0,393.2 544.0,394.4 540.0,394.5 C536.0,394.6 528.3,393.2 526.0,393.0" fill="none" stroke="#1c5fc4" stroke-width="5.8" stroke-linecap="round" stroke-linejoin="round"/><path d="M609.5,305.2 C609.1,307.3 607.6,314.5 607.0,318.0 C606.4,321.5 606.6,322.5 606.0,326.0 C605.4,329.5 604.5,334.7 603.4,339.0 C602.3,343.3 601.2,348.5 599.5,352.0 C597.8,355.5 595.8,357.6 593.0,360.0 C590.2,362.4 585.4,364.7 582.6,366.4 C579.8,368.1 577.8,368.6 576.0,370.4 C574.2,372.1 573.7,374.5 572.0,376.9 C570.3,379.3 568.0,382.5 565.6,384.7 C563.2,386.9 560.4,388.7 557.8,390.0 C555.2,391.3 553.0,391.8 550.0,392.5 C547.0,393.2 544.0,394.4 540.0,394.5 C536.0,394.6 528.3,393.2 526.0,393.0" fill="none" stroke="#1447a6" stroke-width="2.3" stroke-linecap="round" stroke-linejoin="round" opacity="0.55" transform="translate(1.2,0.5)"/><path d="M609.5,305.2 C609.1,307.3 607.6,314.5 607.0,318.0 C606.4,321.5 606.6,322.5 606.0,326.0 C605.4,329.5 604.5,334.7 603.4,339.0 C602.3,343.3 601.2,348.5 599.5,352.0 C597.8,355.5 595.8,357.6 593.0,360.0 C590.2,362.4 585.4,364.7 582.6,366.4 C579.8,368.1 577.8,368.6 576.0,370.4 C574.2,372.1 573.7,374.5 572.0,376.9 C570.3,379.3 568.0,382.5 565.6,384.7 C563.2,386.9 560.4,388.7 557.8,390.0 C555.2,391.3 553.0,391.8 550.0,392.5 C547.0,393.2 544.0,394.4 540.0,394.5 C536.0,394.6 528.3,393.2 526.0,393.0" fill="none" stroke="#62a8ee" stroke-width="1.4" stroke-linecap="round" stroke-linejoin="round" opacity="0.7" transform="translate(-1.0,-0.5)"/></g>
<g opacity="1.0"><path d="M526.0,393.0 C524.8,394.3 520.9,397.9 519.0,401.0 C517.1,404.1 515.8,408.5 514.8,411.7 C513.8,414.9 513.1,418.6 512.7,420.0" fill="none" stroke="#0f3482" stroke-width="7.6" stroke-linecap="round" stroke-linejoin="round"/><path d="M526.0,393.0 C524.8,394.3 520.9,397.9 519.0,401.0 C517.1,404.1 515.8,408.5 514.8,411.7 C513.8,414.9 513.1,418.6 512.7,420.0" fill="none" stroke="#1c5fc4" stroke-width="6.0" stroke-linecap="round" stroke-linejoin="round"/><path d="M526.0,393.0 C524.8,394.3 520.9,397.9 519.0,401.0 C517.1,404.1 515.8,408.5 514.8,411.7 C513.8,414.9 513.1,418.6 512.7,420.0" fill="none" stroke="#1447a6" stroke-width="2.4" stroke-linecap="round" stroke-linejoin="round" opacity="0.55" transform="translate(1.2,0.5)"/><path d="M526.0,393.0 C524.8,394.3 520.9,397.9 519.0,401.0 C517.1,404.1 515.8,408.5 514.8,411.7 C513.8,414.9 513.1,418.6 512.7,420.0" fill="none" stroke="#62a8ee" stroke-width="1.5" stroke-linecap="round" stroke-linejoin="round" opacity="0.7" transform="translate(-1.0,-0.5)"/></g>
<path d="M384.1,192.4 L383.9,192.8 L383.6,193.4 L383.3,194.0 L382.9,194.7 L382.5,195.4 L382.1,196.3 L381.7,197.1 L381.3,198.1 L380.9,199.0 L380.4,200.0 L380.1,201.0 L379.9,202.2 L379.7,203.3 L379.5,204.5 L379.3,205.7 L379.1,206.9 L378.9,208.1 L378.7,209.2 L378.5,210.3 L378.2,211.3 L378.0,212.2 L377.7,213.2 L377.4,214.1 L377.2,215.1 L376.9,216.0 L376.6,216.8 L376.2,217.7 L375.9,218.5 L375.6,219.4 L375.2,220.2 L374.8,221.0 L374.4,221.7 L373.9,222.5 L373.5,223.3 L373.0,224.1 L372.4,224.9 L371.9,225.7 L371.4,226.6 L370.8,227.4 L370.3,228.2 L369.9,229.0 L369.4,229.8 L368.9,230.6 L368.5,231.3 L368.0,232.1 L367.6,232.8 L367.2,233.5 L366.8,234.2 L366.4,234.9 L366.0,235.5 L365.7,236.1 L365.4,236.6 L365.2,237.1 L364.9,237.6 L364.7,238.1 L364.5,238.5 L364.3,238.8 L364.2,239.2 L364.0,239.4 L363.9,239.6 L369.5,242.4 L369.6,242.2 L369.7,241.9 L369.9,241.5 L370.1,241.2 L370.2,240.8 L370.4,240.4 L370.7,240.0 L370.9,239.5 L371.2,239.0 L371.5,238.5 L371.8,238.0 L372.1,237.3 L372.5,236.7 L372.9,236.0 L373.4,235.3 L373.8,234.5 L374.3,233.7 L374.7,233.0 L375.2,232.2 L375.7,231.4 L376.1,230.7 L376.6,229.9 L377.1,229.1 L377.6,228.3 L378.2,227.5 L378.7,226.6 L379.3,225.7 L379.8,224.8 L380.3,223.8 L380.8,222.8 L381.2,221.8 L381.7,220.9 L382.0,219.9 L382.4,218.9 L382.7,217.9 L383.1,216.9 L383.4,215.9 L383.7,214.9 L384.0,213.8 L384.3,212.7 L384.5,211.6 L384.8,210.4 L385.0,209.1 L385.2,207.9 L385.4,206.7 L385.6,205.5 L385.8,204.3 L386.0,203.2 L386.1,202.2 L386.2,201.2 L386.2,200.3 L386.2,199.3 L386.3,198.4 L386.3,197.4 L386.4,196.5 L386.5,195.7 L386.6,194.9 L386.6,194.2 L386.7,193.6 L386.7,193.2 Z" fill="#0f3482" stroke="#0f3482" stroke-width="0.4" stroke-linejoin="round"/><path d="M384.8,192.6 L384.6,193.1 L384.4,193.6 L384.1,194.2 L383.7,194.9 L383.3,195.7 L382.9,196.5 L382.5,197.4 L382.1,198.3 L381.6,199.2 L381.2,200.2 L380.8,201.2 L380.6,202.3 L380.4,203.4 L380.3,204.6 L380.1,205.8 L379.9,207.0 L379.7,208.2 L379.5,209.3 L379.3,210.4 L379.0,211.4 L378.8,212.4 L378.5,213.4 L378.2,214.4 L377.9,215.3 L377.6,216.2 L377.3,217.1 L377.0,218.0 L376.7,218.8 L376.3,219.7 L375.9,220.5 L375.5,221.3 L375.1,222.1 L374.6,222.9 L374.1,223.7 L373.6,224.6 L373.1,225.4 L372.6,226.2 L372.0,227.0 L371.5,227.8 L371.0,228.6 L370.6,229.4 L370.1,230.2 L369.6,231.0 L369.2,231.7 L368.7,232.5 L368.3,233.2 L367.9,233.9 L367.5,234.6 L367.1,235.3 L366.7,235.9 L366.4,236.4 L366.1,237.0 L365.9,237.5 L365.6,238.0 L365.4,238.4 L365.2,238.8 L365.0,239.2 L364.9,239.5 L364.8,239.8 L364.6,240.0 L368.8,242.0 L368.9,241.8 L369.0,241.5 L369.2,241.2 L369.3,240.9 L369.5,240.5 L369.7,240.1 L370.0,239.6 L370.2,239.1 L370.5,238.6 L370.8,238.1 L371.1,237.6 L371.4,236.9 L371.8,236.3 L372.2,235.6 L372.7,234.8 L373.1,234.1 L373.6,233.3 L374.0,232.5 L374.5,231.8 L375.0,231.0 L375.4,230.2 L375.9,229.5 L376.4,228.7 L377.0,227.9 L377.5,227.0 L378.0,226.2 L378.6,225.3 L379.1,224.4 L379.6,223.4 L380.1,222.5 L380.5,221.5 L380.9,220.6 L381.3,219.6 L381.6,218.7 L382.0,217.7 L382.3,216.7 L382.6,215.7 L382.9,214.7 L383.2,213.6 L383.5,212.6 L383.7,211.4 L384.0,210.2 L384.2,209.0 L384.4,207.8 L384.6,206.6 L384.8,205.3 L385.0,204.2 L385.2,203.1 L385.4,202.0 L385.4,201.0 L385.4,200.1 L385.4,199.1 L385.5,198.1 L385.6,197.2 L385.6,196.3 L385.7,195.5 L385.8,194.7 L385.9,194.0 L385.9,193.4 L386.0,193.0 Z" fill="#1c5fc4"/><path d="M385.4,192.9 L385.3,193.3 L385.1,193.9 L384.9,194.5 L384.7,195.3 L384.5,196.1 L384.3,197.0 L384.0,197.9 L383.8,198.9 L383.6,199.8 L383.3,200.8 L383.2,201.8 L383.0,202.9 L382.8,204.0 L382.6,205.2 L382.4,206.4 L382.2,207.6 L382.0,208.8 L381.8,210.0 L381.6,211.1 L381.3,212.2 L381.1,213.2 L380.8,214.2 L380.5,215.1 L380.2,216.1 L379.9,217.0 L379.6,217.9 L379.2,218.9 L378.9,219.7 L378.5,220.6 L378.1,221.5 L377.7,222.4 L377.3,223.2 L376.8,224.0 L376.3,224.9 L375.7,225.7 L375.2,226.5 L374.7,227.3 L374.2,228.1 L373.7,228.9 L373.2,229.7 L372.7,230.5 L372.2,231.3 L371.8,232.1 L371.3,232.8 L370.9,233.6 L370.4,234.3 L370.0,235.0 L369.6,235.7 L369.2,236.3 L368.9,236.9 L368.6,237.5 L368.3,238.0 L368.1,238.5 L367.8,239.0 L367.6,239.4 L367.4,239.8 L367.2,240.2 L367.1,240.5 L366.9,240.8 L366.8,241.0 L368.4,241.8 L368.5,241.5 L368.6,241.3 L368.8,240.9 L369.0,240.6 L369.2,240.2 L369.4,239.8 L369.6,239.3 L369.9,238.8 L370.1,238.3 L370.4,237.8 L370.8,237.2 L371.1,236.6 L371.5,235.9 L371.9,235.2 L372.4,234.5 L372.8,233.7 L373.3,233.0 L373.7,232.2 L374.2,231.4 L374.7,230.6 L375.1,229.9 L375.6,229.1 L376.2,228.3 L376.7,227.5 L377.2,226.6 L377.8,225.8 L378.3,224.9 L378.8,224.0 L379.3,223.2 L379.7,222.2 L380.1,221.3 L380.5,220.4 L380.9,219.5 L381.2,218.5 L381.6,217.6 L381.9,216.6 L382.2,215.6 L382.5,214.6 L382.7,213.6 L383.0,212.6 L383.3,211.5 L383.5,210.3 L383.7,209.1 L383.9,207.9 L384.1,206.7 L384.3,205.5 L384.5,204.3 L384.7,203.2 L384.9,202.1 L384.9,201.0 L385.0,200.1 L385.1,199.1 L385.2,198.1 L385.3,197.2 L385.4,196.3 L385.5,195.4 L385.6,194.7 L385.7,194.0 L385.8,193.4 L385.8,192.9 Z" fill="#1447a6" opacity="0.55"/><path d="M385.1,192.7 L384.9,193.1 L384.7,193.6 L384.4,194.2 L384.1,194.9 L383.8,195.7 L383.4,196.5 L383.1,197.4 L382.7,198.3 L382.4,199.2 L382.1,200.1 L381.8,201.1 L381.6,202.2 L381.4,203.4 L381.2,204.5 L381.0,205.7 L380.8,206.9 L380.6,208.1 L380.4,209.3 L380.2,210.4 L379.9,211.5 L379.6,212.5 L379.4,213.5 L379.1,214.5 L378.8,215.5 L378.5,216.4 L378.2,217.3 L377.8,218.2 L377.5,219.1 L377.1,220.0 L376.7,220.9 L376.3,221.8 L375.8,222.6 L375.3,223.5 L374.8,224.3 L374.3,225.1 L373.8,225.9 L373.2,226.7 L372.7,227.6 L372.2,228.3 L371.7,229.1 L371.3,229.9 L370.8,230.7 L370.3,231.5 L369.9,232.3 L369.4,233.0 L369.0,233.7 L368.6,234.5 L368.2,235.1 L367.8,235.8 L367.5,236.4 L367.2,236.9 L366.9,237.4 L366.6,237.9 L366.4,238.4 L366.2,238.8 L366.0,239.2 L365.8,239.6 L365.6,239.9 L365.5,240.2 L365.4,240.4 L366.4,240.9 L366.5,240.7 L366.7,240.4 L366.8,240.1 L367.0,239.7 L367.2,239.3 L367.4,238.9 L367.6,238.5 L367.9,238.0 L368.2,237.5 L368.5,236.9 L368.8,236.3 L369.2,235.7 L369.6,235.0 L370.0,234.3 L370.4,233.6 L370.9,232.8 L371.3,232.1 L371.8,231.3 L372.2,230.5 L372.7,229.7 L373.2,229.0 L373.7,228.2 L374.2,227.4 L374.7,226.6 L375.3,225.7 L375.8,224.9 L376.3,224.0 L376.8,223.2 L377.3,222.3 L377.7,221.4 L378.1,220.5 L378.5,219.6 L378.9,218.6 L379.2,217.7 L379.6,216.8 L379.9,215.8 L380.2,214.8 L380.5,213.8 L380.8,212.8 L381.0,211.8 L381.3,210.7 L381.5,209.5 L381.7,208.3 L381.9,207.1 L382.1,205.9 L382.3,204.7 L382.5,203.5 L382.7,202.4 L382.9,201.4 L383.1,200.4 L383.3,199.5 L383.6,198.5 L383.8,197.6 L384.1,196.7 L384.4,195.9 L384.6,195.1 L384.8,194.4 L385.0,193.7 L385.2,193.2 L385.3,192.8 Z" fill="#62a8ee" opacity="0.7"/>
<path d="M354.9,206.1 L354.9,206.7 L354.9,207.5 L354.9,208.5 L354.9,209.6 L354.9,210.8 L354.9,212.0 L354.9,213.3 L355.0,214.5 L355.1,215.6 L355.3,216.7 L355.5,217.6 L355.7,218.5 L355.9,219.4 L356.1,220.2 L356.3,221.1 L356.5,221.9 L356.7,222.8 L356.9,223.7 L357.2,224.5 L357.4,225.5 L357.7,226.4 L358.0,227.4 L358.3,228.4 L358.6,229.4 L358.9,230.4 L359.3,231.4 L359.6,232.3 L359.9,233.3 L360.3,234.2 L360.6,235.1 L361.0,236.0 L361.3,236.9 L361.7,237.8 L362.1,238.6 L362.5,239.4 L362.9,240.2 L363.2,240.8 L363.5,241.4 L363.7,241.9 L363.9,242.3 L369.5,239.7 L369.3,239.3 L369.1,238.7 L368.8,238.1 L368.4,237.5 L368.1,236.8 L367.7,236.0 L367.4,235.2 L367.0,234.4 L366.7,233.6 L366.4,232.9 L366.1,232.1 L365.8,231.2 L365.5,230.3 L365.1,229.4 L364.8,228.4 L364.5,227.5 L364.2,226.5 L363.9,225.6 L363.6,224.6 L363.4,223.7 L363.1,222.9 L362.9,222.1 L362.7,221.2 L362.5,220.4 L362.3,219.6 L362.1,218.8 L361.9,218.0 L361.7,217.1 L361.5,216.3 L361.3,215.3 L361.1,214.4 L360.8,213.3 L360.3,212.2 L359.8,211.1 L359.4,209.9 L358.9,208.8 L358.5,207.8 L358.1,206.9 L357.8,206.1 L357.6,205.5 Z" fill="#0f3482" stroke="#0f3482" stroke-width="0.4" stroke-linejoin="round"/><path d="M355.7,205.9 L355.7,206.5 L355.7,207.4 L355.7,208.4 L355.7,209.5 L355.7,210.6 L355.7,211.9 L355.7,213.1 L355.7,214.3 L355.8,215.5 L356.1,216.5 L356.3,217.4 L356.5,218.3 L356.7,219.2 L356.8,220.0 L357.0,220.9 L357.3,221.7 L357.5,222.6 L357.7,223.4 L357.9,224.3 L358.2,225.2 L358.5,226.2 L358.8,227.1 L359.1,228.1 L359.4,229.1 L359.7,230.1 L360.0,231.1 L360.4,232.1 L360.7,233.0 L361.0,234.0 L361.4,234.8 L361.7,235.7 L362.1,236.6 L362.5,237.4 L362.8,238.3 L363.2,239.1 L363.6,239.8 L363.9,240.5 L364.2,241.1 L364.4,241.6 L364.6,242.0 L368.8,240.0 L368.6,239.6 L368.3,239.1 L368.0,238.5 L367.7,237.8 L367.4,237.1 L367.0,236.3 L366.6,235.6 L366.3,234.8 L366.0,234.0 L365.6,233.2 L365.3,232.4 L365.0,231.5 L364.7,230.6 L364.4,229.6 L364.1,228.7 L363.8,227.7 L363.4,226.8 L363.2,225.8 L362.9,224.9 L362.6,224.0 L362.4,223.1 L362.1,222.3 L361.9,221.4 L361.7,220.6 L361.5,219.8 L361.3,219.0 L361.1,218.2 L360.9,217.3 L360.7,216.4 L360.5,215.5 L360.3,214.5 L360.0,213.5 L359.5,212.4 L359.0,211.2 L358.6,210.1 L358.1,209.0 L357.7,208.0 L357.4,207.0 L357.1,206.3 L356.8,205.7 Z" fill="#1c5fc4"/><path d="M356.3,205.9 L356.4,206.6 L356.6,207.4 L356.7,208.4 L357.0,209.5 L357.2,210.7 L357.4,212.0 L357.7,213.2 L357.9,214.5 L358.2,215.6 L358.4,216.6 L358.6,217.5 L358.8,218.4 L359.0,219.2 L359.2,220.1 L359.4,220.9 L359.6,221.8 L359.8,222.6 L360.0,223.4 L360.2,224.3 L360.5,225.2 L360.8,226.1 L361.0,227.1 L361.3,228.1 L361.7,229.1 L362.0,230.0 L362.3,231.0 L362.6,232.0 L363.0,232.9 L363.3,233.8 L363.6,234.7 L363.9,235.5 L364.3,236.4 L364.7,237.2 L365.1,238.0 L365.4,238.8 L365.8,239.6 L366.1,240.2 L366.4,240.8 L366.6,241.3 L366.8,241.7 L368.4,241.0 L368.2,240.6 L368.0,240.1 L367.7,239.5 L367.4,238.8 L367.0,238.1 L366.6,237.3 L366.3,236.5 L365.9,235.7 L365.6,234.9 L365.2,234.1 L364.9,233.2 L364.6,232.3 L364.3,231.4 L364.0,230.5 L363.6,229.5 L363.3,228.5 L363.0,227.5 L362.7,226.6 L362.4,225.6 L362.2,224.7 L361.9,223.8 L361.7,223.0 L361.5,222.2 L361.3,221.3 L361.1,220.5 L360.9,219.7 L360.7,218.8 L360.5,218.0 L360.3,217.1 L360.1,216.2 L359.9,215.2 L359.5,214.0 L359.1,212.9 L358.7,211.6 L358.3,210.5 L357.9,209.3 L357.5,208.2 L357.2,207.3 L356.9,206.5 L356.7,205.8 Z" fill="#1447a6" opacity="0.55"/><path d="M355.9,205.7 L356.0,206.3 L356.0,207.1 L356.1,208.0 L356.2,209.1 L356.3,210.2 L356.4,211.3 L356.5,212.5 L356.6,213.6 L356.7,214.7 L357.0,215.8 L357.2,216.7 L357.4,217.6 L357.6,218.4 L357.7,219.3 L357.9,220.1 L358.1,220.9 L358.4,221.8 L358.6,222.6 L358.8,223.5 L359.1,224.4 L359.3,225.3 L359.6,226.3 L359.9,227.2 L360.2,228.2 L360.6,229.2 L360.9,230.2 L361.2,231.2 L361.5,232.1 L361.9,233.0 L362.2,233.8 L362.5,234.7 L362.9,235.5 L363.2,236.4 L363.6,237.2 L364.0,238.0 L364.3,238.7 L364.7,239.4 L365.0,240.0 L365.2,240.5 L365.4,240.9 L366.4,240.4 L366.2,240.0 L366.0,239.5 L365.7,238.9 L365.4,238.2 L365.0,237.5 L364.7,236.7 L364.3,235.9 L363.9,235.1 L363.6,234.2 L363.3,233.4 L362.9,232.6 L362.6,231.7 L362.3,230.8 L362.0,229.8 L361.6,228.9 L361.3,227.9 L361.0,226.9 L360.7,225.9 L360.4,225.0 L360.2,224.1 L359.9,223.2 L359.7,222.3 L359.5,221.5 L359.3,220.7 L359.1,219.8 L358.9,219.0 L358.7,218.2 L358.5,217.3 L358.3,216.4 L358.1,215.5 L357.9,214.5 L357.7,213.5 L357.4,212.4 L357.2,211.2 L357.0,210.1 L356.8,209.0 L356.6,208.0 L356.4,207.0 L356.3,206.3 L356.2,205.7 Z" fill="#62a8ee" opacity="0.7"/>
<g opacity="1.0"><path d="M366.7,241.0 C367.2,242.4 368.8,246.8 369.8,249.6 C370.9,252.4 372.0,255.3 373.0,258.0 C374.0,260.7 373.7,262.5 376.0,266.0 C378.3,269.5 382.5,275.1 386.7,279.0 C390.9,282.9 395.8,286.4 401.0,289.6 C406.2,292.8 412.1,294.9 418.0,298.0 C423.9,301.1 431.5,305.2 436.7,308.0 C441.9,310.8 445.5,312.1 449.0,314.6 C452.5,317.1 455.4,319.5 457.5,323.0 C459.6,326.5 460.6,331.4 461.7,335.4 C462.8,339.4 463.4,343.6 464.0,347.0 C464.6,350.4 464.8,354.5 465.0,356.0" fill="none" stroke="#0f3482" stroke-width="6.8" stroke-linecap="round" stroke-linejoin="round"/><path d="M366.7,241.0 C367.2,242.4 368.8,246.8 369.8,249.6 C370.9,252.4 372.0,255.3 373.0,258.0 C374.0,260.7 373.7,262.5 376.0,266.0 C378.3,269.5 382.5,275.1 386.7,279.0 C390.9,282.9 395.8,286.4 401.0,289.6 C406.2,292.8 412.1,294.9 418.0,298.0 C423.9,301.1 431.5,305.2 436.7,308.0 C441.9,310.8 445.5,312.1 449.0,314.6 C452.5,317.1 455.4,319.5 457.5,323.0 C459.6,326.5 460.6,331.4 461.7,335.4 C462.8,339.4 463.4,343.6 464.0,347.0 C464.6,350.4 464.8,354.5 465.0,356.0" fill="none" stroke="#1c5fc4" stroke-width="5.2" stroke-linecap="round" stroke-linejoin="round"/><path d="M366.7,241.0 C367.2,242.4 368.8,246.8 369.8,249.6 C370.9,252.4 372.0,255.3 373.0,258.0 C374.0,260.7 373.7,262.5 376.0,266.0 C378.3,269.5 382.5,275.1 386.7,279.0 C390.9,282.9 395.8,286.4 401.0,289.6 C406.2,292.8 412.1,294.9 418.0,298.0 C423.9,301.1 431.5,305.2 436.7,308.0 C441.9,310.8 445.5,312.1 449.0,314.6 C452.5,317.1 455.4,319.5 457.5,323.0 C459.6,326.5 460.6,331.4 461.7,335.4 C462.8,339.4 463.4,343.6 464.0,347.0 C464.6,350.4 464.8,354.5 465.0,356.0" fill="none" stroke="#1447a6" stroke-width="2.1" stroke-linecap="round" stroke-linejoin="round" opacity="0.55" transform="translate(1.0,0.4)"/><path d="M366.7,241.0 C367.2,242.4 368.8,246.8 369.8,249.6 C370.9,252.4 372.0,255.3 373.0,258.0 C374.0,260.7 373.7,262.5 376.0,266.0 C378.3,269.5 382.5,275.1 386.7,279.0 C390.9,282.9 395.8,286.4 401.0,289.6 C406.2,292.8 412.1,294.9 418.0,298.0 C423.9,301.1 431.5,305.2 436.7,308.0 C441.9,310.8 445.5,312.1 449.0,314.6 C452.5,317.1 455.4,319.5 457.5,323.0 C459.6,326.5 460.6,331.4 461.7,335.4 C462.8,339.4 463.4,343.6 464.0,347.0 C464.6,350.4 464.8,354.5 465.0,356.0" fill="none" stroke="#62a8ee" stroke-width="1.3" stroke-linecap="round" stroke-linejoin="round" opacity="0.7" transform="translate(-0.9,-0.4)"/></g>
<path d="M416.4,217.8 L416.2,218.3 L415.8,219.0 L415.4,219.7 L414.9,220.5 L414.5,221.4 L413.9,222.2 L413.4,223.1 L412.9,224.0 L412.4,224.8 L411.9,225.4 L411.6,226.0 L411.2,226.7 L410.8,227.3 L410.4,227.9 L409.9,228.6 L409.5,229.4 L409.0,230.2 L408.5,231.0 L408.0,231.9 L407.6,232.9 L407.3,233.9 L407.0,234.9 L406.7,235.8 L406.5,236.8 L406.3,237.7 L406.1,238.7 L405.9,239.7 L405.7,240.7 L405.5,241.7 L405.3,242.8 L405.1,244.0 L404.9,245.3 L404.7,246.7 L404.5,248.1 L404.3,249.5 L404.1,250.9 L403.9,252.2 L403.7,253.3 L403.5,254.3 L403.4,255.0 L403.2,255.5 L403.1,255.8 L403.0,255.9 L402.9,256.0 L402.9,256.0 L402.9,256.1 L402.8,256.1 L402.5,256.3 L402.1,256.7 L401.8,257.0 L406.2,261.0 L406.2,261.1 L406.1,261.1 L406.3,261.0 L406.6,260.7 L407.1,260.3 L407.6,259.8 L408.0,259.2 L408.5,258.4 L408.8,257.5 L409.1,256.6 L409.4,255.5 L409.6,254.4 L409.8,253.1 L410.0,251.8 L410.3,250.4 L410.5,248.9 L410.7,247.5 L410.9,246.2 L411.1,245.0 L411.3,243.8 L411.4,242.8 L411.6,241.7 L411.8,240.7 L412.0,239.8 L412.2,238.9 L412.3,238.1 L412.5,237.3 L412.7,236.5 L413.0,235.8 L413.2,235.1 L413.5,234.4 L413.8,233.8 L414.1,233.2 L414.5,232.6 L414.9,231.9 L415.4,231.3 L415.9,230.5 L416.4,229.7 L416.9,228.9 L417.3,228.0 L417.6,227.0 L417.8,225.9 L418.0,224.9 L418.2,223.8 L418.4,222.7 L418.5,221.7 L418.7,220.8 L418.8,220.0 L418.9,219.3 L419.0,218.8 Z" fill="#0f3482" stroke="#0f3482" stroke-width="0.4" stroke-linejoin="round"/><path d="M417.2,218.1 L416.9,218.6 L416.6,219.2 L416.2,219.9 L415.7,220.8 L415.2,221.6 L414.7,222.5 L414.2,223.4 L413.6,224.3 L413.1,225.1 L412.6,225.8 L412.3,226.4 L411.9,227.1 L411.5,227.7 L411.1,228.4 L410.6,229.1 L410.1,229.8 L409.7,230.6 L409.2,231.4 L408.7,232.3 L408.3,233.2 L408.0,234.1 L407.7,235.1 L407.5,236.0 L407.3,236.9 L407.1,237.9 L406.9,238.8 L406.7,239.8 L406.5,240.8 L406.3,241.8 L406.1,242.9 L405.9,244.1 L405.7,245.4 L405.5,246.8 L405.3,248.2 L405.1,249.6 L404.9,251.0 L404.7,252.3 L404.5,253.4 L404.3,254.4 L404.1,255.2 L404.0,255.8 L403.8,256.1 L403.7,256.4 L403.6,256.5 L403.5,256.6 L403.4,256.7 L403.2,256.8 L403.0,256.9 L402.6,257.2 L402.4,257.5 L405.6,260.5 L405.6,260.5 L405.6,260.5 L405.8,260.4 L406.1,260.1 L406.5,259.8 L407.0,259.3 L407.4,258.7 L407.8,258.1 L408.1,257.3 L408.4,256.4 L408.6,255.4 L408.8,254.2 L409.0,253.0 L409.3,251.6 L409.5,250.2 L409.7,248.8 L409.9,247.4 L410.1,246.1 L410.3,244.8 L410.5,243.7 L410.7,242.6 L410.8,241.6 L411.0,240.6 L411.2,239.7 L411.4,238.8 L411.6,237.9 L411.7,237.1 L412.0,236.3 L412.2,235.5 L412.5,234.8 L412.7,234.1 L413.1,233.5 L413.4,232.8 L413.8,232.2 L414.3,231.5 L414.7,230.8 L415.2,230.1 L415.7,229.3 L416.2,228.5 L416.6,227.6 L416.8,226.7 L417.1,225.6 L417.3,224.6 L417.4,223.5 L417.6,222.5 L417.8,221.5 L417.9,220.5 L418.0,219.7 L418.1,219.0 L418.2,218.5 Z" fill="#1c5fc4"/><path d="M417.7,218.3 L417.5,218.8 L417.3,219.5 L417.1,220.3 L416.8,221.2 L416.5,222.1 L416.1,223.1 L415.8,224.1 L415.4,225.0 L415.0,225.9 L414.7,226.7 L414.4,227.4 L414.0,228.1 L413.5,228.8 L413.1,229.5 L412.6,230.2 L412.2,230.9 L411.7,231.6 L411.3,232.4 L410.9,233.2 L410.5,234.1 L410.2,234.9 L409.9,235.8 L409.7,236.7 L409.5,237.6 L409.3,238.5 L409.1,239.5 L408.9,240.4 L408.7,241.4 L408.6,242.4 L408.4,243.5 L408.1,244.7 L407.9,246.0 L407.7,247.3 L407.5,248.7 L407.3,250.2 L407.1,251.5 L406.9,252.9 L406.7,254.0 L406.5,255.1 L406.3,255.9 L406.1,256.6 L405.9,257.1 L405.7,257.4 L405.5,257.7 L405.3,257.9 L405.1,258.1 L404.9,258.2 L404.7,258.4 L404.4,258.6 L404.3,258.8 L405.5,259.9 L405.6,259.8 L405.7,259.7 L405.9,259.6 L406.2,259.4 L406.5,259.1 L406.8,258.8 L407.1,258.3 L407.4,257.8 L407.7,257.2 L407.9,256.4 L408.2,255.4 L408.4,254.3 L408.6,253.1 L408.8,251.8 L409.0,250.4 L409.2,249.0 L409.4,247.6 L409.6,246.2 L409.8,245.0 L410.0,243.8 L410.2,242.7 L410.4,241.7 L410.6,240.7 L410.7,239.8 L410.9,238.8 L411.1,238.0 L411.3,237.1 L411.5,236.3 L411.8,235.4 L412.1,234.7 L412.4,233.9 L412.7,233.2 L413.1,232.5 L413.6,231.8 L414.0,231.1 L414.5,230.4 L414.9,229.7 L415.4,229.0 L415.8,228.2 L416.2,227.4 L416.5,226.4 L416.7,225.5 L417.0,224.4 L417.2,223.4 L417.4,222.4 L417.6,221.4 L417.7,220.5 L417.9,219.7 L418.0,219.0 L418.1,218.4 Z" fill="#1447a6" opacity="0.55"/><path d="M417.4,218.2 L417.2,218.6 L416.9,219.3 L416.5,220.0 L416.1,220.8 L415.7,221.7 L415.2,222.6 L414.8,223.6 L414.3,224.5 L413.8,225.3 L413.4,226.1 L413.0,226.9 L412.6,227.6 L412.1,228.3 L411.7,228.9 L411.2,229.6 L410.8,230.3 L410.3,231.1 L409.9,231.8 L409.5,232.6 L409.1,233.4 L408.8,234.3 L408.6,235.2 L408.3,236.1 L408.1,237.0 L407.9,237.9 L407.7,238.8 L407.6,239.8 L407.4,240.8 L407.2,241.8 L407.0,242.8 L406.8,244.0 L406.6,245.3 L406.4,246.7 L406.2,248.1 L406.0,249.5 L405.8,250.9 L405.6,252.2 L405.4,253.4 L405.2,254.4 L405.0,255.3 L404.8,256.0 L404.5,256.5 L404.3,256.9 L404.1,257.2 L403.9,257.4 L403.7,257.6 L403.4,257.8 L403.2,257.9 L403.0,258.1 L402.8,258.3 L403.7,259.0 L403.8,258.9 L403.9,258.8 L404.1,258.7 L404.3,258.5 L404.6,258.2 L404.9,257.9 L405.2,257.5 L405.5,257.0 L405.8,256.3 L406.0,255.6 L406.3,254.7 L406.5,253.6 L406.7,252.4 L406.9,251.0 L407.1,249.7 L407.3,248.2 L407.5,246.8 L407.7,245.5 L407.9,244.2 L408.1,243.0 L408.3,242.0 L408.5,240.9 L408.7,240.0 L408.8,239.0 L409.0,238.1 L409.2,237.2 L409.4,236.3 L409.6,235.5 L409.9,234.7 L410.2,233.8 L410.5,233.1 L410.9,232.3 L411.3,231.6 L411.7,230.9 L412.1,230.2 L412.6,229.6 L413.1,228.9 L413.5,228.1 L414.0,227.4 L414.3,226.6 L414.7,225.8 L415.1,224.9 L415.5,223.9 L415.9,222.9 L416.3,222.0 L416.6,221.0 L416.9,220.2 L417.2,219.4 L417.4,218.8 L417.6,218.3 Z" fill="#62a8ee" opacity="0.7"/>
<path d="M387.7,225.4 L387.8,226.0 L387.8,226.8 L387.9,227.8 L388.0,228.8 L388.1,230.0 L388.2,231.2 L388.3,232.4 L388.4,233.6 L388.5,234.7 L388.8,235.7 L389.0,236.6 L389.2,237.5 L389.3,238.5 L389.5,239.4 L389.7,240.4 L389.9,241.4 L390.1,242.4 L390.3,243.4 L390.6,244.4 L390.9,245.5 L391.3,246.4 L391.8,247.4 L392.3,248.2 L392.7,249.1 L393.2,249.8 L393.7,250.6 L394.2,251.3 L394.6,252.0 L395.0,252.6 L395.4,253.3 L395.8,253.9 L396.3,254.7 L396.7,255.4 L397.2,256.1 L397.6,256.8 L398.0,257.5 L398.4,258.2 L398.9,258.8 L399.3,259.4 L399.7,259.9 L400.2,260.4 L400.7,260.9 L401.3,261.3 L401.9,261.6 L402.5,261.8 L403.1,261.9 L403.4,261.9 L403.5,261.9 L403.3,261.9 L403.1,261.9 L404.9,256.1 L404.5,256.0 L404.0,256.0 L403.8,255.9 L403.8,256.0 L404.0,256.0 L404.1,256.0 L404.3,256.1 L404.4,256.2 L404.4,256.2 L404.3,256.1 L404.1,255.8 L403.8,255.4 L403.5,254.9 L403.1,254.3 L402.7,253.7 L402.3,253.0 L401.9,252.3 L401.4,251.6 L401.0,250.8 L400.6,250.1 L400.1,249.4 L399.6,248.7 L399.2,248.0 L398.7,247.3 L398.3,246.6 L397.9,246.0 L397.5,245.3 L397.1,244.7 L396.8,244.0 L396.6,243.3 L396.3,242.7 L396.1,241.9 L395.9,241.1 L395.7,240.2 L395.6,239.3 L395.4,238.4 L395.2,237.4 L395.1,236.4 L394.9,235.3 L394.6,234.3 L394.4,233.2 L393.9,232.2 L393.4,231.0 L392.9,229.9 L392.3,228.8 L391.8,227.8 L391.4,226.8 L390.9,225.9 L390.6,225.2 L390.3,224.6 Z" fill="#0f3482" stroke="#0f3482" stroke-width="0.4" stroke-linejoin="round"/><path d="M388.5,225.1 L388.5,225.8 L388.6,226.6 L388.7,227.5 L388.8,228.6 L388.9,229.8 L389.0,231.0 L389.1,232.2 L389.2,233.4 L389.3,234.5 L389.6,235.5 L389.8,236.4 L390.0,237.4 L390.1,238.3 L390.3,239.3 L390.5,240.3 L390.6,241.2 L390.8,242.2 L391.1,243.2 L391.4,244.2 L391.7,245.2 L392.1,246.1 L392.5,247.0 L392.9,247.8 L393.4,248.7 L393.9,249.4 L394.4,250.2 L394.8,250.9 L395.3,251.5 L395.7,252.2 L396.1,252.9 L396.5,253.5 L397.0,254.2 L397.4,255.0 L397.8,255.7 L398.3,256.4 L398.7,257.1 L399.1,257.7 L399.5,258.3 L399.9,258.9 L400.3,259.4 L400.7,259.9 L401.2,260.3 L401.7,260.6 L402.2,260.9 L402.7,261.0 L403.2,261.1 L403.5,261.1 L403.6,261.1 L403.4,261.1 L403.3,261.1 L404.7,256.9 L404.3,256.8 L403.9,256.8 L403.8,256.7 L403.7,256.7 L403.8,256.8 L403.8,256.8 L403.9,256.8 L403.9,256.8 L403.8,256.8 L403.7,256.6 L403.5,256.3 L403.1,255.8 L402.8,255.3 L402.4,254.7 L402.0,254.1 L401.6,253.4 L401.2,252.7 L400.7,252.0 L400.3,251.3 L399.9,250.5 L399.4,249.8 L399.0,249.1 L398.5,248.4 L398.1,247.7 L397.6,247.1 L397.2,246.4 L396.8,245.7 L396.4,245.0 L396.1,244.3 L395.8,243.6 L395.6,242.9 L395.3,242.1 L395.1,241.3 L395.0,240.4 L394.8,239.5 L394.6,238.5 L394.5,237.5 L394.3,236.5 L394.1,235.5 L393.8,234.5 L393.6,233.4 L393.1,232.4 L392.6,231.3 L392.1,230.1 L391.6,229.0 L391.1,228.0 L390.6,227.0 L390.2,226.2 L389.8,225.4 L389.5,224.9 Z" fill="#1c5fc4"/><path d="M389.0,225.2 L389.2,225.8 L389.4,226.6 L389.7,227.6 L390.0,228.6 L390.3,229.8 L390.6,231.0 L390.9,232.2 L391.2,233.4 L391.5,234.6 L391.8,235.5 L392.0,236.5 L392.2,237.5 L392.4,238.4 L392.5,239.4 L392.7,240.4 L392.9,241.3 L393.1,242.3 L393.3,243.2 L393.5,244.1 L393.8,245.0 L394.2,245.9 L394.6,246.7 L395.0,247.5 L395.5,248.3 L395.9,249.0 L396.4,249.8 L396.9,250.5 L397.3,251.1 L397.8,251.8 L398.2,252.5 L398.6,253.2 L399.0,253.9 L399.4,254.6 L399.9,255.3 L400.3,256.0 L400.7,256.7 L401.1,257.3 L401.5,257.9 L401.9,258.4 L402.2,258.9 L402.6,259.3 L402.9,259.6 L403.3,259.8 L403.6,260.0 L403.9,260.1 L404.2,260.1 L404.4,260.1 L404.6,260.1 L404.6,260.1 L404.6,260.1 L405.1,258.6 L404.9,258.5 L404.7,258.5 L404.5,258.5 L404.4,258.4 L404.3,258.4 L404.2,258.4 L404.1,258.3 L404.0,258.2 L403.8,258.1 L403.5,257.8 L403.2,257.4 L402.9,257.0 L402.5,256.4 L402.1,255.8 L401.7,255.2 L401.3,254.5 L400.9,253.8 L400.4,253.0 L400.0,252.3 L399.6,251.6 L399.2,250.9 L398.7,250.2 L398.3,249.5 L397.8,248.8 L397.3,248.1 L396.9,247.4 L396.5,246.7 L396.1,246.0 L395.7,245.2 L395.4,244.5 L395.1,243.7 L394.9,242.8 L394.7,241.9 L394.5,241.0 L394.3,240.1 L394.2,239.1 L394.0,238.1 L393.8,237.1 L393.6,236.2 L393.4,235.2 L393.1,234.1 L392.7,233.0 L392.2,231.8 L391.8,230.6 L391.3,229.5 L390.8,228.4 L390.4,227.3 L390.0,226.4 L389.7,225.6 L389.4,225.0 Z" fill="#1447a6" opacity="0.55"/><path d="M388.7,224.9 L388.8,225.5 L388.9,226.3 L389.1,227.2 L389.2,228.2 L389.4,229.3 L389.6,230.4 L389.8,231.5 L390.0,232.7 L390.2,233.8 L390.4,234.8 L390.6,235.7 L390.8,236.7 L391.0,237.7 L391.2,238.6 L391.3,239.6 L391.5,240.6 L391.7,241.5 L391.9,242.4 L392.2,243.4 L392.5,244.2 L392.8,245.1 L393.2,245.9 L393.6,246.7 L394.1,247.5 L394.5,248.2 L395.0,248.9 L395.5,249.6 L395.9,250.3 L396.4,251.0 L396.8,251.6 L397.2,252.3 L397.6,253.0 L398.1,253.8 L398.5,254.5 L398.9,255.2 L399.3,255.9 L399.7,256.5 L400.1,257.1 L400.5,257.6 L400.8,258.0 L401.2,258.4 L401.5,258.6 L401.8,258.8 L402.1,259.0 L402.4,259.1 L402.6,259.1 L402.8,259.1 L403.0,259.1 L403.0,259.2 L403.1,259.2 L403.4,258.1 L403.3,258.1 L403.1,258.0 L402.9,258.0 L402.8,258.0 L402.6,258.0 L402.5,258.0 L402.3,257.9 L402.1,257.8 L401.9,257.6 L401.7,257.3 L401.4,256.9 L401.0,256.4 L400.7,255.9 L400.3,255.3 L399.9,254.6 L399.4,253.9 L399.0,253.2 L398.6,252.5 L398.1,251.8 L397.7,251.1 L397.3,250.4 L396.8,249.7 L396.4,249.0 L395.9,248.3 L395.5,247.6 L395.0,246.9 L394.6,246.2 L394.2,245.4 L393.8,244.6 L393.5,243.9 L393.2,243.0 L393.0,242.2 L392.8,241.3 L392.6,240.4 L392.4,239.4 L392.3,238.5 L392.1,237.5 L391.9,236.5 L391.7,235.5 L391.5,234.5 L391.2,233.5 L391.0,232.4 L390.7,231.3 L390.4,230.2 L390.1,229.1 L389.8,228.1 L389.5,227.1 L389.3,226.2 L389.1,225.5 L388.9,224.9 Z" fill="#62a8ee" opacity="0.7"/>
<g opacity="1.0"><path d="M404.0,259.0 C404.3,260.5 405.4,265.2 406.0,268.0 C406.6,270.8 406.6,273.1 407.5,276.0 C408.4,278.9 410.3,282.7 411.7,285.4 C413.1,288.1 414.4,290.2 416.0,292.0 C417.6,293.8 420.2,295.3 421.0,296.0" fill="none" stroke="#0f3482" stroke-width="6.4" stroke-linecap="round" stroke-linejoin="round"/><path d="M404.0,259.0 C404.3,260.5 405.4,265.2 406.0,268.0 C406.6,270.8 406.6,273.1 407.5,276.0 C408.4,278.9 410.3,282.7 411.7,285.4 C413.1,288.1 414.4,290.2 416.0,292.0 C417.6,293.8 420.2,295.3 421.0,296.0" fill="none" stroke="#1c5fc4" stroke-width="4.8" stroke-linecap="round" stroke-linejoin="round"/><path d="M404.0,259.0 C404.3,260.5 405.4,265.2 406.0,268.0 C406.6,270.8 406.6,273.1 407.5,276.0 C408.4,278.9 410.3,282.7 411.7,285.4 C413.1,288.1 414.4,290.2 416.0,292.0 C417.6,293.8 420.2,295.3 421.0,296.0" fill="none" stroke="#1447a6" stroke-width="1.9" stroke-linecap="round" stroke-linejoin="round" opacity="0.55" transform="translate(1.0,0.4)"/><path d="M404.0,259.0 C404.3,260.5 405.4,265.2 406.0,268.0 C406.6,270.8 406.6,273.1 407.5,276.0 C408.4,278.9 410.3,282.7 411.7,285.4 C413.1,288.1 414.4,290.2 416.0,292.0 C417.6,293.8 420.2,295.3 421.0,296.0" fill="none" stroke="#62a8ee" stroke-width="1.2" stroke-linecap="round" stroke-linejoin="round" opacity="0.7" transform="translate(-0.8,-0.4)"/></g>
<path d="M483.5,309.8 L483.6,310.5 L483.7,311.4 L483.8,312.3 L483.9,313.4 L484.0,314.6 L484.1,315.9 L484.3,317.4 L484.5,318.9 L484.6,320.5 L484.8,322.2 L485.1,324.0 L485.3,325.9 L485.5,327.9 L485.8,330.2 L486.1,332.7 L486.4,335.3 L486.7,338.0 L487.0,340.8 L487.4,343.6 L487.7,346.4 L488.1,349.0 L488.4,351.6 L488.8,354.0 L489.1,356.2 L489.4,358.1 L489.8,359.9 L490.1,361.6 L490.4,363.1 L490.7,364.4 L491.1,365.8 L491.4,367.0 L491.7,368.2 L492.0,369.5 L492.3,370.7 L492.6,372.1 L493.0,373.6 L493.3,375.3 L493.7,377.1 L494.1,378.9 L494.5,380.9 L494.9,382.8 L495.3,384.8 L495.7,386.9 L496.1,388.9 L496.5,390.9 L496.9,392.9 L497.3,394.8 L497.7,396.7 L498.2,398.6 L498.6,400.4 L499.1,402.1 L499.6,403.8 L500.0,405.4 L500.4,406.9 L500.9,408.5 L501.2,410.0 L501.6,411.4 L501.9,413.0 L502.2,414.5 L502.4,416.1 L502.6,417.9 L502.8,419.7 L503.0,421.5 L503.1,423.4 L503.3,425.3 L503.4,427.3 L503.5,429.3 L503.5,431.4 L503.6,433.5 L503.6,435.6 L503.6,437.8 L503.6,440.0 L503.6,442.2 L503.5,444.6 L503.4,447.0 L503.3,449.5 L503.2,452.0 L503.0,454.6 L502.9,457.1 L502.7,459.7 L502.5,462.2 L502.3,464.6 L502.1,467.0 L501.9,469.3 L501.7,471.5 L501.5,473.6 L501.2,475.6 L500.9,477.7 L500.7,479.7 L500.4,481.7 L500.1,483.7 L499.8,485.8 L499.5,487.8 L499.2,489.9 L498.9,492.0 L498.7,494.1 L498.5,496.2 L498.2,498.3 L498.0,500.4 L497.8,502.4 L497.6,504.5 L497.4,506.6 L497.2,508.7 L497.0,510.8 L496.8,513.0 L496.7,515.2 L496.5,517.4 L496.4,519.7 L496.3,522.1 L496.3,524.7 L496.2,527.4 L496.2,530.1 L496.2,532.9 L496.2,535.6 L496.2,538.3 L496.2,540.7 L496.2,543.0 L496.2,545.0 L496.2,546.7 L496.2,548.0 L513.8,548.0 L513.8,546.6 L513.7,544.8 L513.7,542.8 L513.7,540.5 L513.6,538.1 L513.6,535.5 L513.5,532.8 L513.5,530.1 L513.5,527.5 L513.5,524.9 L513.5,522.5 L513.6,520.3 L513.6,518.2 L513.7,516.1 L513.8,514.1 L514.0,512.1 L514.1,510.0 L514.2,508.0 L514.4,506.0 L514.6,504.0 L514.7,502.0 L514.9,500.0 L515.1,497.9 L515.3,495.9 L515.5,493.9 L515.7,491.9 L515.9,489.9 L516.2,488.0 L516.4,485.9 L516.7,483.9 L517.0,481.8 L517.2,479.7 L517.5,477.6 L517.7,475.3 L517.9,473.0 L518.1,470.7 L518.3,468.3 L518.4,465.8 L518.6,463.3 L518.8,460.7 L518.9,458.1 L519.0,455.4 L519.1,452.8 L519.2,450.1 L519.3,447.5 L519.4,445.0 L519.4,442.4 L519.4,440.0 L519.4,437.7 L519.3,435.4 L519.3,433.1 L519.2,430.8 L519.1,428.6 L518.9,426.4 L518.8,424.3 L518.6,422.1 L518.4,420.0 L518.2,418.0 L517.9,415.9 L517.6,413.9 L517.2,411.8 L516.8,409.9 L516.4,408.0 L516.0,406.2 L515.5,404.5 L515.0,402.8 L514.5,401.2 L514.0,399.6 L513.6,398.0 L513.1,396.5 L512.7,394.9 L512.3,393.3 L511.8,391.5 L511.4,389.7 L511.0,387.7 L510.5,385.8 L510.1,383.8 L509.6,381.8 L509.2,379.8 L508.7,377.8 L508.3,375.9 L507.9,374.0 L507.5,372.2 L507.0,370.4 L506.6,368.7 L506.2,367.2 L505.9,365.8 L505.5,364.5 L505.1,363.3 L504.8,362.1 L504.5,361.0 L504.2,359.8 L503.9,358.5 L503.6,357.1 L503.2,355.6 L502.9,353.8 L502.6,351.8 L502.2,349.6 L501.8,347.1 L501.5,344.5 L501.1,341.8 L500.7,339.1 L500.3,336.3 L500.0,333.6 L499.6,331.0 L499.3,328.5 L499.0,326.2 L498.7,324.1 L498.5,322.3 L498.2,320.5 L498.0,318.8 L497.8,317.2 L497.6,315.7 L497.4,314.3 L497.2,313.0 L497.0,311.8 L496.9,310.7 L496.7,309.8 L496.6,308.9 L496.5,308.2 Z" fill="#0f3482"/><path d="M484.3,309.7 L484.4,310.4 L484.4,311.3 L484.5,312.2 L484.7,313.3 L484.8,314.5 L484.9,315.8 L485.1,317.3 L485.3,318.8 L485.4,320.4 L485.6,322.1 L485.8,323.9 L486.1,325.8 L486.3,327.8 L486.6,330.1 L486.9,332.6 L487.2,335.2 L487.5,337.9 L487.8,340.7 L488.2,343.5 L488.5,346.3 L488.9,348.9 L489.2,351.5 L489.6,353.9 L489.9,356.0 L490.2,358.0 L490.5,359.8 L490.9,361.4 L491.2,362.9 L491.5,364.2 L491.8,365.5 L492.1,366.8 L492.5,368.0 L492.8,369.3 L493.1,370.5 L493.4,371.9 L493.7,373.4 L494.1,375.1 L494.5,376.9 L494.8,378.8 L495.2,380.7 L495.6,382.7 L496.0,384.7 L496.5,386.7 L496.9,388.7 L497.3,390.7 L497.7,392.7 L498.1,394.6 L498.5,396.5 L499.0,398.4 L499.4,400.2 L499.9,401.9 L500.3,403.6 L500.8,405.2 L501.2,406.7 L501.6,408.3 L502.0,409.8 L502.4,411.3 L502.7,412.8 L503.0,414.4 L503.2,416.0 L503.4,417.8 L503.6,419.6 L503.8,421.4 L503.9,423.4 L504.1,425.3 L504.2,427.3 L504.3,429.3 L504.3,431.4 L504.4,433.5 L504.4,435.6 L504.4,437.8 L504.4,440.0 L504.4,442.3 L504.3,444.6 L504.2,447.0 L504.1,449.5 L504.0,452.1 L503.8,454.6 L503.7,457.2 L503.5,459.7 L503.3,462.2 L503.1,464.7 L502.9,467.1 L502.7,469.4 L502.5,471.6 L502.3,473.7 L502.0,475.7 L501.7,477.8 L501.5,479.8 L501.2,481.8 L500.9,483.8 L500.6,485.9 L500.3,487.9 L500.0,490.0 L499.7,492.1 L499.5,494.2 L499.3,496.3 L499.0,498.4 L498.8,500.4 L498.6,502.5 L498.4,504.6 L498.2,506.7 L498.0,508.8 L497.8,510.9 L497.6,513.0 L497.5,515.2 L497.3,517.4 L497.2,519.7 L497.1,522.1 L497.1,524.7 L497.0,527.4 L497.0,530.1 L497.0,532.9 L497.0,535.6 L497.0,538.2 L497.0,540.7 L497.0,543.0 L497.0,545.0 L497.0,546.7 L497.0,548.0 L513.0,548.0 L513.0,546.6 L512.9,544.8 L512.9,542.8 L512.9,540.5 L512.8,538.1 L512.8,535.5 L512.7,532.8 L512.7,530.1 L512.7,527.5 L512.7,524.9 L512.7,522.5 L512.8,520.3 L512.8,518.2 L512.9,516.1 L513.0,514.0 L513.2,512.0 L513.3,510.0 L513.4,508.0 L513.6,506.0 L513.8,503.9 L514.0,501.9 L514.1,499.9 L514.3,497.8 L514.5,495.8 L514.7,493.8 L514.9,491.8 L515.1,489.8 L515.4,487.8 L515.6,485.8 L515.9,483.8 L516.2,481.7 L516.4,479.6 L516.7,477.5 L516.9,475.2 L517.1,473.0 L517.3,470.6 L517.5,468.2 L517.6,465.8 L517.8,463.2 L518.0,460.7 L518.1,458.0 L518.2,455.4 L518.3,452.7 L518.4,450.1 L518.5,447.5 L518.6,444.9 L518.6,442.4 L518.6,440.0 L518.6,437.7 L518.5,435.4 L518.5,433.1 L518.4,430.9 L518.3,428.7 L518.1,426.5 L518.0,424.3 L517.8,422.2 L517.6,420.1 L517.4,418.1 L517.1,416.0 L516.8,414.0 L516.5,412.0 L516.1,410.0 L515.6,408.2 L515.2,406.4 L514.7,404.7 L514.2,403.0 L513.7,401.4 L513.3,399.8 L512.8,398.3 L512.3,396.7 L511.9,395.1 L511.5,393.5 L511.0,391.7 L510.6,389.8 L510.2,387.9 L509.7,385.9 L509.3,384.0 L508.8,382.0 L508.4,380.0 L508.0,378.0 L507.5,376.0 L507.1,374.2 L506.7,372.3 L506.3,370.6 L505.9,368.9 L505.5,367.4 L505.1,366.0 L504.7,364.7 L504.4,363.5 L504.0,362.3 L503.7,361.2 L503.4,359.9 L503.1,358.7 L502.8,357.3 L502.4,355.7 L502.1,354.0 L501.8,352.0 L501.4,349.7 L501.0,347.2 L500.7,344.6 L500.3,341.9 L499.9,339.2 L499.5,336.4 L499.2,333.7 L498.8,331.1 L498.5,328.6 L498.2,326.3 L497.9,324.2 L497.7,322.4 L497.4,320.6 L497.2,318.9 L497.0,317.3 L496.8,315.8 L496.6,314.4 L496.4,313.1 L496.2,311.9 L496.1,310.8 L495.9,309.9 L495.8,309.0 L495.7,308.3 Z" fill="#1c5cc6"/><path d="M490.5,309.3 L490.6,310.0 L490.7,310.8 L490.9,311.8 L491.0,312.9 L491.1,314.1 L491.3,315.4 L491.5,316.8 L491.7,318.3 L491.9,319.9 L492.1,321.6 L492.3,323.4 L492.6,325.3 L492.8,327.3 L493.1,329.6 L493.4,332.1 L493.7,334.7 L494.1,337.4 L494.4,340.2 L494.8,343.0 L495.2,345.7 L495.5,348.4 L495.9,350.9 L496.2,353.3 L496.6,355.4 L496.9,357.3 L497.3,359.0 L497.6,360.5 L497.9,361.9 L498.3,363.3 L498.6,364.5 L498.9,365.7 L499.2,367.0 L499.6,368.2 L499.9,369.5 L500.3,370.9 L500.6,372.5 L501.0,374.2 L501.4,376.0 L501.8,377.9 L502.2,379.8 L502.7,381.8 L503.1,383.8 L503.5,385.8 L503.9,387.8 L504.4,389.8 L504.8,391.8 L505.2,393.7 L505.7,395.5 L506.1,397.3 L506.6,399.1 L507.0,400.7 L507.5,402.4 L508.0,404.0 L508.4,405.5 L508.9,407.1 L509.3,408.7 L509.7,410.3 L510.0,411.9 L510.4,413.6 L510.6,415.4 L510.9,417.2 L511.1,419.1 L511.3,421.0 L511.5,423.0 L511.7,425.0 L511.8,427.0 L511.9,429.1 L512.0,431.2 L512.1,433.4 L512.1,435.5 L512.1,437.8 L512.1,440.0 L512.1,442.3 L512.1,444.7 L512.0,447.2 L511.9,449.7 L511.8,452.3 L511.7,454.9 L511.5,457.5 L511.4,460.0 L511.2,462.6 L511.0,465.1 L510.9,467.5 L510.7,469.8 L510.5,472.0 L510.3,474.2 L510.0,476.3 L509.8,478.4 L509.5,480.4 L509.2,482.5 L508.9,484.5 L508.7,486.5 L508.4,488.5 L508.2,490.6 L507.9,492.7 L507.7,494.7 L507.5,496.8 L507.3,498.9 L507.1,500.9 L506.9,503.0 L506.7,505.0 L506.5,507.1 L506.3,509.2 L506.2,511.3 L506.0,513.4 L505.9,515.5 L505.8,517.7 L505.7,519.9 L505.6,522.3 L505.6,524.8 L505.6,527.4 L505.6,530.2 L505.6,532.9 L505.6,535.6 L505.6,538.2 L505.6,540.7 L505.7,542.9 L505.7,545.0 L505.7,546.7 L505.7,548.0 L511.3,548.0 L511.3,546.6 L511.3,544.9 L511.2,542.9 L511.2,540.6 L511.1,538.1 L511.1,535.5 L511.1,532.9 L511.1,530.1 L511.0,527.5 L511.1,524.8 L511.1,522.4 L511.1,520.1 L511.2,517.9 L511.3,515.8 L511.4,513.7 L511.6,511.6 L511.7,509.6 L511.9,507.5 L512.0,505.5 L512.2,503.5 L512.4,501.4 L512.6,499.4 L512.8,497.3 L513.0,495.3 L513.2,493.2 L513.4,491.2 L513.6,489.2 L513.9,487.2 L514.1,485.2 L514.4,483.2 L514.6,481.1 L514.9,479.0 L515.1,476.9 L515.4,474.7 L515.6,472.5 L515.8,470.2 L516.0,467.8 L516.1,465.4 L516.3,462.9 L516.4,460.3 L516.6,457.7 L516.7,455.1 L516.8,452.5 L516.9,449.9 L517.0,447.3 L517.1,444.8 L517.1,442.4 L517.1,440.0 L517.1,437.7 L517.0,435.4 L517.0,433.2 L516.9,431.0 L516.8,428.9 L516.7,426.7 L516.5,424.6 L516.4,422.6 L516.2,420.5 L515.9,418.5 L515.7,416.6 L515.4,414.6 L515.1,412.7 L514.7,410.9 L514.3,409.2 L513.9,407.5 L513.4,405.8 L513.0,404.2 L512.5,402.6 L512.0,401.0 L511.5,399.4 L511.1,397.8 L510.6,396.2 L510.2,394.5 L509.8,392.6 L509.3,390.8 L508.9,388.8 L508.4,386.8 L508.0,384.8 L507.6,382.8 L507.1,380.8 L506.7,378.9 L506.2,376.9 L505.8,375.0 L505.4,373.2 L505.0,371.5 L504.6,369.9 L504.3,368.4 L503.9,367.1 L503.5,365.8 L503.2,364.6 L502.8,363.4 L502.5,362.1 L502.2,360.9 L501.9,359.5 L501.5,358.1 L501.2,356.4 L500.9,354.6 L500.5,352.6 L500.2,350.3 L499.8,347.8 L499.4,345.2 L499.0,342.4 L498.7,339.7 L498.3,336.9 L497.9,334.2 L497.6,331.6 L497.3,329.1 L497.0,326.8 L496.7,324.7 L496.4,322.8 L496.2,321.1 L496.0,319.4 L495.8,317.8 L495.6,316.3 L495.4,314.9 L495.2,313.6 L495.0,312.4 L494.9,311.3 L494.7,310.3 L494.6,309.5 L494.5,308.7 Z" fill="#1447a6" opacity="0.55"/><path d="M486.7,309.1 L486.8,309.9 L486.8,310.7 L487.0,311.7 L487.1,312.8 L487.2,314.0 L487.4,315.3 L487.5,316.7 L487.7,318.2 L487.9,319.8 L488.1,321.5 L488.3,323.3 L488.5,325.2 L488.8,327.2 L489.1,329.5 L489.4,332.0 L489.7,334.6 L490.0,337.3 L490.4,340.1 L490.7,342.9 L491.1,345.6 L491.4,348.3 L491.7,350.8 L492.1,353.1 L492.4,355.2 L492.7,357.1 L493.1,358.8 L493.4,360.3 L493.7,361.7 L494.0,363.0 L494.3,364.3 L494.6,365.5 L495.0,366.7 L495.3,368.0 L495.6,369.3 L496.0,370.7 L496.3,372.3 L496.7,374.0 L497.1,375.8 L497.5,377.7 L497.9,379.6 L498.3,381.6 L498.7,383.6 L499.1,385.6 L499.5,387.6 L499.9,389.6 L500.4,391.6 L500.8,393.5 L501.2,395.3 L501.6,397.1 L502.0,398.8 L502.5,400.5 L503.0,402.1 L503.4,403.7 L503.9,405.3 L504.3,406.9 L504.7,408.4 L505.1,410.1 L505.4,411.7 L505.8,413.4 L506.0,415.2 L506.3,417.1 L506.5,419.0 L506.7,420.9 L506.8,422.9 L507.0,424.9 L507.1,427.0 L507.2,429.0 L507.3,431.2 L507.3,433.3 L507.4,435.5 L507.4,437.7 L507.4,440.0 L507.4,442.3 L507.3,444.7 L507.2,447.2 L507.1,449.7 L507.0,452.3 L506.9,454.9 L506.7,457.5 L506.5,460.1 L506.3,462.6 L506.1,465.1 L506.0,467.5 L505.8,469.9 L505.5,472.1 L505.3,474.3 L505.1,476.4 L504.8,478.5 L504.5,480.6 L504.2,482.6 L503.9,484.6 L503.7,486.6 L503.4,488.7 L503.1,490.7 L502.9,492.7 L502.6,494.8 L502.4,496.9 L502.2,499.0 L502.0,501.0 L501.8,503.1 L501.6,505.1 L501.4,507.2 L501.2,509.2 L501.0,511.3 L500.9,513.4 L500.7,515.6 L500.6,517.7 L500.5,519.9 L500.4,522.3 L500.4,524.8 L500.3,527.4 L500.3,530.1 L500.3,532.9 L500.3,535.6 L500.3,538.2 L500.3,540.6 L500.3,542.9 L500.4,544.9 L500.4,546.6 L500.4,548.0 L503.9,548.0 L503.9,546.6 L503.9,544.9 L503.8,542.9 L503.8,540.6 L503.8,538.2 L503.8,535.6 L503.8,532.9 L503.8,530.2 L503.8,527.5 L503.8,524.8 L503.8,522.4 L503.9,520.1 L504.0,517.9 L504.1,515.8 L504.3,513.7 L504.4,511.6 L504.6,509.5 L504.7,507.5 L504.9,505.4 L505.1,503.4 L505.3,501.3 L505.5,499.3 L505.7,497.2 L505.9,495.2 L506.2,493.1 L506.4,491.1 L506.7,489.1 L506.9,487.1 L507.2,485.1 L507.5,483.0 L507.8,481.0 L508.0,478.9 L508.3,476.8 L508.5,474.6 L508.8,472.4 L509.0,470.1 L509.2,467.8 L509.3,465.4 L509.5,462.8 L509.7,460.3 L509.9,457.7 L510.0,455.1 L510.2,452.5 L510.3,449.9 L510.4,447.3 L510.4,444.8 L510.5,442.4 L510.5,440.0 L510.5,437.7 L510.5,435.5 L510.4,433.2 L510.4,431.1 L510.3,428.9 L510.2,426.8 L510.0,424.7 L509.9,422.7 L509.7,420.6 L509.5,418.7 L509.3,416.7 L509.0,414.8 L508.7,412.9 L508.4,411.1 L508.0,409.4 L507.6,407.7 L507.2,406.1 L506.7,404.5 L506.3,402.9 L505.8,401.3 L505.3,399.7 L504.9,398.1 L504.5,396.4 L504.0,394.7 L503.6,392.9 L503.2,391.0 L502.8,389.0 L502.3,387.0 L501.9,385.0 L501.5,383.0 L501.1,381.0 L500.7,379.0 L500.2,377.1 L499.8,375.2 L499.4,373.4 L499.1,371.7 L498.7,370.1 L498.3,368.6 L498.0,367.3 L497.7,366.0 L497.3,364.8 L497.0,363.6 L496.7,362.4 L496.4,361.1 L496.1,359.7 L495.8,358.2 L495.4,356.6 L495.1,354.8 L494.8,352.7 L494.4,350.4 L494.1,347.9 L493.7,345.3 L493.4,342.5 L493.0,339.8 L492.7,337.0 L492.3,334.3 L492.0,331.7 L491.7,329.2 L491.4,326.9 L491.2,324.8 L490.9,323.0 L490.7,321.2 L490.5,319.5 L490.3,317.9 L490.1,316.4 L489.9,315.0 L489.8,313.7 L489.6,312.5 L489.5,311.4 L489.4,310.4 L489.3,309.6 L489.2,308.9 Z" fill="#62a8ee" opacity="0.7"/>
<g opacity="1.0"><path d="M474.4,320.0 C475.2,324.5 477.4,338.7 479.0,347.0 C480.6,355.3 482.7,362.2 483.8,370.0 C484.8,377.8 485.3,386.0 485.5,394.0 C485.7,402.0 485.6,410.3 485.0,418.0 C484.4,425.7 483.2,432.5 482.0,440.0 C480.8,447.5 479.3,454.0 478.0,463.0 C476.7,472.0 474.9,485.3 474.0,494.0 C473.1,502.7 472.4,507.3 472.5,515.0 C472.6,522.7 474.2,535.8 474.6,540.0" fill="none" stroke="#0f3482" stroke-width="6.0" stroke-linecap="round" stroke-linejoin="round"/><path d="M474.4,320.0 C475.2,324.5 477.4,338.7 479.0,347.0 C480.6,355.3 482.7,362.2 483.8,370.0 C484.8,377.8 485.3,386.0 485.5,394.0 C485.7,402.0 485.6,410.3 485.0,418.0 C484.4,425.7 483.2,432.5 482.0,440.0 C480.8,447.5 479.3,454.0 478.0,463.0 C476.7,472.0 474.9,485.3 474.0,494.0 C473.1,502.7 472.4,507.3 472.5,515.0 C472.6,522.7 474.2,535.8 474.6,540.0" fill="none" stroke="#1c5fc4" stroke-width="4.4" stroke-linecap="round" stroke-linejoin="round"/><path d="M474.4,320.0 C475.2,324.5 477.4,338.7 479.0,347.0 C480.6,355.3 482.7,362.2 483.8,370.0 C484.8,377.8 485.3,386.0 485.5,394.0 C485.7,402.0 485.6,410.3 485.0,418.0 C484.4,425.7 483.2,432.5 482.0,440.0 C480.8,447.5 479.3,454.0 478.0,463.0 C476.7,472.0 474.9,485.3 474.0,494.0 C473.1,502.7 472.4,507.3 472.5,515.0 C472.6,522.7 474.2,535.8 474.6,540.0" fill="none" stroke="#1447a6" stroke-width="1.8" stroke-linecap="round" stroke-linejoin="round" opacity="0.55" transform="translate(0.9,0.4)"/><path d="M474.4,320.0 C475.2,324.5 477.4,338.7 479.0,347.0 C480.6,355.3 482.7,362.2 483.8,370.0 C484.8,377.8 485.3,386.0 485.5,394.0 C485.7,402.0 485.6,410.3 485.0,418.0 C484.4,425.7 483.2,432.5 482.0,440.0 C480.8,447.5 479.3,454.0 478.0,463.0 C476.7,472.0 474.9,485.3 474.0,494.0 C473.1,502.7 472.4,507.3 472.5,515.0 C472.6,522.7 474.2,535.8 474.6,540.0" fill="none" stroke="#62a8ee" stroke-width="1.1" stroke-linecap="round" stroke-linejoin="round" opacity="0.7" transform="translate(-0.7,-0.4)"/></g>
<path d="M470,338 Q467,355 480,355 Q491,355 494,341" fill="none" stroke="#d9bb98" stroke-width="4" opacity="0.7"/>
<path d="M470,338 Q467,355 480,355 Q491,355 494,341" fill="none" stroke="#f7ebdb" stroke-width="2.4"/>
<ellipse cx="481" cy="351" rx="6.5" ry="3.2" fill="#f3e2cc" stroke="#f9f0e4" stroke-width="1.2"/>
<path d="M474,369 Q471,386 484,386 Q495,386 498,372" fill="none" stroke="#d9bb98" stroke-width="4" opacity="0.7"/>
<path d="M474,369 Q471,386 484,386 Q495,386 498,372" fill="none" stroke="#f7ebdb" stroke-width="2.4"/>
<ellipse cx="485" cy="382" rx="6.5" ry="3.2" fill="#f3e2cc" stroke="#f9f0e4" stroke-width="1.2"/>
<path d="M475,395 Q472,412 485,412 Q496,412 499,398" fill="none" stroke="#d9bb98" stroke-width="4" opacity="0.7"/>
<path d="M475,395 Q472,412 485,412 Q496,412 499,398" fill="none" stroke="#f7ebdb" stroke-width="2.4"/>
<ellipse cx="486" cy="408" rx="6.5" ry="3.2" fill="#f3e2cc" stroke="#f9f0e4" stroke-width="1.2"/>
<path d="M473,420 Q470,437 483,437 Q494,437 497,423" fill="none" stroke="#d9bb98" stroke-width="4" opacity="0.7"/>
<path d="M473,420 Q470,437 483,437 Q494,437 497,423" fill="none" stroke="#f7ebdb" stroke-width="2.4"/>
<ellipse cx="484" cy="433" rx="6.5" ry="3.2" fill="#f3e2cc" stroke="#f9f0e4" stroke-width="1.2"/>
<path d="M469,447 Q466,464 479,464 Q490,464 493,450" fill="none" stroke="#d9bb98" stroke-width="4" opacity="0.7"/>
<path d="M469,447 Q466,464 479,464 Q490,464 493,450" fill="none" stroke="#f7ebdb" stroke-width="2.4"/>
<ellipse cx="480" cy="460" rx="6.5" ry="3.2" fill="#f3e2cc" stroke="#f9f0e4" stroke-width="1.2"/>
<path d="M465,475 Q462,492 475,492 Q486,492 489,478" fill="none" stroke="#d9bb98" stroke-width="4" opacity="0.7"/>
<path d="M465,475 Q462,492 475,492 Q486,492 489,478" fill="none" stroke="#f7ebdb" stroke-width="2.4"/>
<ellipse cx="476" cy="488" rx="6.5" ry="3.2" fill="#f3e2cc" stroke="#f9f0e4" stroke-width="1.2"/>
<path d="M462,502 Q459,519 472,519 Q483,519 486,505" fill="none" stroke="#d9bb98" stroke-width="4" opacity="0.7"/>
<path d="M462,502 Q459,519 472,519 Q483,519 486,505" fill="none" stroke="#f7ebdb" stroke-width="2.4"/>
<ellipse cx="473" cy="515" rx="6.5" ry="3.2" fill="#f3e2cc" stroke="#f9f0e4" stroke-width="1.2"/>
<g opacity="1.0"><path d="M465.0,356.0 C465.0,359.7 465.1,370.7 465.0,378.0 C464.9,385.3 464.7,392.7 464.5,400.0 C464.3,407.3 464.4,412.9 464.0,421.7 C463.6,430.5 463.2,443.3 462.0,453.0 C460.8,462.7 458.4,471.3 456.9,480.0 C455.3,488.7 453.3,498.0 452.7,505.0 C452.1,512.0 453.1,516.2 453.5,522.0 C453.9,527.8 454.2,534.3 455.0,540.0 C455.8,545.7 457.5,553.3 458.0,556.0" fill="none" stroke="#0f3482" stroke-width="7.0" stroke-linecap="round" stroke-linejoin="round"/><path d="M465.0,356.0 C465.0,359.7 465.1,370.7 465.0,378.0 C464.9,385.3 464.7,392.7 464.5,400.0 C464.3,407.3 464.4,412.9 464.0,421.7 C463.6,430.5 463.2,443.3 462.0,453.0 C460.8,462.7 458.4,471.3 456.9,480.0 C455.3,488.7 453.3,498.0 452.7,505.0 C452.1,512.0 453.1,516.2 453.5,522.0 C453.9,527.8 454.2,534.3 455.0,540.0 C455.8,545.7 457.5,553.3 458.0,556.0" fill="none" stroke="#1c5fc4" stroke-width="5.4" stroke-linecap="round" stroke-linejoin="round"/><path d="M465.0,356.0 C465.0,359.7 465.1,370.7 465.0,378.0 C464.9,385.3 464.7,392.7 464.5,400.0 C464.3,407.3 464.4,412.9 464.0,421.7 C463.6,430.5 463.2,443.3 462.0,453.0 C460.8,462.7 458.4,471.3 456.9,480.0 C455.3,488.7 453.3,498.0 452.7,505.0 C452.1,512.0 453.1,516.2 453.5,522.0 C453.9,527.8 454.2,534.3 455.0,540.0 C455.8,545.7 457.5,553.3 458.0,556.0" fill="none" stroke="#1447a6" stroke-width="2.2" stroke-linecap="round" stroke-linejoin="round" opacity="0.55" transform="translate(1.1,0.4)"/><path d="M465.0,356.0 C465.0,359.7 465.1,370.7 465.0,378.0 C464.9,385.3 464.7,392.7 464.5,400.0 C464.3,407.3 464.4,412.9 464.0,421.7 C463.6,430.5 463.2,443.3 462.0,453.0 C460.8,462.7 458.4,471.3 456.9,480.0 C455.3,488.7 453.3,498.0 452.7,505.0 C452.1,512.0 453.1,516.2 453.5,522.0 C453.9,527.8 454.2,534.3 455.0,540.0 C455.8,545.7 457.5,553.3 458.0,556.0" fill="none" stroke="#62a8ee" stroke-width="1.4" stroke-linecap="round" stroke-linejoin="round" opacity="0.7" transform="translate(-0.9,-0.4)"/></g>
<path d="M452.6,512.2 L452.0,512.0 L451.1,511.9 L450.2,511.6 L449.0,511.4 L447.8,511.1 L446.5,510.8 L445.1,510.6 L443.8,510.4 L442.4,510.2 L441.2,510.1 L440.0,510.1 L438.8,510.0 L437.6,510.0 L436.4,510.1 L435.2,510.1 L434.0,510.2 L432.8,510.4 L431.5,510.6 L430.3,510.9 L429.1,511.2 L427.8,511.7 L426.5,512.4 L425.4,513.2 L424.3,514.1 L423.3,515.0 L422.4,515.9 L421.5,516.7 L420.8,517.4 L420.2,518.0 L419.7,518.5 L421.1,520.7 L421.8,520.5 L422.6,520.1 L423.5,519.7 L424.6,519.2 L425.7,518.7 L426.9,518.2 L428.0,517.8 L429.1,517.5 L430.1,517.1 L430.9,516.8 L431.8,516.5 L432.7,516.3 L433.6,516.1 L434.6,516.0 L435.6,515.9 L436.6,515.9 L437.7,515.8 L438.7,515.8 L439.8,515.9 L440.8,515.9 L441.9,516.0 L443.0,516.1 L444.2,516.3 L445.4,516.5 L446.6,516.8 L447.8,517.0 L448.9,517.3 L449.9,517.5 L450.7,517.7 L451.4,517.8 Z" fill="#0f3482" stroke="#0f3482" stroke-width="0.4" stroke-linejoin="round"/><path d="M452.4,512.9 L451.8,512.8 L451.0,512.6 L450.0,512.4 L448.8,512.1 L447.6,511.9 L446.3,511.6 L445.0,511.4 L443.7,511.2 L442.4,511.0 L441.1,510.9 L440.0,510.9 L438.8,510.8 L437.6,510.8 L436.4,510.9 L435.3,510.9 L434.1,511.0 L432.9,511.2 L431.7,511.4 L430.5,511.7 L429.3,512.0 L428.1,512.5 L426.9,513.1 L425.8,513.9 L424.8,514.8 L423.8,515.7 L422.8,516.6 L422.0,517.4 L421.2,518.1 L420.6,518.7 L420.1,519.2 L420.7,520.0 L421.3,519.8 L422.1,519.4 L423.1,519.0 L424.1,518.5 L425.3,518.0 L426.4,517.6 L427.6,517.1 L428.8,516.8 L429.8,516.3 L430.7,516.0 L431.6,515.7 L432.5,515.5 L433.5,515.3 L434.5,515.2 L435.6,515.1 L436.6,515.1 L437.7,515.0 L438.8,515.0 L439.8,515.1 L440.9,515.1 L441.9,515.2 L443.1,515.3 L444.3,515.5 L445.5,515.7 L446.8,516.0 L447.9,516.3 L449.0,516.5 L450.0,516.7 L450.9,516.9 L451.6,517.1 Z" fill="#1c5fc4"/><path d="M453.0,514.6 L452.4,514.4 L451.5,514.2 L450.5,514.0 L449.4,513.8 L448.2,513.5 L446.9,513.2 L445.6,513.0 L444.3,512.8 L443.1,512.6 L441.9,512.5 L440.8,512.5 L439.6,512.5 L438.5,512.5 L437.3,512.5 L436.2,512.6 L435.1,512.7 L433.9,512.8 L432.8,513.0 L431.7,513.3 L430.6,513.6 L429.5,514.0 L428.3,514.5 L427.1,515.2 L426.0,515.9 L424.8,516.6 L423.7,517.3 L422.7,518.0 L421.8,518.6 L421.1,519.1 L420.5,519.5 L420.7,519.9 L421.3,519.6 L422.2,519.2 L423.1,518.7 L424.2,518.1 L425.3,517.5 L426.5,517.0 L427.8,516.4 L429.0,516.0 L430.1,515.5 L431.1,515.1 L432.1,514.8 L433.1,514.6 L434.2,514.4 L435.2,514.3 L436.3,514.2 L437.4,514.1 L438.5,514.1 L439.6,514.1 L440.7,514.1 L441.8,514.1 L442.9,514.2 L444.1,514.4 L445.4,514.6 L446.6,514.8 L447.9,515.1 L449.1,515.3 L450.2,515.6 L451.2,515.8 L452.0,516.0 L452.7,516.1 Z" fill="#1447a6" opacity="0.55"/><path d="M451.4,514.1 L450.7,514.0 L449.9,513.8 L448.9,513.6 L447.8,513.4 L446.6,513.1 L445.3,512.8 L444.0,512.6 L442.7,512.4 L441.5,512.2 L440.3,512.1 L439.2,512.1 L438.1,512.1 L436.9,512.1 L435.8,512.1 L434.7,512.2 L433.5,512.3 L432.4,512.4 L431.3,512.6 L430.2,512.9 L429.1,513.2 L428.0,513.6 L426.9,514.1 L425.8,514.8 L424.8,515.6 L423.8,516.4 L422.9,517.1 L422.1,517.8 L421.3,518.5 L420.7,519.0 L420.1,519.4 L420.3,519.6 L420.8,519.3 L421.5,518.8 L422.3,518.2 L423.3,517.6 L424.2,516.9 L425.3,516.3 L426.3,515.6 L427.4,515.0 L428.4,514.5 L429.5,514.2 L430.5,513.9 L431.5,513.6 L432.6,513.5 L433.6,513.3 L434.7,513.2 L435.8,513.2 L436.9,513.1 L438.1,513.1 L439.2,513.1 L440.3,513.2 L441.4,513.3 L442.6,513.4 L443.8,513.6 L445.1,513.9 L446.4,514.1 L447.6,514.4 L448.7,514.6 L449.7,514.9 L450.5,515.0 L451.2,515.2 Z" fill="#62a8ee" opacity="0.7"/>
<g opacity="1.0"><path d="M465.0,354.7 C466.6,353.1 471.3,347.6 474.4,345.0 C477.5,342.4 479.6,341.3 483.8,339.0 C487.9,336.7 495.5,333.0 499.4,331.0 C503.3,329.0 505.7,327.7 507.0,327.0" fill="none" stroke="#0f3482" stroke-width="5.8" stroke-linecap="round" stroke-linejoin="round"/><path d="M465.0,354.7 C466.6,353.1 471.3,347.6 474.4,345.0 C477.5,342.4 479.6,341.3 483.8,339.0 C487.9,336.7 495.5,333.0 499.4,331.0 C503.3,329.0 505.7,327.7 507.0,327.0" fill="none" stroke="#1c5fc4" stroke-width="4.2" stroke-linecap="round" stroke-linejoin="round"/><path d="M465.0,354.7 C466.6,353.1 471.3,347.6 474.4,345.0 C477.5,342.4 479.6,341.3 483.8,339.0 C487.9,336.7 495.5,333.0 499.4,331.0 C503.3,329.0 505.7,327.7 507.0,327.0" fill="none" stroke="#1447a6" stroke-width="1.7" stroke-linecap="round" stroke-linejoin="round" opacity="0.55" transform="translate(0.8,0.3)"/><path d="M465.0,354.7 C466.6,353.1 471.3,347.6 474.4,345.0 C477.5,342.4 479.6,341.3 483.8,339.0 C487.9,336.7 495.5,333.0 499.4,331.0 C503.3,329.0 505.7,327.7 507.0,327.0" fill="none" stroke="#62a8ee" stroke-width="1.1" stroke-linecap="round" stroke-linejoin="round" opacity="0.7" transform="translate(-0.7,-0.3)"/></g>
<path d="M520.9,429.7 L521.3,429.2 L521.9,428.5 L522.5,427.7 L523.1,426.9 L523.8,426.1 L524.6,425.3 L525.3,424.5 L526.0,423.9 L526.5,423.5 L526.9,423.3 L527.4,423.2 L528.0,423.1 L528.6,423.1 L529.4,423.1 L530.1,423.2 L530.9,423.3 L531.6,423.5 L532.3,423.7 L532.9,423.9 L533.4,424.2 L533.8,424.4 L534.2,424.7 L534.5,425.0 L534.8,425.4 L535.1,425.8 L535.4,426.3 L535.7,426.8 L535.9,427.4 L536.1,428.0 L536.3,428.6 L536.5,429.3 L536.6,430.0 L536.6,430.8 L536.7,431.6 L536.7,432.5 L536.7,433.5 L536.6,434.4 L536.5,435.4 L536.4,436.4 L536.3,437.3 L536.1,438.2 L535.9,439.1 L535.7,439.9 L535.5,440.8 L535.2,441.8 L534.9,442.8 L534.5,443.8 L534.2,444.9 L533.9,446.2 L533.6,447.4 L533.3,448.7 L532.9,450.2 L532.5,451.7 L532.1,453.3 L531.8,454.9 L531.4,456.6 L531.1,458.2 L530.8,459.8 L530.6,461.4 L530.5,462.9 L530.5,464.3 L530.6,465.7 L530.7,466.9 L530.9,468.2 L531.1,469.4 L531.4,470.5 L531.7,471.6 L532.0,472.6 L532.3,473.7 L532.6,474.7 L533.0,475.9 L533.5,477.1 L534.1,478.2 L534.7,479.3 L535.4,480.4 L536.0,481.5 L536.6,482.4 L537.1,483.2 L537.5,483.9 L537.9,484.5 L540.1,483.5 L540.0,482.9 L539.7,482.1 L539.5,481.1 L539.2,480.1 L538.9,478.9 L538.6,477.8 L538.3,476.6 L538.0,475.4 L537.7,474.3 L537.4,473.3 L537.1,472.3 L536.8,471.2 L536.5,470.2 L536.2,469.2 L536.0,468.3 L535.8,467.3 L535.6,466.3 L535.5,465.3 L535.5,464.2 L535.5,463.1 L535.6,461.9 L535.8,460.5 L536.0,459.1 L536.3,457.6 L536.6,456.0 L537.0,454.4 L537.4,452.9 L537.8,451.4 L538.1,449.9 L538.4,448.6 L538.7,447.4 L539.0,446.3 L539.3,445.3 L539.6,444.3 L539.9,443.3 L540.3,442.3 L540.5,441.3 L540.8,440.2 L541.0,439.2 L541.2,438.1 L541.4,437.0 L541.5,435.9 L541.6,434.8 L541.6,433.7 L541.7,432.6 L541.7,431.5 L541.6,430.5 L541.5,429.4 L541.4,428.4 L541.2,427.4 L540.9,426.5 L540.6,425.6 L540.2,424.7 L539.8,423.9 L539.3,423.1 L538.7,422.3 L538.1,421.6 L537.4,420.9 L536.6,420.3 L535.8,419.8 L534.9,419.4 L534.0,419.0 L533.0,418.7 L531.9,418.4 L530.8,418.2 L529.7,418.1 L528.6,418.1 L527.4,418.1 L526.2,418.3 L525.1,418.7 L523.9,419.3 L522.8,420.1 L521.8,420.9 L520.9,421.8 L520.1,422.8 L519.3,423.7 L518.6,424.6 L518.0,425.3 L517.5,425.9 L517.1,426.3 Z" fill="#0f3482" stroke="#0f3482" stroke-width="0.4" stroke-linejoin="round"/><path d="M520.3,429.1 L520.7,428.7 L521.2,428.0 L521.9,427.2 L522.5,426.4 L523.2,425.6 L524.0,424.7 L524.7,424.0 L525.5,423.3 L526.1,422.9 L526.6,422.6 L527.2,422.4 L527.9,422.3 L528.6,422.3 L529.4,422.3 L530.2,422.4 L531.0,422.5 L531.8,422.7 L532.6,423.0 L533.2,423.2 L533.8,423.5 L534.2,423.8 L534.7,424.1 L535.1,424.5 L535.5,424.9 L535.8,425.4 L536.1,425.9 L536.4,426.5 L536.7,427.1 L536.9,427.8 L537.1,428.4 L537.3,429.1 L537.4,429.9 L537.4,430.7 L537.5,431.6 L537.5,432.6 L537.4,433.5 L537.4,434.5 L537.3,435.5 L537.2,436.5 L537.1,437.5 L536.9,438.4 L536.7,439.3 L536.5,440.2 L536.2,441.1 L535.9,442.0 L535.6,443.0 L535.3,444.1 L535.0,445.2 L534.7,446.4 L534.3,447.6 L534.0,448.9 L533.7,450.4 L533.3,451.9 L532.9,453.5 L532.5,455.1 L532.2,456.7 L531.9,458.3 L531.6,459.9 L531.4,461.5 L531.3,462.9 L531.3,464.3 L531.4,465.6 L531.5,466.8 L531.7,468.0 L531.9,469.2 L532.2,470.3 L532.5,471.4 L532.8,472.4 L533.1,473.4 L533.4,474.5 L533.7,475.6 L534.2,476.8 L534.8,477.9 L535.5,479.0 L536.1,480.1 L536.7,481.1 L537.3,482.1 L537.8,482.9 L538.3,483.6 L538.6,484.2 L539.4,483.8 L539.2,483.2 L539.0,482.4 L538.7,481.5 L538.4,480.4 L538.1,479.3 L537.8,478.1 L537.5,476.9 L537.3,475.7 L537.0,474.6 L536.6,473.5 L536.3,472.5 L536.0,471.5 L535.7,470.4 L535.5,469.4 L535.2,468.4 L535.0,467.4 L534.9,466.4 L534.7,465.3 L534.7,464.2 L534.7,463.1 L534.8,461.8 L535.0,460.4 L535.2,459.0 L535.5,457.4 L535.9,455.8 L536.2,454.2 L536.6,452.7 L537.0,451.2 L537.3,449.7 L537.7,448.4 L537.9,447.2 L538.2,446.1 L538.6,445.0 L538.9,444.0 L539.2,443.0 L539.5,442.0 L539.8,441.0 L540.0,440.0 L540.3,439.0 L540.4,437.9 L540.6,436.9 L540.7,435.8 L540.8,434.8 L540.8,433.7 L540.9,432.6 L540.9,431.6 L540.8,430.5 L540.7,429.5 L540.6,428.5 L540.4,427.6 L540.1,426.7 L539.8,425.9 L539.5,425.0 L539.1,424.3 L538.6,423.5 L538.1,422.8 L537.5,422.1 L536.9,421.5 L536.2,421.0 L535.4,420.5 L534.6,420.1 L533.7,419.8 L532.8,419.4 L531.8,419.2 L530.7,419.0 L529.7,418.9 L528.6,418.9 L527.5,418.9 L526.4,419.1 L525.4,419.4 L524.3,420.0 L523.3,420.7 L522.4,421.5 L521.5,422.4 L520.7,423.3 L519.9,424.2 L519.2,425.1 L518.6,425.8 L518.1,426.4 L517.7,426.9 Z" fill="#1c5fc4"/><path d="M520.2,428.7 L520.6,428.2 L521.1,427.6 L521.7,426.8 L522.4,426.0 L523.1,425.1 L523.9,424.3 L524.7,423.5 L525.5,422.8 L526.2,422.2 L526.9,421.9 L527.6,421.7 L528.4,421.5 L529.3,421.5 L530.2,421.5 L531.1,421.6 L531.9,421.8 L532.8,422.0 L533.6,422.2 L534.3,422.5 L535.0,422.8 L535.5,423.2 L536.0,423.6 L536.5,424.0 L537.0,424.5 L537.4,425.1 L537.7,425.7 L538.0,426.3 L538.3,427.0 L538.6,427.7 L538.8,428.4 L539.0,429.2 L539.1,430.0 L539.2,430.9 L539.2,431.9 L539.2,432.8 L539.2,433.8 L539.1,434.9 L539.0,435.9 L538.9,436.9 L538.8,437.9 L538.6,438.8 L538.4,439.8 L538.2,440.7 L537.9,441.6 L537.6,442.6 L537.3,443.6 L537.0,444.6 L536.7,445.7 L536.4,446.9 L536.1,448.1 L535.7,449.4 L535.4,450.9 L535.0,452.4 L534.6,454.0 L534.3,455.6 L533.9,457.2 L533.6,458.8 L533.3,460.4 L533.1,461.8 L533.0,463.2 L533.0,464.6 L533.1,465.8 L533.2,467.0 L533.4,468.1 L533.6,469.2 L533.9,470.3 L534.2,471.3 L534.5,472.4 L534.8,473.4 L535.1,474.5 L535.4,475.6 L535.8,476.7 L536.2,477.8 L536.7,478.9 L537.2,480.0 L537.6,481.0 L538.1,482.0 L538.5,482.8 L538.8,483.6 L539.0,484.1 L539.3,484.0 L539.1,483.4 L538.9,482.7 L538.6,481.8 L538.3,480.8 L537.9,479.7 L537.6,478.6 L537.3,477.4 L537.0,476.3 L536.6,475.2 L536.3,474.1 L536.0,473.0 L535.7,472.0 L535.4,471.0 L535.1,470.0 L534.9,468.9 L534.7,467.9 L534.5,466.8 L534.4,465.7 L534.3,464.5 L534.3,463.3 L534.4,462.0 L534.6,460.5 L534.9,459.0 L535.2,457.5 L535.5,455.9 L535.9,454.3 L536.3,452.7 L536.6,451.2 L537.0,449.8 L537.3,448.4 L537.6,447.2 L537.9,446.1 L538.2,445.0 L538.5,444.0 L538.9,443.0 L539.2,442.0 L539.4,441.0 L539.7,440.1 L539.9,439.1 L540.1,438.1 L540.2,437.0 L540.3,436.0 L540.4,434.9 L540.5,433.9 L540.5,432.9 L540.5,431.8 L540.5,430.8 L540.4,429.9 L540.2,429.0 L540.1,428.1 L539.8,427.3 L539.5,426.5 L539.2,425.8 L538.8,425.0 L538.4,424.4 L538.0,423.7 L537.4,423.1 L536.9,422.6 L536.3,422.1 L535.6,421.7 L534.9,421.3 L534.0,421.0 L533.2,420.7 L532.2,420.5 L531.3,420.3 L530.3,420.2 L529.3,420.2 L528.3,420.2 L527.3,420.4 L526.4,420.7 L525.5,421.1 L524.7,421.8 L523.8,422.5 L523.0,423.4 L522.2,424.3 L521.4,425.2 L520.7,426.0 L520.1,426.8 L519.6,427.4 L519.2,427.8 Z" fill="#1447a6" opacity="0.55"/><path d="M518.7,428.0 L519.2,427.6 L519.7,426.9 L520.3,426.2 L521.0,425.3 L521.7,424.4 L522.5,423.6 L523.3,422.8 L524.1,422.1 L524.8,421.5 L525.6,421.1 L526.3,420.9 L527.2,420.8 L528.0,420.7 L528.9,420.7 L529.8,420.8 L530.7,421.0 L531.6,421.2 L532.4,421.5 L533.2,421.8 L533.8,422.1 L534.4,422.5 L534.9,422.9 L535.4,423.3 L535.9,423.9 L536.3,424.4 L536.7,425.0 L537.0,425.7 L537.3,426.4 L537.5,427.1 L537.8,427.8 L537.9,428.6 L538.1,429.5 L538.1,430.4 L538.2,431.3 L538.2,432.3 L538.1,433.3 L538.1,434.3 L538.0,435.3 L537.9,436.4 L537.8,437.4 L537.6,438.3 L537.4,439.3 L537.1,440.2 L536.9,441.2 L536.6,442.1 L536.3,443.1 L535.9,444.2 L535.6,445.2 L535.3,446.4 L535.0,447.6 L534.7,449.0 L534.3,450.4 L534.0,451.9 L533.6,453.5 L533.2,455.1 L532.9,456.7 L532.5,458.3 L532.3,459.8 L532.1,461.3 L532.0,462.7 L532.0,464.0 L532.0,465.2 L532.2,466.4 L532.3,467.5 L532.6,468.6 L532.8,469.7 L533.1,470.7 L533.4,471.8 L533.7,472.8 L534.0,473.9 L534.4,475.0 L534.8,476.1 L535.4,477.3 L535.9,478.5 L536.5,479.6 L537.1,480.7 L537.6,481.7 L538.1,482.6 L538.5,483.4 L538.8,484.0 L539.0,483.9 L538.7,483.3 L538.4,482.5 L537.9,481.6 L537.5,480.5 L537.0,479.4 L536.5,478.2 L536.0,477.0 L535.6,475.8 L535.2,474.7 L534.8,473.6 L534.5,472.6 L534.2,471.5 L533.9,470.5 L533.6,469.5 L533.4,468.4 L533.2,467.4 L533.0,466.3 L532.9,465.2 L532.8,464.0 L532.8,462.7 L532.9,461.4 L533.1,460.0 L533.4,458.5 L533.7,456.9 L534.0,455.3 L534.4,453.7 L534.8,452.1 L535.2,450.6 L535.5,449.2 L535.8,447.8 L536.1,446.6 L536.4,445.5 L536.8,444.4 L537.1,443.4 L537.4,442.4 L537.7,441.4 L538.0,440.4 L538.2,439.5 L538.4,438.5 L538.6,437.5 L538.7,436.5 L538.8,435.4 L538.9,434.4 L539.0,433.3 L539.0,432.3 L539.0,431.3 L539.0,430.3 L538.9,429.4 L538.8,428.5 L538.6,427.6 L538.3,426.8 L538.1,426.1 L537.8,425.3 L537.4,424.6 L537.0,423.9 L536.5,423.3 L536.0,422.7 L535.5,422.2 L534.9,421.8 L534.2,421.4 L533.5,421.0 L532.7,420.7 L531.8,420.4 L530.9,420.2 L530.0,420.0 L529.0,419.9 L528.0,419.9 L527.1,419.9 L526.1,420.1 L525.3,420.3 L524.4,420.8 L523.5,421.4 L522.7,422.2 L521.9,423.0 L521.1,423.9 L520.3,424.8 L519.6,425.6 L519.0,426.4 L518.5,427.0 L518.1,427.4 Z" fill="#62a8ee" opacity="0.7"/>
<g opacity="1.0"><path d="M539.0,433.0 C540.0,432.7 542.9,431.5 545.0,431.0 C547.1,430.5 550.6,430.2 551.7,430.0" fill="none" stroke="#0f3482" stroke-width="3.2" stroke-linecap="round" stroke-linejoin="round"/><path d="M539.0,433.0 C540.0,432.7 542.9,431.5 545.0,431.0 C547.1,430.5 550.6,430.2 551.7,430.0" fill="none" stroke="#1c5fc4" stroke-width="1.6" stroke-linecap="round" stroke-linejoin="round"/></g>
<g opacity="1.0"><path d="M629.0,367.0 C629.2,368.5 630.8,374.2 630.0,376.0 C629.2,377.8 625.0,377.7 624.0,378.0" fill="none" stroke="#0f3482" stroke-width="4.2" stroke-linecap="round" stroke-linejoin="round"/><path d="M629.0,367.0 C629.2,368.5 630.8,374.2 630.0,376.0 C629.2,377.8 625.0,377.7 624.0,378.0" fill="none" stroke="#1c5fc4" stroke-width="2.6" stroke-linecap="round" stroke-linejoin="round"/></g>
<g opacity="1.0"><path d="M630.0,376.0 C631.2,377.0 635.8,381.0 637.0,382.0" fill="none" stroke="#0f3482" stroke-width="4.2" stroke-linecap="round" stroke-linejoin="round"/><path d="M630.0,376.0 C631.2,377.0 635.8,381.0 637.0,382.0" fill="none" stroke="#1c5fc4" stroke-width="2.6" stroke-linecap="round" stroke-linejoin="round"/></g>
<path d="M513.6,506.9 L514.0,506.6 L514.5,506.1 L515.1,505.6 L515.7,505.0 L516.4,504.5 L517.0,503.9 L517.7,503.3 L518.3,502.8 L518.9,502.4 L519.2,502.2 L519.4,502.1 L519.5,502.1 L519.6,502.1 L519.9,502.1 L520.3,502.1 L521.0,502.1 L521.8,502.0 L522.7,501.7 L523.6,501.1 L524.4,500.4 L525.0,499.6 L525.4,498.6 L525.8,497.5 L526.2,496.4 L526.6,495.3 L526.9,494.2 L527.2,493.1 L527.4,492.2 L527.6,491.5 L527.8,490.9 L525.6,489.9 L525.3,490.4 L524.8,491.1 L524.3,491.9 L523.8,492.8 L523.2,493.7 L522.6,494.6 L522.0,495.5 L521.4,496.2 L520.9,496.8 L520.6,497.1 L520.6,497.1 L520.6,497.1 L520.7,497.1 L520.6,497.1 L520.4,497.1 L520.0,497.1 L519.3,497.1 L518.5,497.2 L517.6,497.4 L516.8,497.8 L516.0,498.3 L515.3,498.9 L514.5,499.4 L513.8,500.1 L513.1,500.7 L512.4,501.3 L511.7,501.9 L511.2,502.4 L510.7,502.8 L510.4,503.1 Z" fill="#0f3482" stroke="#0f3482" stroke-width="0.4" stroke-linejoin="round"/><path d="M513.1,506.3 L513.5,506.0 L514.0,505.5 L514.5,505.0 L515.2,504.4 L515.8,503.9 L516.5,503.3 L517.2,502.7 L517.8,502.2 L518.4,501.8 L518.8,501.5 L519.1,501.3 L519.3,501.3 L519.6,501.3 L519.9,501.3 L520.3,501.3 L520.9,501.3 L521.6,501.2 L522.3,500.9 L523.1,500.5 L523.8,499.9 L524.3,499.1 L524.7,498.2 L525.1,497.1 L525.5,496.0 L525.8,494.9 L526.2,493.8 L526.4,492.8 L526.7,491.9 L526.9,491.1 L527.1,490.6 L526.3,490.2 L526.0,490.7 L525.6,491.4 L525.1,492.2 L524.5,493.1 L523.9,494.1 L523.3,495.0 L522.7,495.9 L522.1,496.6 L521.6,497.2 L521.2,497.6 L521.0,497.8 L520.9,497.8 L520.9,497.9 L520.7,497.9 L520.4,497.9 L519.9,497.9 L519.4,497.9 L518.7,498.0 L517.9,498.2 L517.2,498.5 L516.5,499.0 L515.8,499.5 L515.0,500.1 L514.3,500.7 L513.6,501.3 L512.9,501.9 L512.3,502.5 L511.7,503.0 L511.2,503.4 L510.9,503.7 Z" fill="#1c5fc4"/><path d="M513.1,505.8 L513.5,505.4 L514.0,505.0 L514.5,504.5 L515.2,503.9 L515.8,503.3 L516.5,502.7 L517.2,502.2 L517.9,501.6 L518.5,501.2 L519.0,500.8 L519.4,500.6 L519.8,500.5 L520.2,500.5 L520.6,500.5 L521.0,500.5 L521.5,500.5 L522.0,500.4 L522.6,500.3 L523.1,499.9 L523.7,499.4 L524.1,498.8 L524.6,497.9 L524.9,496.9 L525.3,495.9 L525.7,494.8 L526.0,493.7 L526.3,492.7 L526.6,491.8 L526.8,491.1 L527.0,490.5 L526.7,490.4 L526.5,490.9 L526.2,491.7 L525.8,492.5 L525.4,493.5 L524.9,494.5 L524.5,495.5 L524.0,496.5 L523.5,497.4 L523.1,498.1 L522.7,498.6 L522.4,498.9 L522.1,499.1 L521.8,499.2 L521.4,499.2 L521.1,499.2 L520.6,499.2 L520.1,499.2 L519.6,499.3 L519.0,499.4 L518.4,499.7 L517.7,500.1 L517.1,500.6 L516.4,501.2 L515.7,501.8 L515.0,502.4 L514.3,503.0 L513.7,503.5 L513.1,504.1 L512.6,504.5 L512.3,504.8 Z" fill="#1447a6" opacity="0.55"/><path d="M511.7,505.0 L512.1,504.7 L512.5,504.3 L513.1,503.8 L513.7,503.2 L514.4,502.6 L515.1,502.0 L515.8,501.4 L516.5,500.9 L517.1,500.4 L517.6,500.1 L518.1,499.9 L518.5,499.8 L518.9,499.7 L519.3,499.7 L519.8,499.7 L520.2,499.7 L520.7,499.7 L521.2,499.5 L521.7,499.2 L522.2,498.8 L522.7,498.1 L523.2,497.4 L523.7,496.5 L524.3,495.5 L524.8,494.5 L525.2,493.4 L525.7,492.5 L526.1,491.6 L526.4,490.9 L526.6,490.4 L526.5,490.3 L526.2,490.8 L525.8,491.5 L525.3,492.3 L524.8,493.2 L524.3,494.2 L523.7,495.2 L523.2,496.1 L522.6,496.9 L522.1,497.7 L521.6,498.2 L521.2,498.5 L520.9,498.7 L520.6,498.8 L520.2,498.9 L519.8,498.9 L519.3,498.9 L518.9,498.9 L518.3,498.9 L517.8,499.1 L517.2,499.4 L516.6,499.8 L516.0,500.2 L515.3,500.8 L514.6,501.4 L513.9,502.0 L513.2,502.6 L512.5,503.2 L512.0,503.7 L511.5,504.1 L511.1,504.4 Z" fill="#62a8ee" opacity="0.7"/>
<path d="M511,586 L549,583 L561,692 L526,692 Z" fill="#1b52b8"/>
<path d="M522,590 L534,590 L542,692 L531,692 Z" fill="#3c7ad8" opacity="0.55"/>
<path d="M508.5,591 L549,588 L551.5,609 L513,612 Z" fill="#aeaacb" opacity="0.97"/>
<path d="M523,647.5 L558,644.5 L561,671 L526,674 Z" fill="#b0aed0" opacity="0.97"/>
<path d="M524,676 L560,673 L562,700 L526,700 Z" fill="#c8c6e0" opacity="0.9"/>
<path d="M418.0,607.0 C419.7,605.0 424.3,598.8 428.0,595.0 C431.7,591.2 434.7,588.8 440.0,584.0 C445.3,579.2 452.5,570.8 460.0,566.0 C467.5,561.2 477.5,557.2 485.0,555.0 C492.5,552.8 500.0,551.7 505.0,553.0 C510.0,554.3 512.5,558.0 515.0,563.0 C517.5,568.0 519.2,579.7 520.0,583.0" fill="none" stroke="#10368a" stroke-width="25.5" stroke-linecap="butt"/>
<path d="M418.0,607.0 C419.7,605.0 424.3,598.8 428.0,595.0 C431.7,591.2 434.7,588.8 440.0,584.0 C445.3,579.2 452.5,570.8 460.0,566.0 C467.5,561.2 477.5,557.2 485.0,555.0 C492.5,552.8 500.0,551.7 505.0,553.0 C510.0,554.3 512.5,558.0 515.0,563.0 C517.5,568.0 519.2,579.7 520.0,583.0" fill="none" stroke="#1d5cc6" stroke-width="23" stroke-linecap="butt"/>
<path d="M418.0,607.0 C419.7,605.0 424.3,598.8 428.0,595.0 C431.7,591.2 434.7,588.8 440.0,584.0 C445.3,579.2 452.5,570.8 460.0,566.0 C467.5,561.2 477.5,557.2 485.0,555.0 C492.5,552.8 500.0,551.7 505.0,553.0 C510.0,554.3 512.5,558.0 515.0,563.0 C517.5,568.0 519.2,579.7 520.0,583.0" fill="none" stroke="#1548a8" stroke-width="7" opacity="0.6" transform="translate(3,4)"/>
<path d="M418.0,607.0 C419.7,605.0 424.3,598.8 428.0,595.0 C431.7,591.2 434.7,588.8 440.0,584.0 C445.3,579.2 452.5,570.8 460.0,566.0 C467.5,561.2 477.5,557.2 485.0,555.0 C492.5,552.8 500.0,551.7 505.0,553.0 C510.0,554.3 512.5,558.0 515.0,563.0 C517.5,568.0 519.2,579.7 520.0,583.0" fill="none" stroke="#5696e4" stroke-width="5" opacity="0.55" transform="translate(-3,-5)"/>
<path d="M498,541 L514,541 L528,560 L545,580 L550,588 L511,590 L504,566 Z" fill="#1d5cc6"/>
<ellipse cx="418" cy="608" rx="13.2" ry="10.6" transform="rotate(35 418 608)" fill="#8fc0f0"/>
<ellipse cx="418.3" cy="608.2" rx="11.4" ry="8.8" transform="rotate(35 418 608)" fill="#1a4cb0"/>
<path d="M524.0,556.0 C525.4,553.8 541.8,551.2 545.0,551.0 C548.2,550.8 560.8,551.9 563.0,553.0 C565.2,554.1 571.6,562.0 572.0,564.0 C572.4,566.0 570.2,575.7 568.0,577.0 C565.8,578.3 548.3,579.9 545.0,580.0 C541.7,580.1 529.8,580.0 528.0,578.0 C526.2,576.0 522.6,558.2 524.0,556.0 Z" fill="#f3dbbb" stroke="#d3ab86" stroke-width="1.2" opacity="1" stroke-linejoin="round" />
<path d="M525.0,556.0 C526.1,554.9 532.0,556.0 533.0,557.0 C534.0,558.0 536.7,566.2 537.0,568.0 C537.3,569.8 538.5,578.1 537.0,579.0 C535.5,579.9 520.4,579.8 519.0,579.0 C517.6,578.2 519.5,571.9 520.0,570.0 C520.5,568.1 523.9,557.1 525.0,556.0 Z" fill="#e4d5cc" stroke="#d2b79e" stroke-width="0.9" opacity="1" stroke-linejoin="round" />
</g>
<rect x="240" y="645" width="440" height="35" fill="url(#fadeB)"/><rect x="240" y="679.5" width="440" height="40" fill="#fff"/>
<path d="M350.0,76.4 L369.5,76.4 L511.4,234.0" fill="none" stroke="#1c1512" stroke-width="1.7" stroke-linejoin="miter"/>
<path d="M272.0,144.9 L286.4,144.9 L366.4,243.8" fill="none" stroke="#1c1512" stroke-width="1.7" stroke-linejoin="miter"/>
<path d="M212.6,186.0 L271.9,186.0 L457.5,321.0" fill="none" stroke="#1c1512" stroke-width="1.7" stroke-linejoin="miter"/>
<path d="M207.3,252.4 L241.6,252.4 L463.4,357.8" fill="none" stroke="#1c1512" stroke-width="1.7" stroke-linejoin="miter"/>
<path d="M273.2,324.4 L307.5,324.4 L483.0,417.5" fill="none" stroke="#1c1512" stroke-width="1.7" stroke-linejoin="miter"/>
<path d="M290.4,365.0 L307.5,365.0 L512.0,441.5" fill="none" stroke="#1c1512" stroke-width="1.7" stroke-linejoin="miter"/>
<path d="M350.7,433.4 L374.0,433.4 L497.5,488.3 L533.0,470.6" fill="none" stroke="#1c1512" stroke-width="1.7" stroke-linejoin="miter"/>
<path d="M497.5,488.3 L520.4,498.8" fill="none" stroke="#1c1512" stroke-width="1.7" stroke-linejoin="miter"/>
<path d="M301.6,504.3 L328.0,504.3 L514.0,568.0" fill="none" stroke="#1c1512" stroke-width="1.7" stroke-linejoin="miter"/>
<path d="M298.0,572.0 L445.0,574.6" fill="none" stroke="#1c1512" stroke-width="1.7" stroke-linejoin="miter"/>
<path d="M212.0,614.2 L245.0,614.5 L539.0,634.0" fill="none" stroke="#1c1512" stroke-width="1.7" stroke-linejoin="miter"/>
<path d="M721.0,121.3 L684.8,121.3 L622.0,211.4" fill="none" stroke="#1c1512" stroke-width="1.7" stroke-linejoin="miter"/>
<path d="M721.0,171.0 L693.0,171.0 L624.0,294.0" fill="none" stroke="#1c1512" stroke-width="1.7" stroke-linejoin="miter"/>
</g>
</svg>
</div>
<div class="lb" style="left:98px;top:63px;">Superficial temporal<br>vein</div>
<div class="lb" style="left:98px;top:130px;">Occipital vein</div>
<div class="lb" style="left:97px;top:171px;">Posterior<br>auricular vein</div>
<div class="lb" style="left:100px;top:240px;">External<br>jugular vein</div>
<div class="lb" style="left:100px;top:310px;">Vertebral vein</div>
<div class="lb" style="left:100px;top:350px;">Internal jugular<br>vein</div>
<div class="lb" style="left:97px;top:419px;">Superior and middle<br>thyroid veins</div>
<div class="lb" style="left:98px;top:488px;">Brachiocephalic<br>vein</div>
<div class="lb" style="left:98px;top:557px;">Subclavian vein</div>
<div class="lb" style="left:98px;top:600px;">Superior<br>vena cava</div>
<div class="lb" style="left:728px;top:111px;">Ophthalmic vein</div>
<div class="lb" style="left:728px;top:159px;">Facial vein</div>
<div class="cap" style="left:98px;top:680px;">Veins of the head and neck, right superficial aspect</div>
</body></html>
